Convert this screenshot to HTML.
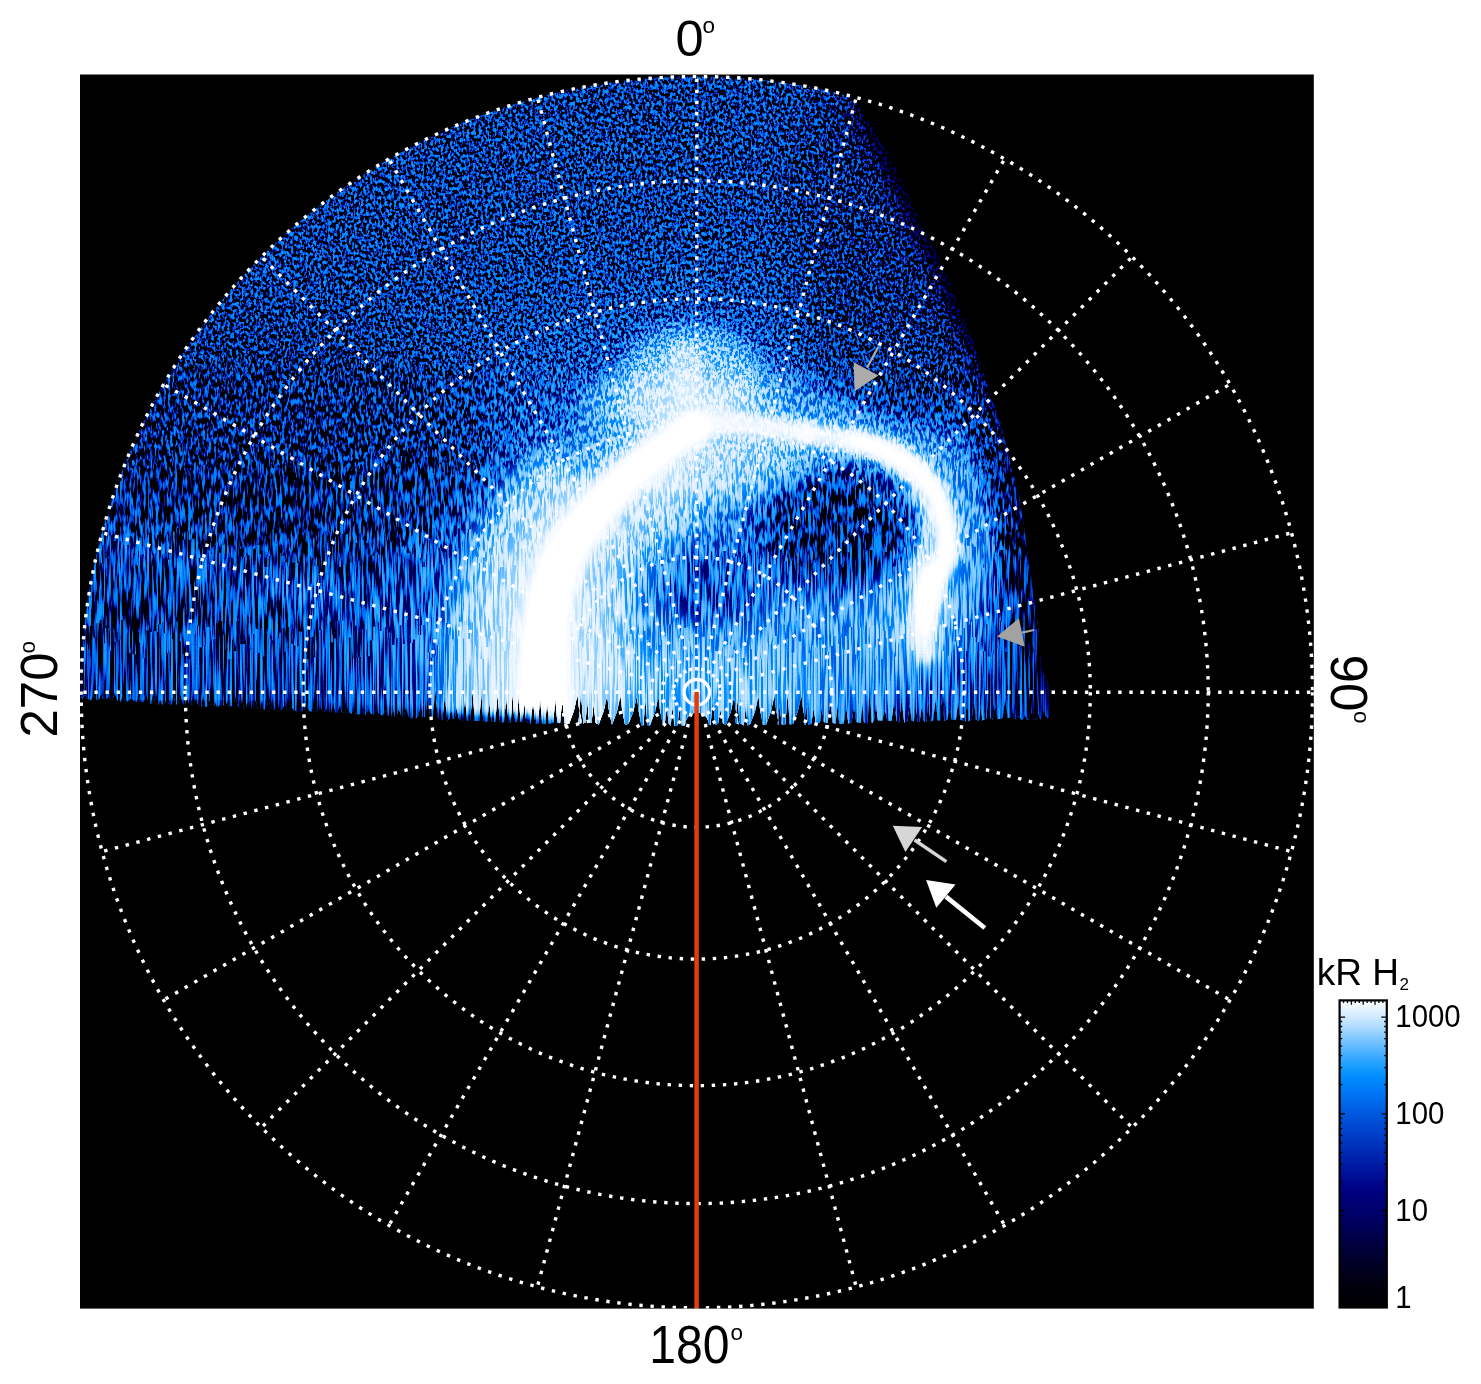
<!DOCTYPE html>
<html lang="en"><head><meta charset="utf-8"><title>Polar projection of auroral emission</title>
<style>html,body{margin:0;padding:0;background:#fff}svg{display:block}</style></head><body>
<svg width="1481" height="1384" viewBox="0 0 1481 1384">
<defs>
<clipPath id="cpBox"><rect x="80" y="74.5" width="1233.8" height="1234.1"/></clipPath>
<clipPath id="cpUp"><rect x="80" y="74.5" width="1233.8" height="619.7"/></clipPath>
<clipPath id="cpData"><path d="M 80 725 L 80 692.2 L 81.8 692.2 A 615 615 0 0 1 850.6 96.7 L 890.6 157 L 919.7 220 L 943.8 268 L 972.9 341 L 1001.9 428 L 1021 505 L 1031 578 L 1038 626 L 1042 675 L 1046 690 L 1049 725 Z"/></clipPath>
<linearGradient id="cbg" x1="0" y1="0" x2="0" y2="1"><stop offset="0.000" stop-color="rgb(255,255,255)"/><stop offset="0.025" stop-color="rgb(233,245,255)"/><stop offset="0.050" stop-color="rgb(212,235,255)"/><stop offset="0.075" stop-color="rgb(186,224,255)"/><stop offset="0.100" stop-color="rgb(157,212,255)"/><stop offset="0.125" stop-color="rgb(128,199,255)"/><stop offset="0.150" stop-color="rgb(99,187,255)"/><stop offset="0.175" stop-color="rgb(69,174,255)"/><stop offset="0.200" stop-color="rgb(42,163,255)"/><stop offset="0.225" stop-color="rgb(16,152,255)"/><stop offset="0.250" stop-color="rgb(0,141,253)"/><stop offset="0.275" stop-color="rgb(0,129,249)"/><stop offset="0.300" stop-color="rgb(0,118,246)"/><stop offset="0.325" stop-color="rgb(0,107,237)"/><stop offset="0.350" stop-color="rgb(0,96,228)"/><stop offset="0.375" stop-color="rgb(0,86,220)"/><stop offset="0.400" stop-color="rgb(0,76,212)"/><stop offset="0.425" stop-color="rgb(0,67,204)"/><stop offset="0.450" stop-color="rgb(0,58,196)"/><stop offset="0.475" stop-color="rgb(0,49,187)"/><stop offset="0.500" stop-color="rgb(0,39,178)"/><stop offset="0.525" stop-color="rgb(0,30,169)"/><stop offset="0.550" stop-color="rgb(0,21,159)"/><stop offset="0.575" stop-color="rgb(0,13,149)"/><stop offset="0.600" stop-color="rgb(0,5,138)"/><stop offset="0.625" stop-color="rgb(0,0,128)"/><stop offset="0.650" stop-color="rgb(0,0,120)"/><stop offset="0.675" stop-color="rgb(0,0,112)"/><stop offset="0.700" stop-color="rgb(0,0,104)"/><stop offset="0.725" stop-color="rgb(0,0,93)"/><stop offset="0.750" stop-color="rgb(0,0,83)"/><stop offset="0.775" stop-color="rgb(0,0,72)"/><stop offset="0.800" stop-color="rgb(0,0,61)"/><stop offset="0.825" stop-color="rgb(0,0,52)"/><stop offset="0.850" stop-color="rgb(0,0,42)"/><stop offset="0.875" stop-color="rgb(0,0,33)"/><stop offset="0.900" stop-color="rgb(0,0,23)"/><stop offset="0.925" stop-color="rgb(0,0,14)"/><stop offset="0.950" stop-color="rgb(0,0,10)"/><stop offset="0.975" stop-color="rgb(0,0,5)"/><stop offset="1.000" stop-color="rgb(0,0,0)"/></linearGradient>
<clipPath id="cpRag"><path d="M 1049 717.9 L 1046.3 717.4 L 1044.1 710 L 1041.8 717.4 L 1040.3 719.5 L 1038.3 713.6 L 1036.3 719.5 L 1033.1 719.2 L 1030.9 711.2 L 1028.7 719.2 L 1026.8 720.1 L 1024.8 714.9 L 1022.7 720.1 L 1021.1 719.5 L 1018.7 715.8 L 1016.3 719.5 L 1013.9 717.6 L 1011.9 709 L 1009.9 717.6 L 1007.7 718 L 1005.2 696.5 L 1002.7 718 L 997.7 719.2 L 995.2 704.6 L 992.6 719.2 L 990.2 718.5 L 988.3 694.6 L 986.4 718.5 L 982.3 720.6 L 980.7 703.8 L 979 720.6 L 975.8 719.7 L 973.8 695.4 L 971.8 719.7 L 968.6 721.3 L 967 692.9 L 965.4 721.3 L 960.4 719.7 L 958.2 700.5 L 955.9 719.7 L 951.8 719.5 L 949.6 705.5 L 947.3 719.5 L 944.2 720.4 L 942.1 691.7 L 940 720.4 L 937.9 720.6 L 935.5 699.4 L 933.1 720.6 L 930.4 721.5 L 928.4 700.4 L 926.3 721.5 L 924 721.4 L 921.9 704.7 L 919.7 721.4 L 917.6 721.3 L 915.7 701.5 L 913.9 721.3 L 911.7 720.4 L 909.6 704.3 L 907.6 720.4 L 904.2 722.5 L 901.6 699 L 899 722.5 L 896.5 720.4 L 894 701.5 L 891.5 720.4 L 887.2 720.8 L 884.7 708.8 L 882.2 720.8 L 877.9 720.2 L 876 704.3 L 874 720.2 L 871.9 723.3 L 869.7 689.6 L 867.5 723.3 L 864 722.8 L 862.3 703 L 860.7 722.8 L 856.2 722.1 L 854 705 L 851.7 722.1 L 848.3 723.5 L 846.1 704.5 L 843.8 723.5 L 839.2 723.5 L 837.4 704.1 L 835.6 723.5 L 832.8 723.1 L 830.3 699.7 L 827.7 723.1 L 823.6 721.9 L 821.8 704.5 L 820 721.9 L 815.9 724 L 813.6 707.7 L 811.3 724 L 808.1 724.4 L 806.2 701.8 L 804.4 724.4 L 806 724.5 L 803 708.6 L 801.5 694.6 L 798 710.6 L 793 724.1 L 789.7 724.2 L 787.6 692.8 L 785.4 724.2 L 781.6 724.2 L 779.7 703.6 L 777.7 724.2 L 779 724.9 L 776 709.1 L 774.5 695.1 L 771 711.1 L 766 724.7 L 763 725 L 760 709.4 L 758.5 695.4 L 755 711.4 L 750 724.2 L 747.7 725.4 L 745.8 705.4 L 743.8 725.4 L 739.7 723.1 L 737.6 699.3 L 735.4 723.1 L 738.7 724.4 L 735.7 709.9 L 734.2 695.9 L 730.7 711.9 L 725.7 724.7 L 722.7 723.3 L 720.4 709.2 L 718.2 723.3 L 715.2 725.2 L 712.9 697 L 710.6 725.2 L 709 724.3 L 709 725.5 L 708.6 722.1 L 707.4 719 L 705.5 716.3 L 703 714.2 L 700.1 712.9 L 697 712.5 L 693.9 712.9 L 691 714.2 L 688.5 716.3 L 686.6 719 L 685.4 722.1 L 685 725.5 L 681.5 725.2 L 679.5 708.6 L 677.4 725.2 L 674.4 725.9 L 672.6 705.6 L 670.7 725.9 L 668.7 723.6 L 666.8 706.4 L 664.8 723.6 L 663 724.9 L 660 709.9 L 658.5 695.9 L 655 711.9 L 650 725.3 L 647.5 725.2 L 645.4 699.6 L 643.4 725.2 L 641.4 725.2 L 638.4 709.5 L 636.9 695.5 L 633.4 711.5 L 628.4 724 L 625 724.6 L 622 709.3 L 620.5 695.3 L 617 711.3 L 612 724.6 L 611.7 723.8 L 608.7 709.1 L 607.2 695.1 L 603.7 711.1 L 598.7 724.6 L 595.7 722.9 L 593.6 703.7 L 591.5 722.9 L 589.1 722.6 L 587.3 700 L 585.5 722.6 L 583.3 723.5 L 580.9 691.5 L 578.5 723.5 L 582 722.9 L 579 708.6 L 577.5 694.6 L 574 710.6 L 569 723.9 L 564.5 723.3 L 562.3 697.5 L 560.1 723.3 L 557.3 722.6 L 555.3 697.7 L 553.3 722.6 L 548.8 724.1 L 547.1 699.2 L 545.3 724.1 L 541.7 723.6 L 540.1 691.6 L 538.4 723.6 L 535.3 723.6 L 533 700.4 L 530.7 723.6 L 526.2 721.8 L 524.4 701.6 L 522.5 721.8 L 520.5 721.7 L 518.7 693.2 L 517 721.7 L 514.4 722.5 L 512.6 691.4 L 510.8 722.5 L 508.5 722.2 L 506.2 696.2 L 504 722.2 L 500 721.9 L 497.6 693.9 L 495.2 721.9 L 491.3 721.6 L 489.3 700.7 L 487.3 721.6 L 483.2 721 L 481.3 690.1 L 479.4 721 L 474.8 721.1 L 472.6 689 L 470.3 721.1 L 467 720.9 L 465 695.5 L 463 720.9 L 458.5 718.5 L 456.7 705.9 L 455 718.5 L 452.7 718.6 L 451.1 706.7 L 449.4 718.6 L 447.1 720.4 L 444.8 694.2 L 442.5 720.4 L 437.6 717.1 L 435.3 687 L 432.9 717.1 L 430.3 717.2 L 427.7 696.1 L 425.2 717.2 L 421.8 717.1 L 419.8 710.2 L 417.8 717.1 L 415.7 718.6 L 414 709.3 L 412.3 718.6 L 408.3 716.5 L 406 706 L 403.6 716.5 L 401.4 717 L 398.8 708.6 L 396.3 717 L 394.8 716.8 L 392.9 709.3 L 391.1 716.8 L 387.6 715.4 L 385.2 710.2 L 382.8 715.4 L 379.2 714.3 L 376.6 708.4 L 374 714.3 L 370.9 714 L 368.8 709 L 366.7 714 L 364.2 714.5 L 362 710.8 L 359.8 714.5 L 355.9 713.7 L 353.6 709.2 L 351.2 713.7 L 349.5 712.6 L 347.1 705.4 L 344.8 712.6 L 341.9 712.8 L 339.7 705.5 L 337.5 712.8 L 335.2 712.3 L 333.3 701.3 L 331.3 712.3 L 328.6 712.1 L 326.5 708.4 L 324.5 712.1 L 322.4 711.6 L 320.5 706.3 L 318.6 711.6 L 314.8 712.1 L 312.9 706.1 L 311 712.1 L 308.5 710 L 306.4 703 L 304.2 710 L 301.1 711.8 L 299.4 706.1 L 297.7 711.8 L 293.7 710.3 L 291.4 706.4 L 289.1 710.3 L 286.9 709.2 L 284.5 705.5 L 282 709.2 L 279 709.6 L 276.7 701.8 L 274.5 709.6 L 270.6 708.8 L 268.5 698.2 L 266.5 708.8 L 263.8 709.5 L 261.8 699.8 L 259.9 709.5 L 257.8 708.5 L 255.7 699.4 L 253.5 708.5 L 250.4 707.6 L 248.2 699.1 L 245.9 707.6 L 243.7 708.5 L 242.1 697.1 L 240.4 708.5 L 238 706.3 L 235.4 696.7 L 232.8 706.3 L 229.2 706.1 L 227.2 701.5 L 225.2 706.1 L 222.6 705.3 L 221 703.5 L 219.3 705.3 L 217.1 707.2 L 215.3 702.6 L 213.6 707.2 L 211.1 707.1 L 209 697.9 L 206.9 707.1 L 205.1 706.7 L 203.2 695.3 L 201.4 706.7 L 197.6 704.1 L 195.5 699.3 L 193.3 704.1 L 189.5 705.5 L 187.2 697.2 L 184.8 705.5 L 182.7 703.1 L 180.5 693.6 L 178.4 703.1 L 175.4 704.9 L 173.6 693.8 L 171.8 704.9 L 168.7 703.4 L 166.6 700.8 L 164.6 703.4 L 162.2 704.4 L 160.2 699.9 L 158.2 704.4 L 155.4 703.9 L 153.2 692.6 L 151.1 703.9 L 148.2 701.9 L 146.1 692.2 L 143.9 701.9 L 140.2 701.9 L 138.5 692.2 L 136.9 701.9 L 133.9 701.2 L 131.3 697 L 128.7 701.2 L 125.2 701.9 L 122.8 693.8 L 120.5 701.9 L 117.3 700.2 L 114.8 692.2 L 112.4 700.2 L 110.1 698.8 L 108.5 696.6 L 106.8 698.8 L 102.8 698.7 L 101.1 691.9 L 99.3 698.7 L 95.4 700.3 L 93.3 695.3 L 91.2 700.3 L 87.5 698.6 L 84.9 694.4 L 82.4 698.6 L 80 697 L 80 692.2 L 81.1 692.2 A 615.7 615.7 0 0 1 850.8 96.1 L 890.6 157 L 919.7 220 L 943.8 268 L 972.9 341 L 1001.9 428 L 1021 505 L 1031 578 L 1038 626 L 1041.5 672 L 1046 676 L 1049.5 690 Z"/></clipPath>
<filter id="b6" x="-50%" y="-50%" width="200%" height="200%" color-interpolation-filters="sRGB"><feGaussianBlur stdDeviation="5"/></filter>
<filter id="b12" x="-50%" y="-50%" width="200%" height="200%" color-interpolation-filters="sRGB"><feGaussianBlur stdDeviation="11"/></filter>
<filter id="b25" x="-50%" y="-50%" width="200%" height="200%" color-interpolation-filters="sRGB"><feGaussianBlur stdDeviation="24"/></filter>
<filter id="b40" x="-50%" y="-50%" width="200%" height="200%" color-interpolation-filters="sRGB"><feGaussianBlur stdDeviation="40"/></filter>
<filter id="b60" x="-50%" y="-50%" width="200%" height="200%" color-interpolation-filters="sRGB"><feGaussianBlur stdDeviation="60"/></filter>
<filter id="nA" filterUnits="userSpaceOnUse" x="70" y="36" width="1000" height="726" color-interpolation-filters="sRGB"><feTurbulence type="fractalNoise" baseFrequency="0.33 0.31" numOctaves="2" seed="3" result="t1"/><feTurbulence type="fractalNoise" baseFrequency="0.426 0.245" numOctaves="2" seed="23" result="t2"/><feComposite in="t1" in2="t2" operator="arithmetic" k1="0" k2="0.5" k3="0.5" k4="0" result="t"/><feColorMatrix in="t" type="matrix" values="1 0 0 0 0 1 0 0 0 0 1 0 0 0 0 0 0 0 0 1" result="g"/><feComponentTransfer in="g" result="s"><feFuncR type="table" tableValues="0 0 0 0 0 0 0 0 0 0 0 0 0 0 0 0 0 0 0 0 0 0 0 0 0 0 0 0 0 0 0 0 0 0 0.0103 0.138 0.267 0.395 0.508 0.62 0.732 0.782 0.821 0.859 0.886 0.909 0.931 0.95 0.967 0.983 1 1 1 1 1 1 1 1 1 1 1 1 1 1 1 1 1 1 1 1 1 1 1 1 1 1 1 1 1 1 1"/><feFuncG type="table" tableValues="0 0 0 0 0 0 0 0 0 0 0 0 0 0 0 0 0 0 0 0 0 0 0 0 0 0 0 0 0 0 0 0 0 0 0.0103 0.138 0.267 0.395 0.508 0.62 0.732 0.782 0.821 0.859 0.886 0.909 0.931 0.95 0.967 0.983 1 1 1 1 1 1 1 1 1 1 1 1 1 1 1 1 1 1 1 1 1 1 1 1 1 1 1 1 1 1 1"/><feFuncB type="table" tableValues="0 0 0 0 0 0 0 0 0 0 0 0 0 0 0 0 0 0 0 0 0 0 0 0 0 0 0 0 0 0 0 0 0 0 0.0103 0.138 0.267 0.395 0.508 0.62 0.732 0.782 0.821 0.859 0.886 0.909 0.931 0.95 0.967 0.983 1 1 1 1 1 1 1 1 1 1 1 1 1 1 1 1 1 1 1 1 1 1 1 1 1 1 1 1 1 1 1"/></feComponentTransfer><feComponentTransfer in="SourceGraphic" result="xa"><feFuncR type="table" tableValues="0 0.35 0.5 0.65 0.8 0.76 0.625 0.39 0.145 0.085 0"/><feFuncG type="table" tableValues="0 0.35 0.5 0.65 0.8 0.76 0.625 0.39 0.145 0.085 0"/><feFuncB type="table" tableValues="0 0.35 0.5 0.65 0.8 0.76 0.625 0.39 0.145 0.085 0"/></feComponentTransfer><feComponentTransfer in="SourceGraphic" result="bh"><feFuncR type="table" tableValues="0 0 0 0 0 0.1 0.25 0.5 0.8 0.9 1"/><feFuncG type="table" tableValues="0 0 0 0 0 0.1 0.25 0.5 0.8 0.9 1"/><feFuncB type="table" tableValues="0 0 0 0 0 0.1 0.25 0.5 0.8 0.9 1"/></feComponentTransfer><feComposite in="xa" in2="s" operator="arithmetic" k1="1" k2="0" k3="0" k4="0" result="m"/><feComposite in="bh" in2="m" operator="arithmetic" k1="0" k2="1" k3="1" k4="0" result="w"/><feComponentTransfer in="w"><feFuncR type="table" tableValues="0.000 0.000 0.000 0.000 0.000 0.000 0.000 0.000 0.000 0.000 0.000 0.000 0.000 0.000 0.000 0.000 0.000 0.000 0.000 0.000 0.000 0.000 0.000 0.000 0.000 0.000 0.000 0.000 0.000 0.000 0.000 0.000 0.000 0.000 0.000 0.000 0.000 0.000 0.000 0.000 0.000 0.000 0.000 0.000 0.000 0.000 0.000 0.000 0.000 0.000 0.000 0.000 0.000 0.000 0.000 0.000 0.000 0.089 0.220 0.360 0.503 0.646 0.789 0.896 1.000"/><feFuncG type="table" tableValues="0.000 0.000 0.000 0.000 0.000 0.000 0.000 0.000 0.000 0.000 0.000 0.000 0.000 0.000 0.000 0.000 0.000 0.000 0.000 0.000 0.000 0.000 0.000 0.000 0.000 0.000 0.000 0.000 0.000 0.000 0.000 0.000 0.000 0.000 0.000 0.000 0.000 0.000 0.000 0.000 0.000 0.000 0.000 0.000 0.000 0.028 0.070 0.113 0.157 0.201 0.246 0.292 0.338 0.389 0.442 0.497 0.554 0.609 0.662 0.721 0.782 0.844 0.905 0.953 1.000"/><feFuncB type="table" tableValues="0.000 0.000 0.000 0.000 0.000 0.000 0.000 0.000 0.000 0.000 0.000 0.000 0.000 0.000 0.000 0.000 0.000 0.000 0.000 0.000 0.000 0.000 0.000 0.000 0.000 0.000 0.000 0.000 0.000 0.000 0.000 0.000 0.000 0.025 0.049 0.083 0.130 0.177 0.224 0.274 0.325 0.377 0.424 0.464 0.505 0.554 0.606 0.654 0.698 0.742 0.785 0.824 0.864 0.906 0.948 0.976 0.994 1.000 1.000 1.000 1.000 1.000 1.000 1.000 1.000"/></feComponentTransfer></filter>
<filter id="nB" filterUnits="userSpaceOnUse" x="70" y="348" width="1000" height="414" color-interpolation-filters="sRGB"><feTurbulence type="fractalNoise" baseFrequency="0.34 0.16" numOctaves="2" seed="7" result="t1"/><feTurbulence type="fractalNoise" baseFrequency="0.439 0.126" numOctaves="2" seed="27" result="t2"/><feComposite in="t1" in2="t2" operator="arithmetic" k1="0" k2="0.5" k3="0.5" k4="0" result="t"/><feColorMatrix in="t" type="matrix" values="1 0 0 0 0 1 0 0 0 0 1 0 0 0 0 0 0 0 0 1" result="g"/><feComponentTransfer in="g" result="s"><feFuncR type="table" tableValues="0 0 0 0 0 0 0 0 0 0 0 0 0 0 0 0 0 0 0 0 0 0 0 0 0 0 0 0 0 0 0 0 0 0 0.0103 0.138 0.267 0.395 0.508 0.62 0.732 0.782 0.821 0.859 0.886 0.909 0.931 0.95 0.967 0.983 1 1 1 1 1 1 1 1 1 1 1 1 1 1 1 1 1 1 1 1 1 1 1 1 1 1 1 1 1 1 1"/><feFuncG type="table" tableValues="0 0 0 0 0 0 0 0 0 0 0 0 0 0 0 0 0 0 0 0 0 0 0 0 0 0 0 0 0 0 0 0 0 0 0.0103 0.138 0.267 0.395 0.508 0.62 0.732 0.782 0.821 0.859 0.886 0.909 0.931 0.95 0.967 0.983 1 1 1 1 1 1 1 1 1 1 1 1 1 1 1 1 1 1 1 1 1 1 1 1 1 1 1 1 1 1 1"/><feFuncB type="table" tableValues="0 0 0 0 0 0 0 0 0 0 0 0 0 0 0 0 0 0 0 0 0 0 0 0 0 0 0 0 0 0 0 0 0 0 0.0103 0.138 0.267 0.395 0.508 0.62 0.732 0.782 0.821 0.859 0.886 0.909 0.931 0.95 0.967 0.983 1 1 1 1 1 1 1 1 1 1 1 1 1 1 1 1 1 1 1 1 1 1 1 1 1 1 1 1 1 1 1"/></feComponentTransfer><feComponentTransfer in="SourceGraphic" result="xa"><feFuncR type="table" tableValues="0 0.35 0.5 0.65 0.8 0.76 0.625 0.39 0.145 0.085 0"/><feFuncG type="table" tableValues="0 0.35 0.5 0.65 0.8 0.76 0.625 0.39 0.145 0.085 0"/><feFuncB type="table" tableValues="0 0.35 0.5 0.65 0.8 0.76 0.625 0.39 0.145 0.085 0"/></feComponentTransfer><feComponentTransfer in="SourceGraphic" result="bh"><feFuncR type="table" tableValues="0 0 0 0 0 0.1 0.25 0.5 0.8 0.9 1"/><feFuncG type="table" tableValues="0 0 0 0 0 0.1 0.25 0.5 0.8 0.9 1"/><feFuncB type="table" tableValues="0 0 0 0 0 0.1 0.25 0.5 0.8 0.9 1"/></feComponentTransfer><feComposite in="xa" in2="s" operator="arithmetic" k1="1" k2="0" k3="0" k4="0" result="m"/><feComposite in="bh" in2="m" operator="arithmetic" k1="0" k2="1" k3="1" k4="0" result="w"/><feComponentTransfer in="w"><feFuncR type="table" tableValues="0.000 0.000 0.000 0.000 0.000 0.000 0.000 0.000 0.000 0.000 0.000 0.000 0.000 0.000 0.000 0.000 0.000 0.000 0.000 0.000 0.000 0.000 0.000 0.000 0.000 0.000 0.000 0.000 0.000 0.000 0.000 0.000 0.000 0.000 0.000 0.000 0.000 0.000 0.000 0.000 0.000 0.000 0.000 0.000 0.000 0.000 0.000 0.000 0.000 0.000 0.000 0.000 0.000 0.000 0.000 0.000 0.000 0.089 0.220 0.360 0.503 0.646 0.789 0.896 1.000"/><feFuncG type="table" tableValues="0.000 0.000 0.000 0.000 0.000 0.000 0.000 0.000 0.000 0.000 0.000 0.000 0.000 0.000 0.000 0.000 0.000 0.000 0.000 0.000 0.000 0.000 0.000 0.000 0.000 0.000 0.000 0.000 0.000 0.000 0.000 0.000 0.000 0.000 0.000 0.000 0.000 0.000 0.000 0.000 0.000 0.000 0.000 0.000 0.000 0.028 0.070 0.113 0.157 0.201 0.246 0.292 0.338 0.389 0.442 0.497 0.554 0.609 0.662 0.721 0.782 0.844 0.905 0.953 1.000"/><feFuncB type="table" tableValues="0.000 0.000 0.000 0.000 0.000 0.000 0.000 0.000 0.000 0.000 0.000 0.000 0.000 0.000 0.000 0.000 0.000 0.000 0.000 0.000 0.000 0.000 0.000 0.000 0.000 0.000 0.000 0.000 0.000 0.000 0.000 0.000 0.000 0.025 0.049 0.083 0.130 0.177 0.224 0.274 0.325 0.377 0.424 0.464 0.505 0.554 0.606 0.654 0.698 0.742 0.785 0.824 0.864 0.906 0.948 0.976 0.994 1.000 1.000 1.000 1.000 1.000 1.000 1.000 1.000"/></feComponentTransfer></filter>
<clipPath id="cnB"><path d="M70 770 L70 371.9 L72.2 371.9 L72.2 377.5 L74.3 377.5 L74.3 370.9 L78.2 370.9 L78.2 355.4 L80.5 355.4 L80.5 379.1 L82.2 379.1 L82.2 358.1 L85.8 358.1 L85.8 391.2 L88.1 391.2 L88.1 359.6 L92 359.6 L92 365.2 L95 365.2 L95 376.3 L98.1 376.3 L98.1 388.6 L102 388.6 L102 379.7 L105.6 379.7 L105.6 383.8 L108.7 383.8 L108.7 369.2 L110.7 369.2 L110.7 362.6 L114.6 362.6 L114.6 380 L116.3 380 L116.3 388.4 L118.5 388.4 L118.5 379.7 L121.2 379.7 L121.2 362.8 L123.2 362.8 L123.2 375.2 L125.7 375.2 L125.7 377 L128.9 377 L128.9 384.8 L132.6 384.8 L132.6 377 L136.5 377 L136.5 371.8 L140.2 371.8 L140.2 384.6 L143.8 384.6 L143.8 357 L146.7 357 L146.7 372.7 L148.4 372.7 L148.4 366.7 L151.2 366.7 L151.2 352.3 L152.7 352.3 L152.7 375.5 L155.3 375.5 L155.3 391.1 L158.9 391.1 L158.9 385.2 L162.4 385.2 L162.4 361 L165.7 361 L165.7 355.9 L167.5 355.9 L167.5 367 L169.7 367 L169.7 353.3 L172.5 353.3 L172.5 390.6 L174.2 390.6 L174.2 361.5 L178 361.5 L178 373.1 L180.6 373.1 L180.6 368.7 L184.2 368.7 L184.2 370.8 L186.7 370.8 L186.7 366.5 L190.1 366.5 L190.1 352.8 L192.7 352.8 L192.7 377.6 L194.3 377.6 L194.3 364.7 L196.6 364.7 L196.6 377.8 L199.4 377.8 L199.4 371.9 L201.7 371.9 L201.7 369.2 L205.5 369.2 L205.5 356.5 L207.2 356.5 L207.2 358.4 L208.8 358.4 L208.8 357.7 L211.1 357.7 L211.1 381.5 L215 381.5 L215 352.6 L217.8 352.6 L217.8 361.6 L221.5 361.6 L221.5 391.8 L224.8 391.8 L224.8 353.1 L227.5 353.1 L227.5 369.3 L230.3 369.3 L230.3 360.9 L231.9 360.9 L231.9 376.2 L235.5 376.2 L235.5 365.4 L237.9 365.4 L237.9 353.8 L240.8 353.8 L240.8 384.6 L243.5 384.6 L243.5 357 L245.2 357 L245.2 386 L248.5 386 L248.5 362.2 L251.3 362.2 L251.3 356.9 L254.2 356.9 L254.2 353.1 L256.5 353.1 L256.5 371.4 L259.1 371.4 L259.1 363.8 L262.3 363.8 L262.3 361.9 L265.7 361.9 L265.7 385.2 L268.7 385.2 L268.7 390.4 L270.8 390.4 L270.8 391.1 L272.4 391.1 L272.4 374.5 L274.4 374.5 L274.4 356.6 L276.6 356.6 L276.6 367.2 L278.1 367.2 L278.1 363.3 L281.9 363.3 L281.9 384.1 L285 384.1 L285 390.6 L287.8 390.6 L287.8 382.3 L291.5 382.3 L291.5 373 L294.2 373 L294.2 358.3 L298.1 358.3 L298.1 365.4 L300.1 365.4 L300.1 361.2 L303.5 361.2 L303.5 363.5 L306.7 363.5 L306.7 377.4 L310.6 377.4 L310.6 384.6 L314.4 384.6 L314.4 360.6 L316 360.6 L316 353.2 L318 353.2 L318 355.5 L319.9 355.5 L319.9 380.2 L322.5 380.2 L322.5 362.3 L325.2 362.3 L325.2 360.5 L327.6 360.5 L327.6 367.5 L329.3 367.5 L329.3 389.7 L333 389.7 L333 366.4 L336.1 366.4 L336.1 353 L338.5 353 L338.5 375.8 L341.1 375.8 L341.1 356.7 L343.8 356.7 L343.8 361.9 L346.8 361.9 L346.8 379.7 L349.7 379.7 L349.7 386.5 L353.2 386.5 L353.2 356.9 L357.1 356.9 L357.1 378.6 L360 378.6 L360 370.9 L363.5 370.9 L363.5 364 L366.7 364 L366.7 367.5 L369.6 367.5 L369.6 376.2 L372.4 376.2 L372.4 375.7 L374 375.7 L374 360.7 L376.4 360.7 L376.4 365.5 L378.9 365.5 L378.9 364.4 L381.1 364.4 L381.1 371 L383 371 L383 356.3 L386.8 356.3 L386.8 378.4 L390.3 378.4 L390.3 365.4 L394 365.4 L394 369.2 L396.7 369.2 L396.7 352.9 L398.7 352.9 L398.7 377.2 L402.1 377.2 L402.1 364.2 L405.7 364.2 L405.7 378.2 L407.3 378.2 L407.3 361.8 L411.2 361.8 L411.2 372.8 L412.7 372.8 L412.7 378.8 L415.2 378.8 L415.2 355.9 L419 355.9 L419 368.1 L422.2 368.1 L422.2 365.4 L425.9 365.4 L425.9 376 L428.3 376 L428.3 363.3 L432.1 363.3 L432.1 377.7 L436 377.7 L436 359.2 L438.6 359.2 L438.6 379.6 L442.6 379.6 L442.6 382.6 L445.2 382.6 L445.2 388.4 L448.6 388.4 L448.6 365.2 L451 365.2 L451 375.2 L455 375.2 L455 378 L457.6 378 L457.6 379 L459.3 379 L459.3 373.6 L462.3 373.6 L462.3 381.9 L466.1 381.9 L466.1 354.4 L469.2 354.4 L469.2 371.2 L471.4 371.2 L471.4 371.8 L473.6 371.8 L473.6 360 L477.3 360 L477.3 376.5 L479.1 376.5 L479.1 365.6 L480.7 365.6 L480.7 366.7 L483.1 366.7 L483.1 354.3 L484.8 354.3 L484.8 369.5 L488.8 369.5 L488.8 363.7 L492.6 363.7 L492.6 356.6 L496.1 356.6 L496.1 357.1 L499.3 357.1 L499.3 358.6 L503.1 358.6 L503.1 388.7 L505.2 388.7 L505.2 391.6 L508.4 391.6 L508.4 353.9 L512.1 353.9 L512.1 369.1 L514.7 369.1 L514.7 370 L516.8 370 L516.8 388.9 L520 388.9 L520 382.3 L523.6 382.3 L523.6 362.4 L526.9 362.4 L526.9 382 L529.3 382 L529.3 378.2 L532.2 378.2 L532.2 387.2 L535 387.2 L535 367.5 L538 367.5 L538 382.8 L541.2 382.8 L541.2 367.7 L544.2 367.7 L544.2 389.6 L547.4 389.6 L547.4 381.5 L549.3 381.5 L549.3 371 L552.1 371 L552.1 363.2 L555 363.2 L555 355.8 L556.9 355.8 L556.9 366.8 L560.4 366.8 L560.4 387.5 L562.6 387.5 L562.6 388 L566.4 388 L566.4 367.9 L568.9 367.9 L568.9 361.9 L570.7 361.9 L570.7 383.5 L573.1 383.5 L573.1 358.5 L576.5 358.5 L576.5 381.1 L578.6 381.1 L578.6 381.3 L582.3 381.3 L582.3 373.6 L585.8 373.6 L585.8 365.1 L589.3 365.1 L589.3 383.6 L592.8 383.6 L592.8 373.7 L595.1 373.7 L595.1 387.4 L598.7 387.4 L598.7 366.6 L602.1 366.6 L602.1 373.8 L605.4 373.8 L605.4 380.7 L608.7 380.7 L608.7 369.3 L612.6 369.3 L612.6 378.1 L615.4 378.1 L615.4 363.9 L618 363.9 L618 391.5 L620.4 391.5 L620.4 367.7 L622.2 367.7 L622.2 365.5 L623.9 365.5 L623.9 363.4 L626.5 363.4 L626.5 373.8 L628.2 373.8 L628.2 371.8 L632.2 371.8 L632.2 380.2 L636 380.2 L636 379.3 L637.9 379.3 L637.9 370.2 L639.9 370.2 L639.9 376.4 L641.5 376.4 L641.5 376 L645 376 L645 366.7 L648.3 366.7 L648.3 357.7 L651.2 357.7 L651.2 383.3 L655.1 383.3 L655.1 384.4 L657.8 384.4 L657.8 369.8 L660.4 369.8 L660.4 367.7 L662.8 367.7 L662.8 370.8 L664.6 370.8 L664.6 354.4 L666.7 354.4 L666.7 355.8 L668.4 355.8 L668.4 379.9 L670.4 379.9 L670.4 373.6 L673.2 373.6 L673.2 357.9 L676 357.9 L676 367.4 L678.6 367.4 L678.6 381.2 L681 381.2 L681 385.1 L684.9 385.1 L684.9 359 L686.8 359 L686.8 367.6 L690 367.6 L690 381.1 L692.2 381.1 L692.2 383.2 L694.5 383.2 L694.5 389.9 L696.7 389.9 L696.7 366 L699.3 366 L699.3 371.3 L701.4 371.3 L701.4 372 L704.1 372 L704.1 354.8 L707.6 354.8 L707.6 362.6 L710.6 362.6 L710.6 365.7 L712.7 365.7 L712.7 369.8 L714.9 369.8 L714.9 376.2 L718.4 376.2 L718.4 375.1 L721.1 375.1 L721.1 367 L724.2 367 L724.2 352.2 L725.7 352.2 L725.7 356.6 L727.7 356.6 L727.7 382.8 L731.2 382.8 L731.2 375.1 L732.9 375.1 L732.9 370.3 L736 370.3 L736 390.9 L739.5 390.9 L739.5 368.7 L741.5 368.7 L741.5 376.9 L744.1 376.9 L744.1 390.7 L748.1 390.7 L748.1 385.9 L751.8 385.9 L751.8 356.3 L754.6 356.3 L754.6 354.4 L756.8 354.4 L756.8 389.7 L760.5 389.7 L760.5 377.7 L764.4 377.7 L764.4 383.1 L767.6 383.1 L767.6 389.3 L769.7 389.3 L769.7 384.1 L772.3 384.1 L772.3 357.5 L775.1 357.5 L775.1 381.1 L778.5 381.1 L778.5 380.3 L781.4 380.3 L781.4 361.8 L783.7 361.8 L783.7 377 L785.8 377 L785.8 385.2 L787.7 385.2 L787.7 355.9 L791 355.9 L791 372.3 L793.1 372.3 L793.1 369.5 L797.1 369.5 L797.1 358.7 L800 358.7 L800 380.8 L803.6 380.8 L803.6 373.6 L805.6 373.6 L805.6 355.2 L807.9 355.2 L807.9 375.1 L811.3 375.1 L811.3 367.5 L814.7 367.5 L814.7 381.2 L816.3 381.2 L816.3 352.1 L817.9 352.1 L817.9 383.3 L819.9 383.3 L819.9 391 L822.3 391 L822.3 353.5 L824.9 353.5 L824.9 380.6 L827.8 380.6 L827.8 381.3 L829.8 381.3 L829.8 375.4 L831.8 375.4 L831.8 389.4 L835.4 389.4 L835.4 373.1 L839.2 373.1 L839.2 354.4 L842.3 354.4 L842.3 372.6 L845 372.6 L845 362 L847.9 362 L847.9 381 L851.3 381 L851.3 367 L852.8 367 L852.8 381.6 L854.9 381.6 L854.9 391.5 L857.7 391.5 L857.7 382.7 L859.3 382.7 L859.3 360.2 L862.4 360.2 L862.4 355 L865 355 L865 386.6 L868.7 386.6 L868.7 385.7 L871 385.7 L871 385.2 L873.3 385.2 L873.3 376.3 L876.2 376.3 L876.2 369.2 L878.3 369.2 L878.3 390.9 L881.2 390.9 L881.2 370.1 L883.6 370.1 L883.6 367.3 L885.6 367.3 L885.6 355.1 L888.1 355.1 L888.1 383.7 L892 383.7 L892 384.2 L894.2 384.2 L894.2 367.7 L897 367.7 L897 382.7 L898.7 382.7 L898.7 390.4 L900.7 390.4 L900.7 368.4 L902.4 368.4 L902.4 356 L904.7 356 L904.7 385.4 L907.1 385.4 L907.1 389.8 L909.9 389.8 L909.9 375.1 L911.8 375.1 L911.8 375.4 L914.4 375.4 L914.4 353.9 L917.3 353.9 L917.3 357.7 L921.3 357.7 L921.3 390.5 L923 390.5 L923 387.4 L925.4 387.4 L925.4 385.8 L927.2 385.8 L927.2 369 L928.9 369 L928.9 375.7 L930.8 375.7 L930.8 390.6 L934.8 390.6 L934.8 379.3 L938.2 379.3 L938.2 366.1 L940.8 366.1 L940.8 360.9 L943 360.9 L943 360.3 L946.3 360.3 L946.3 380.2 L948 380.2 L948 370.3 L950.3 370.3 L950.3 366.5 L953.9 366.5 L953.9 366.7 L957 366.7 L957 373.4 L959.8 373.4 L959.8 361.3 L962.8 361.3 L962.8 363.3 L964.7 363.3 L964.7 354.3 L967.9 354.3 L967.9 359.6 L970.6 359.6 L970.6 371.8 L972.8 371.8 L972.8 363.4 L976.6 363.4 L976.6 380.2 L979.5 380.2 L979.5 352.8 L983.5 352.8 L983.5 365.4 L986 365.4 L986 391.9 L987.8 391.9 L987.8 356.5 L990.4 356.5 L990.4 389.8 L993.8 389.8 L993.8 385.2 L997.4 385.2 L997.4 388.1 L999.2 388.1 L999.2 381 L1002.3 381 L1002.3 385.7 L1004.1 385.7 L1004.1 373.5 L1005.7 373.5 L1005.7 366.1 L1008.5 366.1 L1008.5 382.7 L1010.6 382.7 L1010.6 360.8 L1012.5 360.8 L1012.5 360.7 L1015.5 360.7 L1015.5 376.9 L1018 376.9 L1018 380 L1019.8 380 L1019.8 372.7 L1021.6 372.7 L1021.6 352.6 L1024.5 352.6 L1024.5 353.4 L1028.3 353.4 L1028.3 373.1 L1032.1 373.1 L1032.1 371.9 L1035.4 371.9 L1035.4 374.3 L1037.2 374.3 L1037.2 359.7 L1039.5 359.7 L1039.5 357.5 L1042.6 357.5 L1042.6 360.2 L1044.3 360.2 L1044.3 386.8 L1048.1 386.8 L1048.1 387.8 L1050.7 387.8 L1050.7 362.1 L1053.2 362.1 L1053.2 362.8 L1057 362.8 L1057 381.6 L1060.1 381.6 L1060.1 362.8 L1061.6 362.8 L1061.6 372.5 L1064.7 372.5 L1064.7 389.2 L1067.1 389.2 L1067.1 353.6 L1068.8 353.6 L1068.8 382.7 L1070.7 382.7 L1070.7 373.1 L1073.4 373.1 L1072 770Z"/></clipPath>
<filter id="nC" filterUnits="userSpaceOnUse" x="70" y="439" width="1000" height="323" color-interpolation-filters="sRGB"><feTurbulence type="fractalNoise" baseFrequency="0.34 0.075" numOctaves="2" seed="11" result="t1"/><feTurbulence type="fractalNoise" baseFrequency="0.439 0.0592" numOctaves="2" seed="31" result="t2"/><feComposite in="t1" in2="t2" operator="arithmetic" k1="0" k2="0.5" k3="0.5" k4="0" result="t"/><feColorMatrix in="t" type="matrix" values="1 0 0 0 0 1 0 0 0 0 1 0 0 0 0 0 0 0 0 1" result="g"/><feComponentTransfer in="g" result="s"><feFuncR type="table" tableValues="0 0 0 0 0 0 0 0 0 0 0 0 0 0 0 0 0 0 0 0 0 0 0 0 0 0 0 0 0 0 0 0 0 0 0.0103 0.138 0.267 0.395 0.508 0.62 0.732 0.782 0.821 0.859 0.886 0.909 0.931 0.95 0.967 0.983 1 1 1 1 1 1 1 1 1 1 1 1 1 1 1 1 1 1 1 1 1 1 1 1 1 1 1 1 1 1 1"/><feFuncG type="table" tableValues="0 0 0 0 0 0 0 0 0 0 0 0 0 0 0 0 0 0 0 0 0 0 0 0 0 0 0 0 0 0 0 0 0 0 0.0103 0.138 0.267 0.395 0.508 0.62 0.732 0.782 0.821 0.859 0.886 0.909 0.931 0.95 0.967 0.983 1 1 1 1 1 1 1 1 1 1 1 1 1 1 1 1 1 1 1 1 1 1 1 1 1 1 1 1 1 1 1"/><feFuncB type="table" tableValues="0 0 0 0 0 0 0 0 0 0 0 0 0 0 0 0 0 0 0 0 0 0 0 0 0 0 0 0 0 0 0 0 0 0 0.0103 0.138 0.267 0.395 0.508 0.62 0.732 0.782 0.821 0.859 0.886 0.909 0.931 0.95 0.967 0.983 1 1 1 1 1 1 1 1 1 1 1 1 1 1 1 1 1 1 1 1 1 1 1 1 1 1 1 1 1 1 1"/></feComponentTransfer><feComponentTransfer in="SourceGraphic" result="xa"><feFuncR type="table" tableValues="0 0.35 0.5 0.65 0.8 0.76 0.625 0.39 0.145 0.085 0"/><feFuncG type="table" tableValues="0 0.35 0.5 0.65 0.8 0.76 0.625 0.39 0.145 0.085 0"/><feFuncB type="table" tableValues="0 0.35 0.5 0.65 0.8 0.76 0.625 0.39 0.145 0.085 0"/></feComponentTransfer><feComponentTransfer in="SourceGraphic" result="bh"><feFuncR type="table" tableValues="0 0 0 0 0 0.1 0.25 0.5 0.8 0.9 1"/><feFuncG type="table" tableValues="0 0 0 0 0 0.1 0.25 0.5 0.8 0.9 1"/><feFuncB type="table" tableValues="0 0 0 0 0 0.1 0.25 0.5 0.8 0.9 1"/></feComponentTransfer><feComposite in="xa" in2="s" operator="arithmetic" k1="1" k2="0" k3="0" k4="0" result="m"/><feComposite in="bh" in2="m" operator="arithmetic" k1="0" k2="1" k3="1" k4="0" result="w"/><feComponentTransfer in="w"><feFuncR type="table" tableValues="0.000 0.000 0.000 0.000 0.000 0.000 0.000 0.000 0.000 0.000 0.000 0.000 0.000 0.000 0.000 0.000 0.000 0.000 0.000 0.000 0.000 0.000 0.000 0.000 0.000 0.000 0.000 0.000 0.000 0.000 0.000 0.000 0.000 0.000 0.000 0.000 0.000 0.000 0.000 0.000 0.000 0.000 0.000 0.000 0.000 0.000 0.000 0.000 0.000 0.000 0.000 0.000 0.000 0.000 0.000 0.000 0.000 0.089 0.220 0.360 0.503 0.646 0.789 0.896 1.000"/><feFuncG type="table" tableValues="0.000 0.000 0.000 0.000 0.000 0.000 0.000 0.000 0.000 0.000 0.000 0.000 0.000 0.000 0.000 0.000 0.000 0.000 0.000 0.000 0.000 0.000 0.000 0.000 0.000 0.000 0.000 0.000 0.000 0.000 0.000 0.000 0.000 0.000 0.000 0.000 0.000 0.000 0.000 0.000 0.000 0.000 0.000 0.000 0.000 0.028 0.070 0.113 0.157 0.201 0.246 0.292 0.338 0.389 0.442 0.497 0.554 0.609 0.662 0.721 0.782 0.844 0.905 0.953 1.000"/><feFuncB type="table" tableValues="0.000 0.000 0.000 0.000 0.000 0.000 0.000 0.000 0.000 0.000 0.000 0.000 0.000 0.000 0.000 0.000 0.000 0.000 0.000 0.000 0.000 0.000 0.000 0.000 0.000 0.000 0.000 0.000 0.000 0.000 0.000 0.000 0.000 0.025 0.049 0.083 0.130 0.177 0.224 0.274 0.325 0.377 0.424 0.464 0.505 0.554 0.606 0.654 0.698 0.742 0.785 0.824 0.864 0.906 0.948 0.976 0.994 1.000 1.000 1.000 1.000 1.000 1.000 1.000 1.000"/></feComponentTransfer></filter>
<clipPath id="cnC"><path d="M70 770 L70 475.6 L71.7 475.6 L71.7 480 L75.1 480 L75.1 453.3 L77.6 453.3 L77.6 444.4 L79.5 444.4 L79.5 469.1 L82.9 469.1 L82.9 450.5 L86.2 450.5 L86.2 458.2 L89 458.2 L89 476.4 L91.1 476.4 L91.1 450 L93.7 450 L93.7 482.1 L96.2 482.1 L96.2 476.7 L98.1 476.7 L98.1 473.2 L101.8 473.2 L101.8 457.6 L103.8 457.6 L103.8 447.1 L105.7 447.1 L105.7 454.7 L108.7 454.7 L108.7 478 L110.8 478 L110.8 480.2 L112.7 480.2 L112.7 463 L116.1 463 L116.1 479.1 L119.9 479.1 L119.9 481.2 L121.6 481.2 L121.6 477.6 L123.1 477.6 L123.1 461.3 L125.5 461.3 L125.5 460.3 L127.2 460.3 L127.2 459.4 L130.4 459.4 L130.4 469.8 L131.9 469.8 L131.9 474.8 L134.2 474.8 L134.2 464.6 L136.5 464.6 L136.5 469.9 L139.2 469.9 L139.2 478 L140.9 478 L140.9 458.9 L144.8 458.9 L144.8 443.9 L146.6 443.9 L146.6 471.8 L150.5 471.8 L150.5 446.4 L152.5 446.4 L152.5 470.7 L155.3 470.7 L155.3 480.1 L157.1 480.1 L157.1 448.2 L159.1 448.2 L159.1 460.1 L161.2 460.1 L161.2 462.3 L162.9 462.3 L162.9 466.2 L165.2 466.2 L165.2 451.8 L167.1 451.8 L167.1 455.6 L169.3 455.6 L169.3 482 L172.5 482 L172.5 477.6 L175.2 477.6 L175.2 446.7 L178.2 446.7 L178.2 472.6 L182.2 472.6 L182.2 443.3 L183.8 443.3 L183.8 474.5 L185.9 474.5 L185.9 443.6 L187.6 443.6 L187.6 475.3 L190.4 475.3 L190.4 479.8 L193.9 479.8 L193.9 462.3 L196.2 462.3 L196.2 456.8 L198.1 456.8 L198.1 480 L200.7 480 L200.7 461.9 L203.2 461.9 L203.2 464.8 L206.8 464.8 L206.8 468.9 L209.5 468.9 L209.5 470.1 L213 470.1 L213 467.4 L215.8 467.4 L215.8 450.7 L217.7 450.7 L217.7 469.6 L221 469.6 L221 476.4 L223.1 476.4 L223.1 459.9 L224.6 459.9 L224.6 466.3 L227.5 466.3 L227.5 453.5 L230.7 453.5 L230.7 478.9 L233.3 478.9 L233.3 467.8 L236.3 467.8 L236.3 465.4 L238.3 465.4 L238.3 443.7 L242.3 443.7 L242.3 477.3 L246.2 477.3 L246.2 476.8 L248 476.8 L248 449.5 L250.6 449.5 L250.6 469.2 L253.8 469.2 L253.8 470.1 L256.5 470.1 L256.5 451.9 L259.5 451.9 L259.5 457.6 L262.7 457.6 L262.7 449.4 L266.3 449.4 L266.3 445.7 L270.3 445.7 L270.3 481.7 L273.5 481.7 L273.5 468 L275.5 468 L275.5 467.3 L278.1 467.3 L278.1 466.9 L279.7 466.9 L279.7 475.8 L282.9 475.8 L282.9 475.8 L286.3 475.8 L286.3 443.1 L288.5 443.1 L288.5 467 L290.9 467 L290.9 449 L294.2 449 L294.2 480 L296.9 480 L296.9 462.3 L299.7 462.3 L299.7 473.6 L302.7 473.6 L302.7 452.9 L305 452.9 L305 450.1 L307.5 450.1 L307.5 456.6 L311.1 456.6 L311.1 451.6 L313.2 451.6 L313.2 456.5 L316 456.5 L316 476.8 L318.6 476.8 L318.6 459 L322.1 459 L322.1 446.2 L324.7 446.2 L324.7 466.6 L326.5 466.6 L326.5 454.1 L330.2 454.1 L330.2 471.3 L332.5 471.3 L332.5 481.2 L335.3 481.2 L335.3 465.3 L338.5 465.3 L338.5 478.6 L340.7 478.6 L340.7 448.4 L343.2 448.4 L343.2 475.4 L346.9 475.4 L346.9 465.4 L349.6 465.4 L349.6 481 L352 481 L352 468.5 L353.8 468.5 L353.8 473.9 L357.7 473.9 L357.7 466.1 L359.3 466.1 L359.3 481.1 L363 481.1 L363 468.3 L365.7 468.3 L365.7 454.4 L368.3 454.4 L368.3 457 L370 457 L370 448.6 L373 448.6 L373 456.2 L375.2 456.2 L375.2 459.1 L377 459.1 L377 461.5 L380.7 461.5 L380.7 450.3 L384 450.3 L384 463 L387.1 463 L387.1 469.1 L389.2 469.1 L389.2 457.4 L393.2 457.4 L393.2 446.5 L395.4 446.5 L395.4 482.1 L397.9 482.1 L397.9 467.8 L400.5 467.8 L400.5 456.1 L403.4 456.1 L403.4 450.1 L405 450.1 L405 456.2 L406.7 456.2 L406.7 460.2 L410.3 460.2 L410.3 461.6 L411.8 461.6 L411.8 463.4 L414 463.4 L414 449.4 L417.9 449.4 L417.9 465.3 L421.8 465.3 L421.8 450.8 L425.2 450.8 L425.2 456.9 L428.2 456.9 L428.2 445 L430 445 L430 449.6 L432.8 449.6 L432.8 472.9 L434.5 472.9 L434.5 456.7 L438.4 456.7 L438.4 464.3 L441 464.3 L441 482.3 L444.3 482.3 L444.3 460.4 L446.7 460.4 L446.7 473 L449.6 473 L449.6 449.8 L452 449.8 L452 476.6 L454 476.6 L454 470.6 L457.7 470.6 L457.7 457.1 L459.6 457.1 L459.6 477.2 L461.1 477.2 L461.1 472.3 L464.3 472.3 L464.3 451.5 L466.4 451.5 L466.4 455.1 L469.2 455.1 L469.2 462.5 L473.1 462.5 L473.1 465 L476.2 465 L476.2 474.6 L478.1 474.6 L478.1 474.6 L479.8 474.6 L479.8 475.1 L481.5 475.1 L481.5 453.5 L483 453.5 L483 449.6 L485.3 449.6 L485.3 446.5 L489 446.5 L489 469.8 L491.3 469.8 L491.3 479 L493.2 479 L493.2 448.6 L496.3 448.6 L496.3 446.5 L500 446.5 L500 461.5 L502.5 461.5 L502.5 468.7 L504.4 468.7 L504.4 479.3 L506.1 479.3 L506.1 460.8 L509.3 460.8 L509.3 444.1 L513.3 444.1 L513.3 464.8 L516.9 464.8 L516.9 458.5 L519.5 458.5 L519.5 464.4 L523.4 464.4 L523.4 462.5 L526.7 462.5 L526.7 460.3 L528.8 460.3 L528.8 478.7 L532.8 478.7 L532.8 443.4 L536.8 443.4 L536.8 482.1 L539.5 482.1 L539.5 454 L542.6 454 L542.6 479.4 L546.4 479.4 L546.4 475.1 L550 475.1 L550 464.4 L551.8 464.4 L551.8 479.6 L554.3 479.6 L554.3 460.4 L556.9 460.4 L556.9 451.4 L560.6 451.4 L560.6 444.1 L563.3 444.1 L563.3 445 L566.6 445 L566.6 443.8 L570.2 443.8 L570.2 466.3 L572.8 466.3 L572.8 476.7 L575.4 476.7 L575.4 456.6 L578.8 456.6 L578.8 450.1 L581 450.1 L581 452 L582.9 452 L582.9 466.5 L585 466.5 L585 463.8 L587.9 463.8 L587.9 462.6 L590.8 462.6 L590.8 452.5 L593.4 452.5 L593.4 474.1 L597.1 474.1 L597.1 477.1 L598.6 477.1 L598.6 472.3 L602.3 472.3 L602.3 449.1 L605 449.1 L605 467.7 L607.6 467.7 L607.6 455.4 L609.6 455.4 L609.6 446.5 L612.7 446.5 L612.7 457.3 L615 457.3 L615 471.6 L617 471.6 L617 454.9 L618.7 454.9 L618.7 469.5 L620.7 469.5 L620.7 473.1 L624.1 473.1 L624.1 478.1 L626.3 478.1 L626.3 473.2 L629.7 473.2 L629.7 449.9 L633.2 449.9 L633.2 455.8 L636.9 455.8 L636.9 463.6 L638.6 463.6 L638.6 466.2 L642.6 466.2 L642.6 468.3 L646.4 468.3 L646.4 459.2 L649.5 459.2 L649.5 451.7 L652.7 451.7 L652.7 479 L654.7 479 L654.7 480.3 L658 480.3 L658 448 L660.6 448 L660.6 455 L663.2 455 L663.2 478.1 L666.7 478.1 L666.7 467.4 L669.3 467.4 L669.3 454 L672.2 454 L672.2 445.5 L676.1 445.5 L676.1 463 L679.4 463 L679.4 446.6 L681.3 446.6 L681.3 469 L685.1 469 L685.1 460.3 L687.1 460.3 L687.1 473.8 L690.6 473.8 L690.6 446.4 L693.7 446.4 L693.7 461.2 L695.6 461.2 L695.6 480.1 L698.6 480.1 L698.6 469 L702.1 469 L702.1 473 L705 473 L705 455.6 L707.7 455.6 L707.7 463.7 L709.9 463.7 L709.9 449.3 L711.5 449.3 L711.5 471.5 L713.7 471.5 L713.7 450.4 L715.8 450.4 L715.8 479 L717.6 479 L717.6 471.7 L720.1 471.7 L720.1 480.1 L723.5 480.1 L723.5 460.4 L726.6 460.4 L726.6 449.6 L730.2 449.6 L730.2 447.8 L733 447.8 L733 478.8 L735.2 478.8 L735.2 450.9 L739 450.9 L739 460.7 L742.2 460.7 L742.2 482.7 L745.7 482.7 L745.7 449 L749.7 449 L749.7 475 L752.5 475 L752.5 448.5 L755.9 448.5 L755.9 447.2 L757.9 447.2 L757.9 470.3 L761.3 470.3 L761.3 479.9 L763.3 479.9 L763.3 452.7 L766.2 452.7 L766.2 468.6 L770 468.6 L770 463.2 L773.2 463.2 L773.2 474.7 L775.9 474.7 L775.9 465.7 L777.7 465.7 L777.7 467.1 L779.2 467.1 L779.2 457.8 L782 457.8 L782 458.9 L785.7 458.9 L785.7 470.7 L788.6 470.7 L788.6 471.9 L792.5 471.9 L792.5 470.5 L794 470.5 L794 449.6 L796.3 449.6 L796.3 471.4 L800.1 471.4 L800.1 472.6 L803.5 472.6 L803.5 480 L805 480 L805 477.2 L809 477.2 L809 449.4 L811.8 449.4 L811.8 444.4 L813.7 444.4 L813.7 457.5 L817.7 457.5 L817.7 481.2 L819.9 481.2 L819.9 457 L823 457 L823 480 L826.3 480 L826.3 481 L829.4 481 L829.4 451.9 L832.4 451.9 L832.4 460.2 L835.5 460.2 L835.5 464.6 L837.4 464.6 L837.4 449.4 L839.2 449.4 L839.2 447.8 L842.5 447.8 L842.5 447.1 L844.4 447.1 L844.4 463 L846.5 463 L846.5 452.7 L849.4 452.7 L849.4 453.2 L851.7 453.2 L851.7 476.9 L854.1 476.9 L854.1 469.5 L855.8 469.5 L855.8 470.6 L859.1 470.6 L859.1 446.7 L862 446.7 L862 480.1 L865.6 480.1 L865.6 456.9 L867.9 456.9 L867.9 464.9 L871.1 464.9 L871.1 472.6 L874.8 472.6 L874.8 460.9 L878.1 460.9 L878.1 471.5 L881.7 471.5 L881.7 471.1 L885.6 471.1 L885.6 455 L889.5 455 L889.5 460.2 L891.6 460.2 L891.6 467.5 L895.4 467.5 L895.4 482.8 L898.8 482.8 L898.8 461.5 L901 461.5 L901 481.5 L903 481.5 L903 462.1 L905 462.1 L905 480.2 L908 480.2 L908 459.3 L911.4 459.3 L911.4 449.4 L912.9 449.4 L912.9 460.2 L915.8 460.2 L915.8 450.3 L918.1 450.3 L918.1 478.2 L921.5 478.2 L921.5 445.8 L923.2 445.8 L923.2 455.3 L925.6 455.3 L925.6 444.5 L927.5 444.5 L927.5 477.2 L929.8 477.2 L929.8 449.2 L933.3 449.2 L933.3 452 L937 452 L937 478.3 L939.6 478.3 L939.6 467.4 L941.5 467.4 L941.5 446.1 L944.3 446.1 L944.3 447.9 L947.1 447.9 L947.1 457.8 L949.2 457.8 L949.2 470 L951.1 470 L951.1 457.1 L954.6 457.1 L954.6 471.3 L957.8 471.3 L957.8 460.2 L960.7 460.2 L960.7 449.8 L962.5 449.8 L962.5 443.2 L964 443.2 L964 481.7 L966.4 481.7 L966.4 460.7 L969.6 460.7 L969.6 451 L972.4 451 L972.4 477.2 L974.7 477.2 L974.7 453.4 L977.9 453.4 L977.9 474 L981.8 474 L981.8 474.8 L984.4 474.8 L984.4 469.7 L986.9 469.7 L986.9 482.6 L990 482.6 L990 478.4 L994 478.4 L994 452.2 L997.6 452.2 L997.6 468.2 L1001.4 468.2 L1001.4 470.4 L1003.5 470.4 L1003.5 473.1 L1006.4 473.1 L1006.4 445.1 L1010.2 445.1 L1010.2 473.3 L1012.7 473.3 L1012.7 477.9 L1016.2 477.9 L1016.2 466.9 L1019.2 466.9 L1019.2 457.9 L1020.9 457.9 L1020.9 452.5 L1024.4 452.5 L1024.4 473.4 L1026 473.4 L1026 461.3 L1028.6 461.3 L1028.6 471.2 L1031.5 471.2 L1031.5 464.5 L1034.6 464.5 L1034.6 459.7 L1036.1 459.7 L1036.1 463.5 L1037.7 463.5 L1037.7 452.4 L1039.6 452.4 L1039.6 452.8 L1042.2 452.8 L1042.2 479.1 L1044.4 479.1 L1044.4 449.6 L1047.1 449.6 L1047.1 444.9 L1049.2 444.9 L1049.2 468.4 L1050.9 468.4 L1050.9 443.4 L1054.9 443.4 L1054.9 449.8 L1057.6 449.8 L1057.6 474.8 L1060.6 474.8 L1060.6 464.1 L1064.5 464.1 L1064.5 467.3 L1067.2 467.3 L1067.2 481 L1071 481 L1071 469.9 L1072.8 469.9 L1072 770Z"/></clipPath>
<filter id="nD" filterUnits="userSpaceOnUse" x="70" y="524" width="1000" height="238" color-interpolation-filters="sRGB"><feTurbulence type="fractalNoise" baseFrequency="0.36 0.034" numOctaves="2" seed="5" result="t1"/><feTurbulence type="fractalNoise" baseFrequency="0.464 0.0269" numOctaves="2" seed="25" result="t2"/><feComposite in="t1" in2="t2" operator="arithmetic" k1="0" k2="0.5" k3="0.5" k4="0" result="t"/><feColorMatrix in="t" type="matrix" values="1 0 0 0 0 1 0 0 0 0 1 0 0 0 0 0 0 0 0 1" result="g"/><feComponentTransfer in="g" result="s"><feFuncR type="table" tableValues="0 0 0 0 0 0 0 0 0 0 0 0 0 0 0 0 0 0 0 0 0 0 0 0 0 0 0 0 0 0 0 0 0 0 0.0103 0.138 0.267 0.395 0.508 0.62 0.732 0.782 0.821 0.859 0.886 0.909 0.931 0.95 0.967 0.983 1 1 1 1 1 1 1 1 1 1 1 1 1 1 1 1 1 1 1 1 1 1 1 1 1 1 1 1 1 1 1"/><feFuncG type="table" tableValues="0 0 0 0 0 0 0 0 0 0 0 0 0 0 0 0 0 0 0 0 0 0 0 0 0 0 0 0 0 0 0 0 0 0 0.0103 0.138 0.267 0.395 0.508 0.62 0.732 0.782 0.821 0.859 0.886 0.909 0.931 0.95 0.967 0.983 1 1 1 1 1 1 1 1 1 1 1 1 1 1 1 1 1 1 1 1 1 1 1 1 1 1 1 1 1 1 1"/><feFuncB type="table" tableValues="0 0 0 0 0 0 0 0 0 0 0 0 0 0 0 0 0 0 0 0 0 0 0 0 0 0 0 0 0 0 0 0 0 0 0.0103 0.138 0.267 0.395 0.508 0.62 0.732 0.782 0.821 0.859 0.886 0.909 0.931 0.95 0.967 0.983 1 1 1 1 1 1 1 1 1 1 1 1 1 1 1 1 1 1 1 1 1 1 1 1 1 1 1 1 1 1 1"/></feComponentTransfer><feComponentTransfer in="SourceGraphic" result="xa"><feFuncR type="table" tableValues="0 0.35 0.5 0.65 0.8 0.76 0.625 0.39 0.145 0.085 0"/><feFuncG type="table" tableValues="0 0.35 0.5 0.65 0.8 0.76 0.625 0.39 0.145 0.085 0"/><feFuncB type="table" tableValues="0 0.35 0.5 0.65 0.8 0.76 0.625 0.39 0.145 0.085 0"/></feComponentTransfer><feComponentTransfer in="SourceGraphic" result="bh"><feFuncR type="table" tableValues="0 0 0 0 0 0.1 0.25 0.5 0.8 0.9 1"/><feFuncG type="table" tableValues="0 0 0 0 0 0.1 0.25 0.5 0.8 0.9 1"/><feFuncB type="table" tableValues="0 0 0 0 0 0.1 0.25 0.5 0.8 0.9 1"/></feComponentTransfer><feComposite in="xa" in2="s" operator="arithmetic" k1="1" k2="0" k3="0" k4="0" result="m"/><feComposite in="bh" in2="m" operator="arithmetic" k1="0" k2="1" k3="1" k4="0" result="w"/><feComponentTransfer in="w"><feFuncR type="table" tableValues="0.000 0.000 0.000 0.000 0.000 0.000 0.000 0.000 0.000 0.000 0.000 0.000 0.000 0.000 0.000 0.000 0.000 0.000 0.000 0.000 0.000 0.000 0.000 0.000 0.000 0.000 0.000 0.000 0.000 0.000 0.000 0.000 0.000 0.000 0.000 0.000 0.000 0.000 0.000 0.000 0.000 0.000 0.000 0.000 0.000 0.000 0.000 0.000 0.000 0.000 0.000 0.000 0.000 0.000 0.000 0.000 0.000 0.089 0.220 0.360 0.503 0.646 0.789 0.896 1.000"/><feFuncG type="table" tableValues="0.000 0.000 0.000 0.000 0.000 0.000 0.000 0.000 0.000 0.000 0.000 0.000 0.000 0.000 0.000 0.000 0.000 0.000 0.000 0.000 0.000 0.000 0.000 0.000 0.000 0.000 0.000 0.000 0.000 0.000 0.000 0.000 0.000 0.000 0.000 0.000 0.000 0.000 0.000 0.000 0.000 0.000 0.000 0.000 0.000 0.028 0.070 0.113 0.157 0.201 0.246 0.292 0.338 0.389 0.442 0.497 0.554 0.609 0.662 0.721 0.782 0.844 0.905 0.953 1.000"/><feFuncB type="table" tableValues="0.000 0.000 0.000 0.000 0.000 0.000 0.000 0.000 0.000 0.000 0.000 0.000 0.000 0.000 0.000 0.000 0.000 0.000 0.000 0.000 0.000 0.000 0.000 0.000 0.000 0.000 0.000 0.000 0.000 0.000 0.000 0.000 0.000 0.025 0.049 0.083 0.130 0.177 0.224 0.274 0.325 0.377 0.424 0.464 0.505 0.554 0.606 0.654 0.698 0.742 0.785 0.824 0.864 0.906 0.948 0.976 0.994 1.000 1.000 1.000 1.000 1.000 1.000 1.000 1.000"/></feComponentTransfer></filter>
<clipPath id="cnD"><path d="M70 770 L70 541.1 L74 541.1 L74 566.4 L77.8 566.4 L77.8 559.6 L81.4 559.6 L81.4 528 L84.5 528 L84.5 537.9 L87.8 537.9 L87.8 545.3 L90.7 545.3 L90.7 549.7 L93.7 549.7 L93.7 561.1 L97.6 561.1 L97.6 541.8 L101.1 541.8 L101.1 563.6 L103.6 563.6 L103.6 532.9 L106.4 532.9 L106.4 558.6 L109.2 558.6 L109.2 535.4 L112.4 535.4 L112.4 541 L116.2 541 L116.2 534.7 L119.1 534.7 L119.1 543.4 L123.1 543.4 L123.1 533.5 L126.8 533.5 L126.8 544.7 L129.2 544.7 L129.2 536.3 L132 536.3 L132 565.2 L136 565.2 L136 565.6 L139 565.6 L139 537.4 L141.8 537.4 L141.8 554 L144 554 L144 567.5 L145.7 567.5 L145.7 537.4 L147.7 537.4 L147.7 534.7 L149.4 534.7 L149.4 537.6 L151.8 537.6 L151.8 565.6 L154.7 565.6 L154.7 553 L157.1 553 L157.1 534.8 L160 534.8 L160 557.1 L161.7 557.1 L161.7 554 L163.7 554 L163.7 555.6 L166.1 555.6 L166.1 533.9 L167.9 533.9 L167.9 559.7 L170.8 559.7 L170.8 531.4 L174.6 531.4 L174.6 539.1 L176.8 539.1 L176.8 528.1 L179 528.1 L179 550.4 L182.7 550.4 L182.7 540 L185.5 540 L185.5 531.2 L188.7 531.2 L188.7 540 L191.1 540 L191.1 538.8 L194.7 538.8 L194.7 567.2 L196.5 567.2 L196.5 546 L198.3 546 L198.3 558 L202.1 558 L202.1 533 L205.3 533 L205.3 540.2 L207.9 540.2 L207.9 550.9 L210.4 550.9 L210.4 554.1 L212.7 554.1 L212.7 547.8 L215.1 547.8 L215.1 544.9 L216.9 544.9 L216.9 542.3 L218.7 542.3 L218.7 552.8 L221.2 552.8 L221.2 544.7 L225 544.7 L225 534.3 L227.8 534.3 L227.8 552.4 L230.9 552.4 L230.9 558.4 L233.3 558.4 L233.3 565 L236.5 565 L236.5 531 L239.5 531 L239.5 548.7 L243.3 548.7 L243.3 557 L246.5 557 L246.5 555.1 L249.8 555.1 L249.8 545.9 L252.5 545.9 L252.5 549.2 L254 549.2 L254 548.4 L256.6 548.4 L256.6 545.1 L259.5 545.1 L259.5 554.1 L262 554.1 L262 551 L264.1 551 L264.1 567 L267.2 567 L267.2 556 L270.6 556 L270.6 529.1 L272.5 529.1 L272.5 543.1 L275.1 543.1 L275.1 543.9 L277.9 543.9 L277.9 553.1 L281.3 553.1 L281.3 555.7 L283.8 555.7 L283.8 561.9 L287.3 561.9 L287.3 566.4 L288.9 566.4 L288.9 551.1 L290.8 551.1 L290.8 562.5 L294.7 562.5 L294.7 554.7 L297 554.7 L297 562.9 L299.7 562.9 L299.7 555.8 L301.7 555.8 L301.7 532.3 L305.3 532.3 L305.3 562.4 L307.7 562.4 L307.7 531.3 L310 531.3 L310 564.4 L312 564.4 L312 558 L314.3 558 L314.3 565.7 L316.7 565.7 L316.7 566 L319.4 566 L319.4 528.3 L321.9 528.3 L321.9 545 L323.8 545 L323.8 531.4 L326.7 531.4 L326.7 557.1 L330 557.1 L330 541 L332 541 L332 546.3 L335.3 546.3 L335.3 536.5 L339 536.5 L339 567.1 L341.3 567.1 L341.3 533.8 L344.2 533.8 L344.2 534.2 L348 534.2 L348 551.6 L350.5 551.6 L350.5 562.2 L353.9 562.2 L353.9 557.7 L355.7 557.7 L355.7 543 L358 543 L358 562.4 L360.2 562.4 L360.2 532.4 L362.8 532.4 L362.8 540.2 L366 540.2 L366 542.8 L367.8 542.8 L367.8 554.7 L371.6 554.7 L371.6 555.7 L374.5 555.7 L374.5 530.9 L376.5 530.9 L376.5 554.6 L380.4 554.6 L380.4 547 L384.3 547 L384.3 532.3 L386.5 532.3 L386.5 539.7 L389.7 539.7 L389.7 542.6 L392.9 542.6 L392.9 530.2 L396 530.2 L396 556.8 L398 556.8 L398 534.6 L400.5 534.6 L400.5 546.7 L403.2 546.7 L403.2 566 L405.1 566 L405.1 553.2 L407.8 553.2 L407.8 552.9 L410.1 552.9 L410.1 558.4 L413.6 558.4 L413.6 528.9 L416 528.9 L416 528.2 L419 528.2 L419 558 L421.5 558 L421.5 566.9 L424.9 566.9 L424.9 554.5 L426.7 554.5 L426.7 539.9 L430.2 539.9 L430.2 547 L432.3 547 L432.3 528 L435.6 528 L435.6 538.7 L437.4 538.7 L437.4 548 L440.7 548 L440.7 551.1 L442.2 551.1 L442.2 564.8 L444.7 564.8 L444.7 552.3 L446.9 552.3 L446.9 541.7 L448.7 541.7 L448.7 559.2 L450.6 559.2 L450.6 551.4 L453.9 551.4 L453.9 567.2 L455.5 567.2 L455.5 556.4 L457.8 556.4 L457.8 528.6 L460.7 528.6 L460.7 544.3 L463.3 544.3 L463.3 535.1 L465.2 535.1 L465.2 533 L467.9 533 L467.9 529.2 L471.7 529.2 L471.7 554.7 L475.5 554.7 L475.5 557 L479.1 557 L479.1 563 L482.5 563 L482.5 557.5 L485.1 557.5 L485.1 561.6 L488.7 561.6 L488.7 555 L492.6 555 L492.6 560.2 L494.6 560.2 L494.6 567.3 L496.7 567.3 L496.7 535.5 L499.9 535.5 L499.9 567.1 L503.2 567.1 L503.2 534.7 L505.5 534.7 L505.5 542.4 L508.9 542.4 L508.9 532.9 L512.3 532.9 L512.3 537.2 L513.9 537.2 L513.9 565.3 L517.5 565.3 L517.5 559.4 L521.1 559.4 L521.1 548.9 L524.8 548.9 L524.8 552.6 L527.5 552.6 L527.5 558.3 L530.9 558.3 L530.9 554 L533.3 554 L533.3 549 L535.2 549 L535.2 544.4 L538.4 544.4 L538.4 557.7 L541.2 557.7 L541.2 547.4 L544.8 547.4 L544.8 550.1 L547.7 550.1 L547.7 533.1 L551.2 533.1 L551.2 562.5 L555.1 562.5 L555.1 558.5 L556.7 558.5 L556.7 543.4 L558.8 543.4 L558.8 553.8 L560.7 553.8 L560.7 549.8 L564.6 549.8 L564.6 556.7 L567 556.7 L567 560.6 L569.5 560.6 L569.5 558 L571.6 558 L571.6 563.8 L574.2 563.8 L574.2 529.7 L576.4 529.7 L576.4 545 L578.4 545 L578.4 552.8 L580.5 552.8 L580.5 548 L583.9 548 L583.9 549 L586 549 L586 556.1 L589 556.1 L589 552.9 L591.6 552.9 L591.6 544.9 L595.3 544.9 L595.3 542.9 L597.8 542.9 L597.8 567.2 L601.3 567.2 L601.3 533 L604.8 533 L604.8 547.4 L608.1 547.4 L608.1 548.7 L610.4 548.7 L610.4 540.2 L613.2 540.2 L613.2 565.4 L615.2 565.4 L615.2 534.9 L618.7 534.9 L618.7 546.7 L621.2 546.7 L621.2 551.2 L623.8 551.2 L623.8 530.4 L626.7 530.4 L626.7 545.3 L630 545.3 L630 537.3 L631.8 537.3 L631.8 553.7 L635.8 553.7 L635.8 555.4 L638.9 555.4 L638.9 562.9 L640.6 562.9 L640.6 563.7 L644.5 563.7 L644.5 537.1 L646.2 537.1 L646.2 562.3 L650 562.3 L650 551.2 L652.4 551.2 L652.4 565.1 L656 565.1 L656 531.8 L658.1 531.8 L658.1 559.6 L660.3 559.6 L660.3 566.2 L663 566.2 L663 562.3 L664.8 562.3 L664.8 529.6 L667.3 529.6 L667.3 562.9 L670.6 562.9 L670.6 530.2 L674.4 530.2 L674.4 565.1 L676.2 565.1 L676.2 554.9 L680.1 554.9 L680.1 537.6 L683.4 537.6 L683.4 542.2 L685 542.2 L685 535.7 L688.1 535.7 L688.1 535.4 L691.5 535.4 L691.5 542.5 L693.3 542.5 L693.3 554 L696.4 554 L696.4 541 L700.4 541 L700.4 555.9 L702.7 555.9 L702.7 544.7 L705.7 544.7 L705.7 537.2 L709.7 537.2 L709.7 551.4 L712.1 551.4 L712.1 565.7 L714.2 565.7 L714.2 559.5 L717.4 559.5 L717.4 544.6 L719.7 544.6 L719.7 560.8 L723.2 560.8 L723.2 551 L726.6 551 L726.6 558.7 L730 558.7 L730 537.7 L731.7 537.7 L731.7 557.4 L735.4 557.4 L735.4 556.1 L737.7 556.1 L737.7 531.9 L739.8 531.9 L739.8 552.1 L741.3 552.1 L741.3 564.5 L743.3 564.5 L743.3 557.7 L746.1 557.7 L746.1 536 L747.9 536 L747.9 552.9 L749.6 552.9 L749.6 554.8 L752.1 554.8 L752.1 543.5 L756 543.5 L756 554.1 L759.6 554.1 L759.6 564.1 L761.8 564.1 L761.8 558.2 L764.7 558.2 L764.7 548.4 L768 548.4 L768 551.7 L771.3 551.7 L771.3 556.6 L773.1 556.6 L773.1 564.2 L775.8 564.2 L775.8 540 L778.8 540 L778.8 550.1 L781 550.1 L781 540.2 L784 540.2 L784 560.9 L786.9 560.9 L786.9 557.7 L789.3 557.7 L789.3 560.5 L793.3 560.5 L793.3 552.2 L795.8 552.2 L795.8 555.4 L798.8 555.4 L798.8 566.9 L802.7 566.9 L802.7 531.5 L804.7 531.5 L804.7 532.8 L807.4 532.8 L807.4 564.1 L809.1 564.1 L809.1 546.9 L811.3 546.9 L811.3 567.3 L813.7 567.3 L813.7 562.6 L817.3 562.6 L817.3 536.3 L820.4 536.3 L820.4 564.3 L822.8 564.3 L822.8 552.8 L826.3 552.8 L826.3 540.6 L828.4 540.6 L828.4 564.2 L831.8 564.2 L831.8 555.4 L834.2 555.4 L834.2 540.3 L836.8 540.3 L836.8 540.4 L839.1 540.4 L839.1 564.6 L842.1 564.6 L842.1 567.2 L845.5 567.2 L845.5 539.1 L847.1 539.1 L847.1 552.3 L849.6 552.3 L849.6 546.4 L853.4 546.4 L853.4 532.6 L857.3 532.6 L857.3 543.4 L859.6 543.4 L859.6 542.4 L863.6 542.4 L863.6 550.6 L865.1 550.6 L865.1 554.6 L866.8 554.6 L866.8 533.3 L870 533.3 L870 550 L873.6 550 L873.6 531.3 L877.6 531.3 L877.6 535.6 L881.4 535.6 L881.4 549.4 L885.2 549.4 L885.2 551.9 L886.9 551.9 L886.9 549.9 L890.8 549.9 L890.8 551.3 L892.7 551.3 L892.7 566.6 L896 566.6 L896 560 L899.8 560 L899.8 556.6 L903.3 556.6 L903.3 547.2 L906 547.2 L906 564.4 L908.1 564.4 L908.1 566.8 L910.9 566.8 L910.9 530.5 L914.2 530.5 L914.2 546.5 L916.8 546.5 L916.8 538.2 L918.3 538.2 L918.3 538.9 L920.9 538.9 L920.9 561.4 L924.3 561.4 L924.3 567.9 L927.2 567.9 L927.2 531.4 L930.1 531.4 L930.1 542.5 L931.8 542.5 L931.8 565.9 L934 565.9 L934 552 L936.4 552 L936.4 530.3 L938.8 530.3 L938.8 535.8 L941.6 535.8 L941.6 559.6 L943.3 559.6 L943.3 540.5 L946.2 540.5 L946.2 564 L949 564 L949 563.9 L952.8 563.9 L952.8 548 L954.6 548 L954.6 552 L958.4 552 L958.4 543.2 L961 543.2 L961 563.4 L965 563.4 L965 539.6 L966.6 539.6 L966.6 545.7 L969.7 545.7 L969.7 557 L972.7 557 L972.7 546.7 L976.4 546.7 L976.4 530.9 L979.2 530.9 L979.2 536.3 L981.7 536.3 L981.7 567.8 L984.5 567.8 L984.5 530.7 L987.6 530.7 L987.6 536.8 L991 536.8 L991 536.3 L993.5 536.3 L993.5 556.5 L995.1 556.5 L995.1 552.6 L997.4 552.6 L997.4 556.6 L1000.4 556.6 L1000.4 550.1 L1003.1 550.1 L1003.1 549.5 L1007.1 549.5 L1007.1 534.3 L1010.7 534.3 L1010.7 540.6 L1012.6 540.6 L1012.6 549.5 L1015.7 549.5 L1015.7 529.7 L1017.6 529.7 L1017.6 549.5 L1019.8 549.5 L1019.8 557.7 L1021.4 557.7 L1021.4 552.8 L1025.3 552.8 L1025.3 562 L1029 562 L1029 550.2 L1030.9 550.2 L1030.9 564.5 L1034.1 564.5 L1034.1 528.9 L1035.8 528.9 L1035.8 545.1 L1037.3 545.1 L1037.3 539.3 L1039.4 539.3 L1039.4 529.7 L1041.7 529.7 L1041.7 564.3 L1043.6 564.3 L1043.6 565.2 L1046.9 565.2 L1046.9 552.6 L1049.1 552.6 L1049.1 533.2 L1051.7 533.2 L1051.7 528.3 L1055.2 528.3 L1055.2 532.1 L1057 532.1 L1057 553.6 L1058.6 553.6 L1058.6 558.3 L1061 558.3 L1061 530.5 L1062.7 530.5 L1062.7 555.9 L1066.5 555.9 L1066.5 543.8 L1069.5 543.8 L1069.5 531.7 L1073 531.7 L1072 770Z"/></clipPath>
<filter id="nE" filterUnits="userSpaceOnUse" x="70" y="616" width="1000" height="146" color-interpolation-filters="sRGB"><feTurbulence type="fractalNoise" baseFrequency="0.38 0.015" numOctaves="2" seed="9" result="t1"/><feTurbulence type="fractalNoise" baseFrequency="0.49 0.0118" numOctaves="2" seed="29" result="t2"/><feComposite in="t1" in2="t2" operator="arithmetic" k1="0" k2="0.5" k3="0.5" k4="0" result="t"/><feColorMatrix in="t" type="matrix" values="1 0 0 0 0 1 0 0 0 0 1 0 0 0 0 0 0 0 0 1" result="g"/><feComponentTransfer in="g" result="s"><feFuncR type="table" tableValues="0 0 0 0 0 0 0 0 0 0 0 0 0 0 0 0 0 0 0 0 0 0 0 0 0 0 0 0 0 0 0 0 0 0 0.0103 0.138 0.267 0.395 0.508 0.62 0.732 0.782 0.821 0.859 0.886 0.909 0.931 0.95 0.967 0.983 1 1 1 1 1 1 1 1 1 1 1 1 1 1 1 1 1 1 1 1 1 1 1 1 1 1 1 1 1 1 1"/><feFuncG type="table" tableValues="0 0 0 0 0 0 0 0 0 0 0 0 0 0 0 0 0 0 0 0 0 0 0 0 0 0 0 0 0 0 0 0 0 0 0.0103 0.138 0.267 0.395 0.508 0.62 0.732 0.782 0.821 0.859 0.886 0.909 0.931 0.95 0.967 0.983 1 1 1 1 1 1 1 1 1 1 1 1 1 1 1 1 1 1 1 1 1 1 1 1 1 1 1 1 1 1 1"/><feFuncB type="table" tableValues="0 0 0 0 0 0 0 0 0 0 0 0 0 0 0 0 0 0 0 0 0 0 0 0 0 0 0 0 0 0 0 0 0 0 0.0103 0.138 0.267 0.395 0.508 0.62 0.732 0.782 0.821 0.859 0.886 0.909 0.931 0.95 0.967 0.983 1 1 1 1 1 1 1 1 1 1 1 1 1 1 1 1 1 1 1 1 1 1 1 1 1 1 1 1 1 1 1"/></feComponentTransfer><feComponentTransfer in="SourceGraphic" result="xa"><feFuncR type="table" tableValues="0 0.35 0.5 0.65 0.8 0.76 0.625 0.39 0.145 0.085 0"/><feFuncG type="table" tableValues="0 0.35 0.5 0.65 0.8 0.76 0.625 0.39 0.145 0.085 0"/><feFuncB type="table" tableValues="0 0.35 0.5 0.65 0.8 0.76 0.625 0.39 0.145 0.085 0"/></feComponentTransfer><feComponentTransfer in="SourceGraphic" result="bh"><feFuncR type="table" tableValues="0 0 0 0 0 0.1 0.25 0.5 0.8 0.9 1"/><feFuncG type="table" tableValues="0 0 0 0 0 0.1 0.25 0.5 0.8 0.9 1"/><feFuncB type="table" tableValues="0 0 0 0 0 0.1 0.25 0.5 0.8 0.9 1"/></feComponentTransfer><feComposite in="xa" in2="s" operator="arithmetic" k1="1" k2="0" k3="0" k4="0" result="m"/><feComposite in="bh" in2="m" operator="arithmetic" k1="0" k2="1" k3="1" k4="0" result="w"/><feComponentTransfer in="w"><feFuncR type="table" tableValues="0.000 0.000 0.000 0.000 0.000 0.000 0.000 0.000 0.000 0.000 0.000 0.000 0.000 0.000 0.000 0.000 0.000 0.000 0.000 0.000 0.000 0.000 0.000 0.000 0.000 0.000 0.000 0.000 0.000 0.000 0.000 0.000 0.000 0.000 0.000 0.000 0.000 0.000 0.000 0.000 0.000 0.000 0.000 0.000 0.000 0.000 0.000 0.000 0.000 0.000 0.000 0.000 0.000 0.000 0.000 0.000 0.000 0.089 0.220 0.360 0.503 0.646 0.789 0.896 1.000"/><feFuncG type="table" tableValues="0.000 0.000 0.000 0.000 0.000 0.000 0.000 0.000 0.000 0.000 0.000 0.000 0.000 0.000 0.000 0.000 0.000 0.000 0.000 0.000 0.000 0.000 0.000 0.000 0.000 0.000 0.000 0.000 0.000 0.000 0.000 0.000 0.000 0.000 0.000 0.000 0.000 0.000 0.000 0.000 0.000 0.000 0.000 0.000 0.000 0.028 0.070 0.113 0.157 0.201 0.246 0.292 0.338 0.389 0.442 0.497 0.554 0.609 0.662 0.721 0.782 0.844 0.905 0.953 1.000"/><feFuncB type="table" tableValues="0.000 0.000 0.000 0.000 0.000 0.000 0.000 0.000 0.000 0.000 0.000 0.000 0.000 0.000 0.000 0.000 0.000 0.000 0.000 0.000 0.000 0.000 0.000 0.000 0.000 0.000 0.000 0.000 0.000 0.000 0.000 0.000 0.000 0.025 0.049 0.083 0.130 0.177 0.224 0.274 0.325 0.377 0.424 0.464 0.505 0.554 0.606 0.654 0.698 0.742 0.785 0.824 0.864 0.906 0.948 0.976 0.994 1.000 1.000 1.000 1.000 1.000 1.000 1.000 1.000"/></feComponentTransfer></filter>
<clipPath id="cnE"><path d="M70 770 L70 639 L73.1 639 L73.1 636.2 L76.9 636.2 L76.9 620.7 L80.8 620.7 L80.8 648.2 L84.4 648.2 L84.4 652.1 L86.4 652.1 L86.4 652.8 L89.5 652.8 L89.5 625.9 L93.1 625.9 L93.1 637.6 L96.4 637.6 L96.4 623.3 L99.6 623.3 L99.6 620.2 L101.3 620.2 L101.3 624.2 L102.9 624.2 L102.9 643.6 L105 643.6 L105 627.9 L108.5 627.9 L108.5 650.8 L111 650.8 L111 628.6 L114.4 628.6 L114.4 642 L116.8 642 L116.8 632.3 L119.2 632.3 L119.2 639.5 L121.1 639.5 L121.1 620.1 L123.8 620.1 L123.8 628.5 L125.4 628.5 L125.4 631.2 L128.6 631.2 L128.6 653.2 L130.2 653.2 L130.2 652.3 L132.4 652.3 L132.4 654.3 L136.1 654.3 L136.1 631.9 L139.2 631.9 L139.2 642.8 L141.3 642.8 L141.3 658.5 L144.5 658.5 L144.5 657.9 L146.4 657.9 L146.4 630.3 L150.2 630.3 L150.2 632 L152.6 632 L152.6 631 L156.2 631 L156.2 631.9 L158 631.9 L158 624.4 L161.8 624.4 L161.8 622.2 L163.7 622.2 L163.7 633.3 L166.6 633.3 L166.6 653.3 L170.5 653.3 L170.5 638.9 L173.7 638.9 L173.7 632.7 L176.5 632.7 L176.5 621.5 L179.9 621.5 L179.9 641.4 L183 641.4 L183 653.7 L186.6 653.7 L186.6 659.3 L189.9 659.3 L189.9 624.4 L192.2 624.4 L192.2 644.9 L194.1 644.9 L194.1 635.6 L196.5 635.6 L196.5 625.5 L199.1 625.5 L199.1 647.2 L202.9 647.2 L202.9 646.4 L205.9 646.4 L205.9 626.9 L209.9 626.9 L209.9 650.7 L213.1 650.7 L213.1 639.1 L216 639.1 L216 623.3 L218.3 623.3 L218.3 621 L222.2 621 L222.2 634.5 L225.4 634.5 L225.4 650.1 L228 650.1 L228 659.2 L232 659.2 L232 639.5 L233.6 639.5 L233.6 651.3 L236.4 651.3 L236.4 620.9 L239.7 620.9 L239.7 644.2 L243.7 644.2 L243.7 643.9 L246.2 643.9 L246.2 624.6 L248.1 624.6 L248.1 649.5 L251.7 649.5 L251.7 634 L254.6 634 L254.6 628.3 L256.1 628.3 L256.1 629 L257.9 629 L257.9 652.9 L259.7 652.9 L259.7 628.2 L262.2 628.2 L262.2 656.6 L264.4 656.6 L264.4 632.5 L267.8 632.5 L267.8 638.8 L271.6 638.8 L271.6 640.5 L273.8 640.5 L273.8 655.8 L276.8 655.8 L276.8 638.2 L280.4 638.2 L280.4 633.2 L282.4 633.2 L282.4 628.3 L284.6 628.3 L284.6 651.8 L288.1 651.8 L288.1 626.9 L289.7 626.9 L289.7 627.5 L291.2 627.5 L291.2 643.7 L293.5 643.7 L293.5 645.5 L295.4 645.5 L295.4 646.2 L298.8 646.2 L298.8 631.6 L302.8 631.6 L302.8 631.2 L306.7 631.2 L306.7 659.3 L310.5 659.3 L310.5 636.9 L314 636.9 L314 657.2 L316.4 657.2 L316.4 650.6 L318.8 650.6 L318.8 630 L322.5 630 L322.5 648.6 L325.9 648.6 L325.9 622.9 L328.5 622.9 L328.5 621.5 L331.2 621.5 L331.2 642.2 L333.7 642.2 L333.7 638.6 L336.3 638.6 L336.3 621 L338.8 621 L338.8 649.5 L341.6 649.5 L341.6 620.4 L343.6 620.4 L343.6 628.3 L345.2 628.3 L345.2 635.5 L347.3 635.5 L347.3 637.6 L350.6 637.6 L350.6 658.8 L353.5 658.8 L353.5 625.8 L357.2 625.8 L357.2 657 L360.7 657 L360.7 629.3 L363.5 629.3 L363.5 629.8 L366.6 629.8 L366.6 656.3 L369.9 656.3 L369.9 640.5 L373.2 640.5 L373.2 626.6 L375.7 626.6 L375.7 622.3 L377.4 622.3 L377.4 622.4 L380 622.4 L380 631.1 L383.5 631.1 L383.5 627.3 L386.2 627.3 L386.2 641.2 L388.5 641.2 L388.5 632.5 L390.9 632.5 L390.9 645 L394.6 645 L394.6 638.1 L398.6 638.1 L398.6 625.2 L401.9 625.2 L401.9 644.1 L405.2 644.1 L405.2 623.1 L407 623.1 L407 620.1 L409 620.1 L409 643.1 L412.8 643.1 L412.8 639.6 L416.3 639.6 L416.3 620.6 L417.8 620.6 L417.8 634.9 L421.2 634.9 L421.2 625.1 L424.4 625.1 L424.4 658.7 L427.5 658.7 L427.5 652.3 L430.2 652.3 L430.2 657.4 L433.9 657.4 L433.9 655.6 L436.5 655.6 L436.5 644.8 L439 644.8 L439 628.7 L442.8 628.7 L442.8 637 L444.7 637 L444.7 622.9 L448.2 622.9 L448.2 635.3 L449.8 635.3 L449.8 641.2 L452.3 641.2 L452.3 639.3 L454.6 639.3 L454.6 639 L457.4 639 L457.4 636 L459.3 636 L459.3 621.8 L462.2 621.8 L462.2 638.5 L463.8 638.5 L463.8 621.1 L466.2 621.1 L466.2 625.2 L468.2 625.2 L468.2 639 L471.3 639 L471.3 622.3 L474.4 622.3 L474.4 645.7 L476.6 645.7 L476.6 639.5 L480.5 639.5 L480.5 659 L483.8 659 L483.8 637.3 L486.3 637.3 L486.3 647 L490.3 647 L490.3 638.7 L493.4 638.7 L493.4 631.6 L495.2 631.6 L495.2 625.7 L497.3 625.7 L497.3 650 L499.3 650 L499.3 625.9 L501.7 625.9 L501.7 651.1 L505.6 651.1 L505.6 640.9 L509.5 640.9 L509.5 631.1 L513.5 631.1 L513.5 658.2 L516.9 658.2 L516.9 657.4 L520.5 657.4 L520.5 652.9 L522.1 652.9 L522.1 637.6 L523.7 637.6 L523.7 650.6 L526.5 650.6 L526.5 630 L529.5 630 L529.5 650.1 L533 650.1 L533 650.7 L535.7 650.7 L535.7 652.1 L538 652.1 L538 644.7 L539.9 644.7 L539.9 643.8 L542.4 643.8 L542.4 637.6 L544.1 637.6 L544.1 652.7 L545.9 652.7 L545.9 649.4 L548.8 649.4 L548.8 659.9 L552.6 659.9 L552.6 656.9 L556.2 656.9 L556.2 622.5 L559.7 622.5 L559.7 620.7 L561.5 620.7 L561.5 650.7 L563.4 650.7 L563.4 642.2 L567.3 642.2 L567.3 626.5 L568.9 626.5 L568.9 631 L570.7 631 L570.7 639.4 L574.4 639.4 L574.4 649.4 L577.5 649.4 L577.5 641.3 L580.8 641.3 L580.8 647.4 L583.7 647.4 L583.7 636.3 L586 636.3 L586 633.2 L589.3 633.2 L589.3 626.8 L590.8 626.8 L590.8 659.9 L594.8 659.9 L594.8 646 L596.7 646 L596.7 635.2 L600.3 635.2 L600.3 637.4 L603.7 637.4 L603.7 638 L606.6 638 L606.6 640.5 L609.1 640.5 L609.1 644.4 L611 644.4 L611 659.8 L612.6 659.8 L612.6 633.6 L615.3 633.6 L615.3 631.8 L617.1 631.8 L617.1 634.6 L620.4 634.6 L620.4 647.7 L624.4 647.7 L624.4 654.9 L627.9 654.9 L627.9 642.1 L630 642.1 L630 633.9 L631.7 633.9 L631.7 658.6 L633.4 658.6 L633.4 654.1 L635.3 654.1 L635.3 639 L637.1 639 L637.1 633.4 L640.3 633.4 L640.3 641.7 L642.7 641.7 L642.7 631.1 L646.4 631.1 L646.4 639.8 L650.3 639.8 L650.3 648.5 L652.7 648.5 L652.7 658.6 L654.4 658.6 L654.4 654.5 L657.5 654.5 L657.5 626.1 L659.4 626.1 L659.4 644.9 L660.9 644.9 L660.9 640 L663.4 640 L663.4 637.6 L666.4 637.6 L666.4 642.8 L668.3 642.8 L668.3 624.6 L672 624.6 L672 622.5 L675.2 622.5 L675.2 641.7 L678.4 641.7 L678.4 637.8 L681.7 637.8 L681.7 637.1 L684.1 637.1 L684.1 627.8 L687.8 627.8 L687.8 640.6 L690.2 640.6 L690.2 654.2 L693.1 654.2 L693.1 634.2 L696.5 634.2 L696.5 627 L699.2 627 L699.2 621.7 L701.3 621.7 L701.3 636.8 L704.9 636.8 L704.9 625.1 L706.5 625.1 L706.5 658.2 L710.1 658.2 L710.1 657.8 L712.6 657.8 L712.6 625.4 L715.1 625.4 L715.1 651 L719 651 L719 659.4 L722.4 659.4 L722.4 646.9 L724.6 646.9 L724.6 656.2 L727.1 656.2 L727.1 644.7 L730.9 644.7 L730.9 657.4 L733.4 657.4 L733.4 649.4 L736.1 649.4 L736.1 623.2 L738.4 623.2 L738.4 647.7 L740.9 647.7 L740.9 658.1 L744.6 658.1 L744.6 642.9 L748 642.9 L748 621.1 L750.8 621.1 L750.8 649.2 L752.6 649.2 L752.6 635.3 L754.9 635.3 L754.9 635.7 L756.5 635.7 L756.5 650.9 L759.5 650.9 L759.5 658 L763.2 658 L763.2 627.3 L766.9 627.3 L766.9 642.8 L769 642.8 L769 644.8 L771.5 644.8 L771.5 641.1 L774.8 641.1 L774.8 636 L776.8 636 L776.8 644.5 L779.6 644.5 L779.6 624.5 L783.2 624.5 L783.2 624.4 L785 624.4 L785 638.5 L788.1 638.5 L788.1 622.7 L791.4 622.7 L791.4 652.4 L794.4 652.4 L794.4 638.1 L796.2 638.1 L796.2 620.2 L798.3 620.2 L798.3 641.5 L801.1 641.5 L801.1 642.5 L803.5 642.5 L803.5 621.2 L806.2 621.2 L806.2 646.4 L807.9 646.4 L807.9 653.1 L811.4 653.1 L811.4 645.3 L814.7 645.3 L814.7 647.8 L817.8 647.8 L817.8 639.7 L821.1 639.7 L821.1 646.9 L824.3 646.9 L824.3 624 L826.1 624 L826.1 651 L828.7 651 L828.7 652.6 L830.6 652.6 L830.6 645.8 L833.3 645.8 L833.3 636.3 L836.4 636.3 L836.4 643.7 L839.4 643.7 L839.4 637.2 L841.8 637.2 L841.8 649.7 L844.9 649.7 L844.9 635.9 L846.7 635.9 L846.7 633.5 L848.5 633.5 L848.5 627.1 L852.4 627.1 L852.4 654.4 L856.2 654.4 L856.2 659.6 L858.9 659.6 L858.9 627.5 L860.6 627.5 L860.6 627 L863.9 627 L863.9 643.9 L866.7 643.9 L866.7 641.3 L869.5 641.3 L869.5 627.6 L871.6 627.6 L871.6 625.6 L874.7 625.6 L874.7 659.5 L876.8 659.5 L876.8 638.9 L879 638.9 L879 623.9 L880.9 623.9 L880.9 658.9 L883.2 658.9 L883.2 631 L885.8 631 L885.8 637.9 L888.5 637.9 L888.5 626 L891.5 626 L891.5 651.4 L894.2 651.4 L894.2 656.5 L896.1 656.5 L896.1 643.3 L899.7 643.3 L899.7 636.9 L903.3 636.9 L903.3 634.1 L904.9 634.1 L904.9 620.5 L908.4 620.5 L908.4 626.6 L910.6 626.6 L910.6 650.5 L914.4 650.5 L914.4 623.5 L917.5 623.5 L917.5 648.7 L919.1 648.7 L919.1 624.7 L922.3 624.7 L922.3 655.9 L924.9 655.9 L924.9 657.4 L926.5 657.4 L926.5 648.7 L928.5 648.7 L928.5 653.9 L931.4 653.9 L931.4 620.7 L933.9 620.7 L933.9 641.5 L937.8 641.5 L937.8 624.6 L941.5 624.6 L941.5 651.1 L944.2 651.1 L944.2 625.4 L947.7 625.4 L947.7 655.7 L950.3 655.7 L950.3 652.2 L952.3 652.2 L952.3 641.4 L956.2 641.4 L956.2 646.6 L959 646.6 L959 635.2 L962.8 635.2 L962.8 628.1 L965.7 628.1 L965.7 651.1 L967.5 651.1 L967.5 624.6 L970.1 624.6 L970.1 621.7 L972.1 621.7 L972.1 636.9 L975.7 636.9 L975.7 642 L979.3 642 L979.3 650.5 L982.2 650.5 L982.2 651.3 L986.2 651.3 L986.2 624.2 L987.8 624.2 L987.8 656.4 L990.7 656.4 L990.7 653.9 L993.6 653.9 L993.6 625.7 L996.8 625.7 L996.8 648.6 L1000 648.6 L1000 620.8 L1001.8 620.8 L1001.8 638.4 L1004.9 638.4 L1004.9 651.8 L1007.8 651.8 L1007.8 631.1 L1010 631.1 L1010 623.1 L1013.2 623.1 L1013.2 624.1 L1015.7 624.1 L1015.7 637.5 L1018.7 637.5 L1018.7 646.8 L1021.6 646.8 L1021.6 645 L1025.6 645 L1025.6 633.3 L1027.5 633.3 L1027.5 656.5 L1030.6 656.5 L1030.6 626.3 L1032.2 626.3 L1032.2 652.2 L1034.4 652.2 L1034.4 629.3 L1037.6 629.3 L1037.6 642.7 L1039.7 642.7 L1039.7 649.9 L1043.1 649.9 L1043.1 642 L1046 642 L1046 638.7 L1048.8 638.7 L1048.8 647.1 L1052.4 647.1 L1052.4 642.3 L1055.5 642.3 L1055.5 653.4 L1058.2 653.4 L1058.2 656.5 L1060.9 656.5 L1060.9 630.6 L1062.6 630.6 L1062.6 654.2 L1065 654.2 L1065 649.3 L1069 649.3 L1069 659.7 L1070.5 659.7 L1070.5 650.9 L1073 650.9 L1072 770Z"/></clipPath>
</defs>
<rect width="1481" height="1384" fill="#fff"/>
<rect x="80" y="74.5" width="1233.8" height="1234.1" fill="#000"/>
<g clip-path="url(#cpRag)">
<g filter="url(#nA)"><g>
<rect x="60" y="60" width="1020" height="700" fill="rgb(168,168,168)"/>
<g filter="url(#b60)">
<ellipse cx="730" cy="570" rx="380" ry="320" fill="#fff" opacity="0.22"/>
<rect x="40" y="585" width="900" height="220" fill="#fff" opacity="0.16"/>
</g>
<ellipse cx="270" cy="440" rx="200" ry="105" fill="#000" opacity="0.13" filter="url(#b25)"/>
<ellipse cx="905" cy="230" rx="105" ry="190" fill="#000" opacity="0.2" filter="url(#b25)"/>
<path d="M70 535 L200 558 L340 602" stroke="#fff" stroke-width="36" fill="none" opacity="0.2" filter="url(#b12)"/>
<path d="M628 774.9 L627.8 771.9 L627.6 768 L627.3 763.4 L627 758.4 L626.6 752.9 L626.3 747.2 L625.9 741.5 L625.6 735.8 L625.3 730.4 L625 725.4 L624.7 720.6 L624.5 715.7 L624.2 710.9 L623.9 706.2 L623.7 701.6 L623.5 697 L623.2 692.6 L623 688.1 L622.8 683.8 L622.7 679.4 L622.5 674.7 L622.4 670 L622.3 665.4 L622.1 661 L622 656.8 L621.9 652.6 L621.9 648.6 L621.9 644.8 L621.9 641.1 L621.9 637.3 L622.1 633.1 L622.3 628.8 L622.4 624.6 L622.6 620.8 L622.8 617.1 L623 613.8 L623.2 610.8 L623.4 608.1 L623.7 605.9 L623.9 603.9 L624.2 601.7 L624.7 599.5 L625.1 597.4 L625.6 595.4 L626.2 593.4 L626.8 591.4 L627.4 589.4 L628.2 587.3 L629 585.2 L629.8 583.3 L630.4 581.8 L631.1 580.3 L632.1 578.4 L633.4 576.2 L634.9 573.7 L636.7 571.1 L638.7 568.2 L640.8 565.2 L643.1 562.1 L645.3 559 L647.1 556.5 L648.7 554.3 L650.2 552.1 L651.8 550.1 L653.3 548 L654.9 546 L656.6 543.9 L658.3 541.8 L660.1 539.6 L662 537.4 L663.8 535.3 L665.6 533.2 L667.3 531.2 L669.1 529.2 L670.8 527.2 L672.6 525.3 L674.3 523.4 L676.1 521.5 L677.9 519.6 L679.7 517.8 L681.6 515.9 L683.5 514.1 L685.4 512.2 L687.3 510.4 L689.2 508.5 L691.2 506.7 L693.1 505 L695.1 503.3 L697 501.6 L698.9 499.9 L700.9 498.3 L702.9 496.6 L705.1 494.9 L707.2 493.2 L709.4 491.5 L711.5 489.9 L713.6 488.4 L715.4 487.1 L717 485.9 L718 485.1 L718.4 484.8 L718.6 484.5 L718.9 484.3 L719.3 483.9 L719.9 483.6 L720.7 483.2 L721.7 482.7 L723.1 482.1 L725.1 481.3 L726.7 480.5 L681.3 369.5 L681.1 369.5 L680.9 369.5 L679.7 369.8 L677.8 370.5 L675.3 371.3 L672.4 372.3 L669.2 373.6 L665.6 375.2 L661.7 376.9 L658 378.9 L654.6 380.6 L651.5 382.3 L648.3 384.1 L645 385.9 L641.7 387.8 L638.4 389.8 L635 391.8 L631.7 393.9 L628.3 396 L625.1 398.1 L621.9 400.2 L618.7 402.3 L615.6 404.4 L612.5 406.6 L609.4 408.8 L606.3 411.1 L603.3 413.3 L600.3 415.6 L597.3 417.9 L594.3 420.2 L591.3 422.6 L588.4 425 L585.5 427.4 L582.6 429.8 L579.8 432.2 L577 434.7 L574.2 437.1 L571.4 439.6 L568.7 442.1 L566 444.6 L563.4 447 L560.8 449.5 L558.2 452 L555.5 454.6 L552.8 457.3 L550 460.1 L547.2 463 L544.4 466 L541.5 469.2 L538.7 472.2 L536.2 475 L533.6 477.8 L530.7 481 L527.5 484.5 L524.2 488.3 L520.7 492.5 L517.2 497 L513.5 501.9 L509.8 507.2 L506.2 512.7 L503.2 517.8 L500.3 522.6 L497.6 527.7 L495 532.8 L492.5 538 L490.1 543.4 L487.8 548.9 L485.7 554.5 L483.6 560.2 L481.7 566.1 L479.9 572.4 L478.2 578.8 L476.8 584.9 L475.5 590.9 L474.4 596.6 L473.4 602.2 L472.5 607.6 L471.6 612.7 L470.8 617.7 L470.1 622.7 L469.3 628.1 L468.6 633.7 L467.9 639.2 L467.3 644.6 L466.8 649.9 L466.3 655 L465.8 660.1 L465.4 665 L465 669.8 L464.5 674.6 L464.1 679.7 L463.7 684.9 L463.3 690 L462.9 695 L462.6 700 L462.3 705 L462 709.9 L461.6 714.8 L461.3 719.7 L461 724.6 L460.7 729.8 L460.3 735.5 L460 741.4 L459.6 747.3 L459.3 753.1 L459 758.7 L458.7 763.8 L458.4 768.3 L458.2 772.1 L458 775.1Z" fill="#fff" opacity="0.30" filter="url(#b40)"/>
<path d="M605 774.9 L604.9 771.9 L604.7 768 L604.4 763.5 L604.2 758.4 L603.9 752.9 L603.6 747.2 L603.3 741.5 L603.1 735.8 L602.8 730.4 L602.6 725.3 L602.4 720.4 L602.2 715.6 L602 710.8 L601.8 706 L601.6 701.4 L601.4 696.8 L601.2 692.2 L601.1 687.7 L601 683.2 L600.9 678.7 L600.8 674 L600.7 669.3 L600.6 664.7 L600.6 660.2 L600.5 655.8 L600.5 651.5 L600.5 647.3 L600.5 643.3 L600.6 639.3 L600.8 635.3 L601 630.9 L601.2 626.5 L601.5 622.3 L601.7 618.2 L602 614.3 L602.3 610.6 L602.7 607.2 L603 604 L603.4 601.2 L603.9 598.6 L604.4 595.9 L605.1 593.2 L605.7 590.6 L606.5 588 L607.2 585.6 L608.1 583.1 L609 580.6 L610 578.1 L611.1 575.6 L612.2 573.3 L613.2 571.2 L614.3 569.1 L615.7 566.8 L617.3 564.2 L619.1 561.5 L621.1 558.7 L623.2 555.7 L625.4 552.7 L627.8 549.6 L630 546.5 L631.9 543.9 L633.6 541.6 L635.4 539.3 L637.1 537.1 L638.8 534.9 L640.6 532.8 L642.4 530.6 L644.2 528.4 L646.1 526.2 L648.1 524 L650 521.7 L651.9 519.6 L653.8 517.5 L655.7 515.4 L657.6 513.4 L659.5 511.4 L661.4 509.4 L663.3 507.4 L665.2 505.5 L667.2 503.5 L669.2 501.6 L671.3 499.6 L673.3 497.7 L675.4 495.8 L677.5 493.9 L679.6 492 L681.7 490.2 L683.8 488.4 L685.9 486.6 L688 484.9 L690.1 483.2 L692.4 481.4 L694.7 479.6 L697 477.9 L699.4 476.1 L701.7 474.5 L703.8 472.9 L705.9 471.5 L707.7 470.2 L709.1 469.3 L709.9 468.7 L710.7 468.2 L711.5 467.7 L712.3 467.2 L713.2 466.8 L714.3 466.3 L715.4 465.8 L716.7 465.2 L718.5 464.5 L719.9 463.9 L688.1 386.1 L687.7 386.2 L687.2 386.4 L686 386.7 L684.2 387.3 L682 388.1 L679.5 389 L676.6 390.2 L673.5 391.5 L670.2 393 L666.9 394.7 L663.9 396.3 L661 397.9 L658 399.6 L654.9 401.4 L651.8 403.2 L648.6 405.1 L645.4 407.1 L642.2 409.1 L639.1 411.1 L636 413.1 L633 415.1 L630 417.2 L627 419.3 L624.1 421.4 L621.1 423.5 L618.2 425.6 L615.3 427.8 L612.4 430 L609.6 432.2 L606.8 434.5 L604 436.8 L601.2 439.1 L598.5 441.4 L595.7 443.7 L593 446 L590.4 448.4 L587.7 450.8 L585.1 453.2 L582.5 455.6 L579.9 458 L577.4 460.4 L574.9 462.8 L572.4 465.3 L569.9 467.8 L567.3 470.4 L564.7 473.1 L562.1 475.8 L559.4 478.7 L556.6 481.7 L554 484.7 L551.5 487.5 L548.9 490.3 L546.1 493.5 L543.2 496.9 L540 500.5 L536.8 504.4 L533.5 508.6 L530.2 513.1 L526.9 517.8 L523.8 522.7 L521 527.3 L518.5 531.8 L516 536.4 L513.7 541.1 L511.4 545.9 L509.2 550.8 L507.2 555.7 L505.3 560.8 L503.5 566 L501.7 571.4 L500.1 577.1 L498.6 582.9 L497.3 588.5 L496.2 594.1 L495.2 599.5 L494.3 604.8 L493.4 609.9 L492.7 615 L491.9 619.8 L491.2 624.7 L490.5 629.9 L489.9 635.2 L489.3 640.5 L488.8 645.7 L488.3 650.8 L487.9 655.9 L487.5 660.8 L487.1 665.7 L486.7 670.5 L486.3 675.3 L486 680.3 L485.6 685.3 L485.3 690.3 L485 695.3 L484.7 700.3 L484.4 705.2 L484.2 710.1 L483.9 714.9 L483.7 719.8 L483.4 724.7 L483.1 729.9 L482.8 735.6 L482.6 741.4 L482.3 747.3 L482 753.1 L481.8 758.6 L481.5 763.7 L481.3 768.3 L481.1 772.1 L481 775.1Z" fill="#fff" opacity="0.5" filter="url(#b25)"/>
<path d="M690 424 C740 422 780 428 801 433 C830 437 870 443 892 453 C915 465 930 482 937 497 C946 520 949 545 943 562 C938 577 928 588 924 605 C921 625 923 645 928 662" stroke="#fff" stroke-width="84" fill="none" opacity="0.45" filter="url(#b25)"/>
<path d="M480 760 C478 690 482 630 500 575 C515 535 540 500 570 470" stroke="#fff" stroke-width="70" fill="none" opacity="0.5" filter="url(#b12)"/>
<ellipse cx="697" cy="700" rx="120" ry="55" fill="#fff" opacity="0.3" filter="url(#b25)"/>
<ellipse cx="692" cy="380" rx="70" ry="54" fill="#fff" opacity="0.5" filter="url(#b12)"/>
<ellipse cx="685" cy="372" rx="18" ry="32" fill="#fff" opacity="0.5" filter="url(#b6)"/>
<ellipse cx="725" cy="468" rx="95" ry="34" fill="#fff" opacity="0.5" filter="url(#b12)"/>
<ellipse cx="655" cy="402" rx="75" ry="28" fill="#fff" opacity="0.4" filter="url(#b12)"/>
<ellipse cx="745" cy="400" rx="45" ry="20" fill="#fff" opacity="0.25" filter="url(#b12)"/>
<path d="M600 760 C598 700 600 650 612 600 C625 560 650 525 690 495" stroke="#fff" stroke-width="56" fill="none" opacity="0.4" filter="url(#b12)"/>
<ellipse cx="735" cy="600" rx="185" ry="125" fill="#fff" opacity="0.22" filter="url(#b25)"/>
<ellipse cx="838" cy="526" rx="72" ry="52" fill="rgb(148,148,148)" opacity="0.8" filter="url(#b25)"/>
<ellipse cx="705" cy="585" rx="70" ry="42" fill="rgb(173,173,173)" opacity="0.5" filter="url(#b25)"/>
<path d="M581 775 L580.9 772 L580.7 768.1 L580.5 763.5 L580.3 758.4 L580.1 753 L579.8 747.2 L579.6 741.4 L579.4 735.7 L579.1 730.3 L579 725.2 L578.8 720.3 L578.6 715.4 L578.4 710.6 L578.3 705.9 L578.1 701.1 L578 696.5 L577.8 691.8 L577.7 687.2 L577.6 682.6 L577.6 678 L577.5 673.3 L577.5 668.6 L577.4 663.9 L577.4 659.3 L577.4 654.8 L577.4 650.3 L577.5 645.9 L577.6 641.6 L577.7 637.4 L577.9 633.1 L578.2 628.6 L578.5 624.1 L578.8 619.7 L579.1 615.3 L579.4 611.1 L579.8 607.1 L580.3 603.2 L580.8 599.5 L581.4 596.1 L582 592.8 L582.8 589.5 L583.6 586.2 L584.5 583.1 L585.4 580 L586.5 577 L587.6 574 L588.8 571 L590.1 568 L591.4 565.1 L592.8 562.2 L594.2 559.5 L595.8 556.8 L597.5 553.9 L599.5 551 L601.5 548 L603.7 544.9 L606 541.8 L608.3 538.7 L610.6 535.6 L612.9 532.6 L614.9 529.9 L616.9 527.3 L618.8 524.9 L620.7 522.5 L622.5 520.2 L624.4 517.9 L626.4 515.7 L628.3 513.4 L630.3 511.1 L632.4 508.8 L634.4 506.5 L636.5 504.3 L638.5 502 L640.5 499.9 L642.6 497.7 L644.6 495.6 L646.7 493.5 L648.8 491.4 L650.9 489.3 L653 487.3 L655.2 485.2 L657.4 483.2 L659.6 481.1 L661.8 479.1 L664.1 477.1 L666.4 475.2 L668.6 473.2 L670.9 471.3 L673.2 469.4 L675.5 467.6 L677.8 465.8 L680.2 463.9 L682.7 462 L685.2 460.2 L687.8 458.4 L690.2 456.6 L692.6 455 L694.8 453.4 L696.9 452.1 L698.7 450.9 L700.1 450 L701.5 449.2 L702.8 448.5 L704.2 447.8 L705.5 447.2 L706.8 446.6 L708.1 446.1 L709.4 445.5 L710.8 445 L712 444.4 L696 405.6 L695.4 405.8 L694.6 406 L693.3 406.5 L691.7 407 L689.8 407.7 L687.6 408.5 L685.3 409.4 L682.7 410.5 L680 411.7 L677.3 413.1 L674.7 414.5 L672 416 L669.2 417.6 L666.3 419.3 L663.4 421 L660.4 422.8 L657.4 424.7 L654.4 426.6 L651.4 428.5 L648.5 430.4 L645.7 432.3 L642.9 434.2 L640.1 436.2 L637.3 438.2 L634.5 440.2 L631.8 442.3 L629.1 444.4 L626.3 446.5 L623.7 448.6 L621 450.7 L618.4 452.9 L615.7 455.1 L613.2 457.3 L610.6 459.5 L608.1 461.7 L605.5 464 L603 466.2 L600.5 468.5 L598.1 470.9 L595.6 473.2 L593.2 475.5 L590.8 477.9 L588.4 480.2 L586 482.6 L583.6 485.1 L581.1 487.6 L578.7 490.2 L576.2 492.9 L573.6 495.7 L571.1 498.6 L568.6 501.4 L566.1 504.3 L563.3 507.4 L560.5 510.6 L557.6 514.1 L554.7 517.7 L551.7 521.5 L548.8 525.4 L545.9 529.6 L543.2 533.8 L540.7 537.9 L538.5 541.9 L536.3 546 L534.2 550.2 L532.2 554.5 L530.3 558.8 L528.5 563.3 L526.7 567.8 L525.1 572.4 L523.6 577.2 L522.2 582.3 L520.9 587.4 L519.7 592.5 L518.7 597.6 L517.8 602.6 L516.9 607.6 L516.1 612.5 L515.4 617.4 L514.7 622.1 L514.1 626.9 L513.4 631.9 L512.8 636.9 L512.3 641.9 L511.8 646.9 L511.4 651.9 L511 656.8 L510.6 661.6 L510.3 666.4 L510 671.2 L509.6 676 L509.3 680.9 L509 685.8 L508.7 690.7 L508.4 695.6 L508.2 700.5 L507.9 705.3 L507.7 710.2 L507.5 715.1 L507.3 719.9 L507 724.8 L506.8 730 L506.6 735.6 L506.3 741.4 L506.1 747.3 L505.9 753 L505.6 758.6 L505.4 763.7 L505.3 768.2 L505.1 772.1 L505 775Z" fill="#fff" opacity="0.45" filter="url(#b12)"/>
<path d="M576 775 L575.9 772 L575.7 768.1 L575.5 763.5 L575.3 758.4 L575.1 753 L574.8 747.2 L574.6 741.4 L574.4 735.7 L574.1 730.3 L574 725.2 L573.8 720.3 L573.6 715.4 L573.4 710.6 L573.3 705.8 L573.1 701.1 L573 696.4 L572.8 691.7 L572.7 687.1 L572.6 682.5 L572.6 677.9 L572.5 673.1 L572.5 668.4 L572.5 663.7 L572.4 659.1 L572.4 654.6 L572.4 650.1 L572.5 645.6 L572.6 641.2 L572.7 636.9 L573 632.6 L573.2 628.1 L573.5 623.6 L573.8 619.1 L574.1 614.7 L574.5 610.5 L574.9 606.3 L575.4 602.3 L575.9 598.5 L576.5 594.9 L577.2 591.5 L578 588.1 L578.8 584.7 L579.8 581.4 L580.8 578.2 L581.9 575 L583 571.9 L584.3 568.8 L585.6 565.8 L587 562.7 L588.5 559.7 L590 556.9 L591.6 554 L593.5 551 L595.5 548 L597.6 544.9 L599.8 541.8 L602.1 538.7 L604.4 535.6 L606.8 532.5 L609 529.5 L611.1 526.7 L613 524.1 L615 521.6 L616.9 519.2 L618.8 516.9 L620.8 514.6 L622.7 512.3 L624.7 510 L626.7 507.6 L628.8 505.3 L630.9 503 L632.9 500.7 L635 498.5 L637 496.3 L639.1 494.1 L641.2 491.9 L643.3 489.8 L645.4 487.7 L647.5 485.6 L649.7 483.5 L651.9 481.4 L654.1 479.4 L656.4 477.3 L658.7 475.3 L661 473.2 L663.3 471.2 L665.6 469.3 L667.9 467.3 L670.2 465.4 L672.6 463.6 L674.9 461.7 L677.4 459.8 L679.9 457.9 L682.5 456 L685 454.2 L687.5 452.4 L689.9 450.7 L692.2 449.2 L694.4 447.7 L696.2 446.5 L697.8 445.6 L699.3 444.7 L700.8 443.9 L702.2 443.2 L703.6 442.6 L705 442 L706.3 441.4 L707.6 440.9 L709 440.3 L710.1 439.8 L697.9 410.2 L697.2 410.4 L696.3 410.7 L695.1 411.1 L693.5 411.7 L691.6 412.3 L689.6 413.1 L687.3 414 L684.9 415 L682.3 416.2 L679.8 417.5 L677.2 418.8 L674.6 420.3 L671.9 421.8 L669 423.5 L666.1 425.2 L663.1 427 L660.2 428.8 L657.2 430.7 L654.3 432.6 L651.4 434.4 L648.7 436.3 L645.9 438.2 L643.1 440.2 L640.4 442.1 L637.7 444.1 L634.9 446.2 L632.2 448.2 L629.6 450.3 L626.9 452.4 L624.3 454.5 L621.7 456.6 L619.1 458.8 L616.6 460.9 L614 463.1 L611.5 465.3 L609 467.5 L606.6 469.8 L604.1 472.1 L601.6 474.4 L599.2 476.7 L596.8 479 L594.4 481.3 L592.1 483.6 L589.7 486 L587.3 488.4 L584.9 490.9 L582.5 493.5 L580 496.2 L577.5 498.9 L575 501.7 L572.5 504.6 L569.9 507.5 L567.2 510.5 L564.4 513.7 L561.6 517.1 L558.7 520.7 L555.8 524.4 L552.9 528.2 L550.1 532.2 L547.5 536.3 L545.2 540.3 L542.9 544.2 L540.8 548.2 L538.7 552.2 L536.8 556.4 L534.9 560.6 L533.2 564.9 L531.5 569.3 L529.9 573.9 L528.4 578.5 L527 583.4 L525.8 588.4 L524.6 593.4 L523.6 598.3 L522.7 603.3 L521.9 608.2 L521.1 613.1 L520.4 617.9 L519.7 622.7 L519 627.4 L518.4 632.3 L517.8 637.3 L517.3 642.2 L516.8 647.2 L516.4 652.1 L516 656.9 L515.6 661.8 L515.3 666.6 L515 671.4 L514.6 676.1 L514.3 681 L514 685.9 L513.7 690.8 L513.4 695.7 L513.2 700.5 L512.9 705.4 L512.7 710.2 L512.5 715.1 L512.3 719.9 L512 724.8 L511.8 730 L511.6 735.6 L511.3 741.4 L511.1 747.3 L510.9 753 L510.6 758.6 L510.4 763.7 L510.3 768.2 L510.1 772.1 L510 775Z" fill="#fff" filter="url(#b6)"/>
<path d="M690 424 C740 422 780 428 801 433 C830 437 870 443 892 453 C915 465 930 482 937 497 C946 520 949 545 943 562 C938 577 928 588 924 605 C921 625 923 645 928 662" stroke="#fff" stroke-width="24" fill="none" opacity="0.92" filter="url(#b6)"/>
<path d="M846 438 C880 445 915 463 931 486 C947 515 951 545 944 562 C939 577 929 588 925 605" stroke="#fff" stroke-width="19" fill="none" filter="url(#b6)"/>
<path d="M938 560 C930 580 922 600 923 640" stroke="#fff" stroke-width="24" fill="none" opacity="0.9" filter="url(#b12)"/>
<circle cx="806" cy="432" r="9" fill="#fff" filter="url(#b6)"/>
<ellipse cx="693" cy="427" rx="20" ry="15" fill="#fff" filter="url(#b6)"/>
<ellipse cx="926" cy="598" rx="13" ry="40" fill="#fff" filter="url(#b6)"/>
<path d="M884 452 C905 470 922 495 928 520 C930 540 926 556 912 566" stroke="#fff" stroke-width="9" fill="none" opacity="0.8" filter="url(#b6)"/>
<path d="M849.5 99 L890.6 157 L919.7 220 L943.8 268 L972.9 341 L1001.9 428 L1021 505 L1031 578 L1038 626 L1042 675 L1049 730" stroke="#000" stroke-width="36" fill="none" opacity="0.3" filter="url(#b12)"/>
<path d="M870 60 L905 150 L935 215 L960 268 L990 341 L1018 428 L1038 505 L1050 578 L1056 626 L1060 675 L1066 730" stroke="#000" stroke-width="34" fill="none" opacity="0.4" filter="url(#b12)"/>
<path d="M60 712 L430 732 L560 735" stroke="#000" stroke-width="36" fill="none" opacity="0.3" filter="url(#b6)"/>
</g></g>
<g clip-path="url(#cnB)"><g filter="url(#nB)"><g>
<rect x="60" y="60" width="1020" height="700" fill="rgb(168,168,168)"/>
<g filter="url(#b60)">
<ellipse cx="730" cy="570" rx="380" ry="320" fill="#fff" opacity="0.22"/>
<rect x="40" y="585" width="900" height="220" fill="#fff" opacity="0.16"/>
</g>
<ellipse cx="270" cy="440" rx="200" ry="105" fill="#000" opacity="0.13" filter="url(#b25)"/>
<ellipse cx="905" cy="230" rx="105" ry="190" fill="#000" opacity="0.2" filter="url(#b25)"/>
<path d="M70 535 L200 558 L340 602" stroke="#fff" stroke-width="36" fill="none" opacity="0.2" filter="url(#b12)"/>
<path d="M628 774.9 L627.8 771.9 L627.6 768 L627.3 763.4 L627 758.4 L626.6 752.9 L626.3 747.2 L625.9 741.5 L625.6 735.8 L625.3 730.4 L625 725.4 L624.7 720.6 L624.5 715.7 L624.2 710.9 L623.9 706.2 L623.7 701.6 L623.5 697 L623.2 692.6 L623 688.1 L622.8 683.8 L622.7 679.4 L622.5 674.7 L622.4 670 L622.3 665.4 L622.1 661 L622 656.8 L621.9 652.6 L621.9 648.6 L621.9 644.8 L621.9 641.1 L621.9 637.3 L622.1 633.1 L622.3 628.8 L622.4 624.6 L622.6 620.8 L622.8 617.1 L623 613.8 L623.2 610.8 L623.4 608.1 L623.7 605.9 L623.9 603.9 L624.2 601.7 L624.7 599.5 L625.1 597.4 L625.6 595.4 L626.2 593.4 L626.8 591.4 L627.4 589.4 L628.2 587.3 L629 585.2 L629.8 583.3 L630.4 581.8 L631.1 580.3 L632.1 578.4 L633.4 576.2 L634.9 573.7 L636.7 571.1 L638.7 568.2 L640.8 565.2 L643.1 562.1 L645.3 559 L647.1 556.5 L648.7 554.3 L650.2 552.1 L651.8 550.1 L653.3 548 L654.9 546 L656.6 543.9 L658.3 541.8 L660.1 539.6 L662 537.4 L663.8 535.3 L665.6 533.2 L667.3 531.2 L669.1 529.2 L670.8 527.2 L672.6 525.3 L674.3 523.4 L676.1 521.5 L677.9 519.6 L679.7 517.8 L681.6 515.9 L683.5 514.1 L685.4 512.2 L687.3 510.4 L689.2 508.5 L691.2 506.7 L693.1 505 L695.1 503.3 L697 501.6 L698.9 499.9 L700.9 498.3 L702.9 496.6 L705.1 494.9 L707.2 493.2 L709.4 491.5 L711.5 489.9 L713.6 488.4 L715.4 487.1 L717 485.9 L718 485.1 L718.4 484.8 L718.6 484.5 L718.9 484.3 L719.3 483.9 L719.9 483.6 L720.7 483.2 L721.7 482.7 L723.1 482.1 L725.1 481.3 L726.7 480.5 L681.3 369.5 L681.1 369.5 L680.9 369.5 L679.7 369.8 L677.8 370.5 L675.3 371.3 L672.4 372.3 L669.2 373.6 L665.6 375.2 L661.7 376.9 L658 378.9 L654.6 380.6 L651.5 382.3 L648.3 384.1 L645 385.9 L641.7 387.8 L638.4 389.8 L635 391.8 L631.7 393.9 L628.3 396 L625.1 398.1 L621.9 400.2 L618.7 402.3 L615.6 404.4 L612.5 406.6 L609.4 408.8 L606.3 411.1 L603.3 413.3 L600.3 415.6 L597.3 417.9 L594.3 420.2 L591.3 422.6 L588.4 425 L585.5 427.4 L582.6 429.8 L579.8 432.2 L577 434.7 L574.2 437.1 L571.4 439.6 L568.7 442.1 L566 444.6 L563.4 447 L560.8 449.5 L558.2 452 L555.5 454.6 L552.8 457.3 L550 460.1 L547.2 463 L544.4 466 L541.5 469.2 L538.7 472.2 L536.2 475 L533.6 477.8 L530.7 481 L527.5 484.5 L524.2 488.3 L520.7 492.5 L517.2 497 L513.5 501.9 L509.8 507.2 L506.2 512.7 L503.2 517.8 L500.3 522.6 L497.6 527.7 L495 532.8 L492.5 538 L490.1 543.4 L487.8 548.9 L485.7 554.5 L483.6 560.2 L481.7 566.1 L479.9 572.4 L478.2 578.8 L476.8 584.9 L475.5 590.9 L474.4 596.6 L473.4 602.2 L472.5 607.6 L471.6 612.7 L470.8 617.7 L470.1 622.7 L469.3 628.1 L468.6 633.7 L467.9 639.2 L467.3 644.6 L466.8 649.9 L466.3 655 L465.8 660.1 L465.4 665 L465 669.8 L464.5 674.6 L464.1 679.7 L463.7 684.9 L463.3 690 L462.9 695 L462.6 700 L462.3 705 L462 709.9 L461.6 714.8 L461.3 719.7 L461 724.6 L460.7 729.8 L460.3 735.5 L460 741.4 L459.6 747.3 L459.3 753.1 L459 758.7 L458.7 763.8 L458.4 768.3 L458.2 772.1 L458 775.1Z" fill="#fff" opacity="0.30" filter="url(#b40)"/>
<path d="M605 774.9 L604.9 771.9 L604.7 768 L604.4 763.5 L604.2 758.4 L603.9 752.9 L603.6 747.2 L603.3 741.5 L603.1 735.8 L602.8 730.4 L602.6 725.3 L602.4 720.4 L602.2 715.6 L602 710.8 L601.8 706 L601.6 701.4 L601.4 696.8 L601.2 692.2 L601.1 687.7 L601 683.2 L600.9 678.7 L600.8 674 L600.7 669.3 L600.6 664.7 L600.6 660.2 L600.5 655.8 L600.5 651.5 L600.5 647.3 L600.5 643.3 L600.6 639.3 L600.8 635.3 L601 630.9 L601.2 626.5 L601.5 622.3 L601.7 618.2 L602 614.3 L602.3 610.6 L602.7 607.2 L603 604 L603.4 601.2 L603.9 598.6 L604.4 595.9 L605.1 593.2 L605.7 590.6 L606.5 588 L607.2 585.6 L608.1 583.1 L609 580.6 L610 578.1 L611.1 575.6 L612.2 573.3 L613.2 571.2 L614.3 569.1 L615.7 566.8 L617.3 564.2 L619.1 561.5 L621.1 558.7 L623.2 555.7 L625.4 552.7 L627.8 549.6 L630 546.5 L631.9 543.9 L633.6 541.6 L635.4 539.3 L637.1 537.1 L638.8 534.9 L640.6 532.8 L642.4 530.6 L644.2 528.4 L646.1 526.2 L648.1 524 L650 521.7 L651.9 519.6 L653.8 517.5 L655.7 515.4 L657.6 513.4 L659.5 511.4 L661.4 509.4 L663.3 507.4 L665.2 505.5 L667.2 503.5 L669.2 501.6 L671.3 499.6 L673.3 497.7 L675.4 495.8 L677.5 493.9 L679.6 492 L681.7 490.2 L683.8 488.4 L685.9 486.6 L688 484.9 L690.1 483.2 L692.4 481.4 L694.7 479.6 L697 477.9 L699.4 476.1 L701.7 474.5 L703.8 472.9 L705.9 471.5 L707.7 470.2 L709.1 469.3 L709.9 468.7 L710.7 468.2 L711.5 467.7 L712.3 467.2 L713.2 466.8 L714.3 466.3 L715.4 465.8 L716.7 465.2 L718.5 464.5 L719.9 463.9 L688.1 386.1 L687.7 386.2 L687.2 386.4 L686 386.7 L684.2 387.3 L682 388.1 L679.5 389 L676.6 390.2 L673.5 391.5 L670.2 393 L666.9 394.7 L663.9 396.3 L661 397.9 L658 399.6 L654.9 401.4 L651.8 403.2 L648.6 405.1 L645.4 407.1 L642.2 409.1 L639.1 411.1 L636 413.1 L633 415.1 L630 417.2 L627 419.3 L624.1 421.4 L621.1 423.5 L618.2 425.6 L615.3 427.8 L612.4 430 L609.6 432.2 L606.8 434.5 L604 436.8 L601.2 439.1 L598.5 441.4 L595.7 443.7 L593 446 L590.4 448.4 L587.7 450.8 L585.1 453.2 L582.5 455.6 L579.9 458 L577.4 460.4 L574.9 462.8 L572.4 465.3 L569.9 467.8 L567.3 470.4 L564.7 473.1 L562.1 475.8 L559.4 478.7 L556.6 481.7 L554 484.7 L551.5 487.5 L548.9 490.3 L546.1 493.5 L543.2 496.9 L540 500.5 L536.8 504.4 L533.5 508.6 L530.2 513.1 L526.9 517.8 L523.8 522.7 L521 527.3 L518.5 531.8 L516 536.4 L513.7 541.1 L511.4 545.9 L509.2 550.8 L507.2 555.7 L505.3 560.8 L503.5 566 L501.7 571.4 L500.1 577.1 L498.6 582.9 L497.3 588.5 L496.2 594.1 L495.2 599.5 L494.3 604.8 L493.4 609.9 L492.7 615 L491.9 619.8 L491.2 624.7 L490.5 629.9 L489.9 635.2 L489.3 640.5 L488.8 645.7 L488.3 650.8 L487.9 655.9 L487.5 660.8 L487.1 665.7 L486.7 670.5 L486.3 675.3 L486 680.3 L485.6 685.3 L485.3 690.3 L485 695.3 L484.7 700.3 L484.4 705.2 L484.2 710.1 L483.9 714.9 L483.7 719.8 L483.4 724.7 L483.1 729.9 L482.8 735.6 L482.6 741.4 L482.3 747.3 L482 753.1 L481.8 758.6 L481.5 763.7 L481.3 768.3 L481.1 772.1 L481 775.1Z" fill="#fff" opacity="0.5" filter="url(#b25)"/>
<path d="M690 424 C740 422 780 428 801 433 C830 437 870 443 892 453 C915 465 930 482 937 497 C946 520 949 545 943 562 C938 577 928 588 924 605 C921 625 923 645 928 662" stroke="#fff" stroke-width="84" fill="none" opacity="0.45" filter="url(#b25)"/>
<path d="M480 760 C478 690 482 630 500 575 C515 535 540 500 570 470" stroke="#fff" stroke-width="70" fill="none" opacity="0.5" filter="url(#b12)"/>
<ellipse cx="697" cy="700" rx="120" ry="55" fill="#fff" opacity="0.3" filter="url(#b25)"/>
<ellipse cx="692" cy="380" rx="70" ry="54" fill="#fff" opacity="0.5" filter="url(#b12)"/>
<ellipse cx="685" cy="372" rx="18" ry="32" fill="#fff" opacity="0.5" filter="url(#b6)"/>
<ellipse cx="725" cy="468" rx="95" ry="34" fill="#fff" opacity="0.5" filter="url(#b12)"/>
<ellipse cx="655" cy="402" rx="75" ry="28" fill="#fff" opacity="0.4" filter="url(#b12)"/>
<ellipse cx="745" cy="400" rx="45" ry="20" fill="#fff" opacity="0.25" filter="url(#b12)"/>
<path d="M600 760 C598 700 600 650 612 600 C625 560 650 525 690 495" stroke="#fff" stroke-width="56" fill="none" opacity="0.4" filter="url(#b12)"/>
<ellipse cx="735" cy="600" rx="185" ry="125" fill="#fff" opacity="0.22" filter="url(#b25)"/>
<ellipse cx="838" cy="526" rx="72" ry="52" fill="rgb(148,148,148)" opacity="0.8" filter="url(#b25)"/>
<ellipse cx="705" cy="585" rx="70" ry="42" fill="rgb(173,173,173)" opacity="0.5" filter="url(#b25)"/>
<path d="M581 775 L580.9 772 L580.7 768.1 L580.5 763.5 L580.3 758.4 L580.1 753 L579.8 747.2 L579.6 741.4 L579.4 735.7 L579.1 730.3 L579 725.2 L578.8 720.3 L578.6 715.4 L578.4 710.6 L578.3 705.9 L578.1 701.1 L578 696.5 L577.8 691.8 L577.7 687.2 L577.6 682.6 L577.6 678 L577.5 673.3 L577.5 668.6 L577.4 663.9 L577.4 659.3 L577.4 654.8 L577.4 650.3 L577.5 645.9 L577.6 641.6 L577.7 637.4 L577.9 633.1 L578.2 628.6 L578.5 624.1 L578.8 619.7 L579.1 615.3 L579.4 611.1 L579.8 607.1 L580.3 603.2 L580.8 599.5 L581.4 596.1 L582 592.8 L582.8 589.5 L583.6 586.2 L584.5 583.1 L585.4 580 L586.5 577 L587.6 574 L588.8 571 L590.1 568 L591.4 565.1 L592.8 562.2 L594.2 559.5 L595.8 556.8 L597.5 553.9 L599.5 551 L601.5 548 L603.7 544.9 L606 541.8 L608.3 538.7 L610.6 535.6 L612.9 532.6 L614.9 529.9 L616.9 527.3 L618.8 524.9 L620.7 522.5 L622.5 520.2 L624.4 517.9 L626.4 515.7 L628.3 513.4 L630.3 511.1 L632.4 508.8 L634.4 506.5 L636.5 504.3 L638.5 502 L640.5 499.9 L642.6 497.7 L644.6 495.6 L646.7 493.5 L648.8 491.4 L650.9 489.3 L653 487.3 L655.2 485.2 L657.4 483.2 L659.6 481.1 L661.8 479.1 L664.1 477.1 L666.4 475.2 L668.6 473.2 L670.9 471.3 L673.2 469.4 L675.5 467.6 L677.8 465.8 L680.2 463.9 L682.7 462 L685.2 460.2 L687.8 458.4 L690.2 456.6 L692.6 455 L694.8 453.4 L696.9 452.1 L698.7 450.9 L700.1 450 L701.5 449.2 L702.8 448.5 L704.2 447.8 L705.5 447.2 L706.8 446.6 L708.1 446.1 L709.4 445.5 L710.8 445 L712 444.4 L696 405.6 L695.4 405.8 L694.6 406 L693.3 406.5 L691.7 407 L689.8 407.7 L687.6 408.5 L685.3 409.4 L682.7 410.5 L680 411.7 L677.3 413.1 L674.7 414.5 L672 416 L669.2 417.6 L666.3 419.3 L663.4 421 L660.4 422.8 L657.4 424.7 L654.4 426.6 L651.4 428.5 L648.5 430.4 L645.7 432.3 L642.9 434.2 L640.1 436.2 L637.3 438.2 L634.5 440.2 L631.8 442.3 L629.1 444.4 L626.3 446.5 L623.7 448.6 L621 450.7 L618.4 452.9 L615.7 455.1 L613.2 457.3 L610.6 459.5 L608.1 461.7 L605.5 464 L603 466.2 L600.5 468.5 L598.1 470.9 L595.6 473.2 L593.2 475.5 L590.8 477.9 L588.4 480.2 L586 482.6 L583.6 485.1 L581.1 487.6 L578.7 490.2 L576.2 492.9 L573.6 495.7 L571.1 498.6 L568.6 501.4 L566.1 504.3 L563.3 507.4 L560.5 510.6 L557.6 514.1 L554.7 517.7 L551.7 521.5 L548.8 525.4 L545.9 529.6 L543.2 533.8 L540.7 537.9 L538.5 541.9 L536.3 546 L534.2 550.2 L532.2 554.5 L530.3 558.8 L528.5 563.3 L526.7 567.8 L525.1 572.4 L523.6 577.2 L522.2 582.3 L520.9 587.4 L519.7 592.5 L518.7 597.6 L517.8 602.6 L516.9 607.6 L516.1 612.5 L515.4 617.4 L514.7 622.1 L514.1 626.9 L513.4 631.9 L512.8 636.9 L512.3 641.9 L511.8 646.9 L511.4 651.9 L511 656.8 L510.6 661.6 L510.3 666.4 L510 671.2 L509.6 676 L509.3 680.9 L509 685.8 L508.7 690.7 L508.4 695.6 L508.2 700.5 L507.9 705.3 L507.7 710.2 L507.5 715.1 L507.3 719.9 L507 724.8 L506.8 730 L506.6 735.6 L506.3 741.4 L506.1 747.3 L505.9 753 L505.6 758.6 L505.4 763.7 L505.3 768.2 L505.1 772.1 L505 775Z" fill="#fff" opacity="0.45" filter="url(#b12)"/>
<path d="M576 775 L575.9 772 L575.7 768.1 L575.5 763.5 L575.3 758.4 L575.1 753 L574.8 747.2 L574.6 741.4 L574.4 735.7 L574.1 730.3 L574 725.2 L573.8 720.3 L573.6 715.4 L573.4 710.6 L573.3 705.8 L573.1 701.1 L573 696.4 L572.8 691.7 L572.7 687.1 L572.6 682.5 L572.6 677.9 L572.5 673.1 L572.5 668.4 L572.5 663.7 L572.4 659.1 L572.4 654.6 L572.4 650.1 L572.5 645.6 L572.6 641.2 L572.7 636.9 L573 632.6 L573.2 628.1 L573.5 623.6 L573.8 619.1 L574.1 614.7 L574.5 610.5 L574.9 606.3 L575.4 602.3 L575.9 598.5 L576.5 594.9 L577.2 591.5 L578 588.1 L578.8 584.7 L579.8 581.4 L580.8 578.2 L581.9 575 L583 571.9 L584.3 568.8 L585.6 565.8 L587 562.7 L588.5 559.7 L590 556.9 L591.6 554 L593.5 551 L595.5 548 L597.6 544.9 L599.8 541.8 L602.1 538.7 L604.4 535.6 L606.8 532.5 L609 529.5 L611.1 526.7 L613 524.1 L615 521.6 L616.9 519.2 L618.8 516.9 L620.8 514.6 L622.7 512.3 L624.7 510 L626.7 507.6 L628.8 505.3 L630.9 503 L632.9 500.7 L635 498.5 L637 496.3 L639.1 494.1 L641.2 491.9 L643.3 489.8 L645.4 487.7 L647.5 485.6 L649.7 483.5 L651.9 481.4 L654.1 479.4 L656.4 477.3 L658.7 475.3 L661 473.2 L663.3 471.2 L665.6 469.3 L667.9 467.3 L670.2 465.4 L672.6 463.6 L674.9 461.7 L677.4 459.8 L679.9 457.9 L682.5 456 L685 454.2 L687.5 452.4 L689.9 450.7 L692.2 449.2 L694.4 447.7 L696.2 446.5 L697.8 445.6 L699.3 444.7 L700.8 443.9 L702.2 443.2 L703.6 442.6 L705 442 L706.3 441.4 L707.6 440.9 L709 440.3 L710.1 439.8 L697.9 410.2 L697.2 410.4 L696.3 410.7 L695.1 411.1 L693.5 411.7 L691.6 412.3 L689.6 413.1 L687.3 414 L684.9 415 L682.3 416.2 L679.8 417.5 L677.2 418.8 L674.6 420.3 L671.9 421.8 L669 423.5 L666.1 425.2 L663.1 427 L660.2 428.8 L657.2 430.7 L654.3 432.6 L651.4 434.4 L648.7 436.3 L645.9 438.2 L643.1 440.2 L640.4 442.1 L637.7 444.1 L634.9 446.2 L632.2 448.2 L629.6 450.3 L626.9 452.4 L624.3 454.5 L621.7 456.6 L619.1 458.8 L616.6 460.9 L614 463.1 L611.5 465.3 L609 467.5 L606.6 469.8 L604.1 472.1 L601.6 474.4 L599.2 476.7 L596.8 479 L594.4 481.3 L592.1 483.6 L589.7 486 L587.3 488.4 L584.9 490.9 L582.5 493.5 L580 496.2 L577.5 498.9 L575 501.7 L572.5 504.6 L569.9 507.5 L567.2 510.5 L564.4 513.7 L561.6 517.1 L558.7 520.7 L555.8 524.4 L552.9 528.2 L550.1 532.2 L547.5 536.3 L545.2 540.3 L542.9 544.2 L540.8 548.2 L538.7 552.2 L536.8 556.4 L534.9 560.6 L533.2 564.9 L531.5 569.3 L529.9 573.9 L528.4 578.5 L527 583.4 L525.8 588.4 L524.6 593.4 L523.6 598.3 L522.7 603.3 L521.9 608.2 L521.1 613.1 L520.4 617.9 L519.7 622.7 L519 627.4 L518.4 632.3 L517.8 637.3 L517.3 642.2 L516.8 647.2 L516.4 652.1 L516 656.9 L515.6 661.8 L515.3 666.6 L515 671.4 L514.6 676.1 L514.3 681 L514 685.9 L513.7 690.8 L513.4 695.7 L513.2 700.5 L512.9 705.4 L512.7 710.2 L512.5 715.1 L512.3 719.9 L512 724.8 L511.8 730 L511.6 735.6 L511.3 741.4 L511.1 747.3 L510.9 753 L510.6 758.6 L510.4 763.7 L510.3 768.2 L510.1 772.1 L510 775Z" fill="#fff" filter="url(#b6)"/>
<path d="M690 424 C740 422 780 428 801 433 C830 437 870 443 892 453 C915 465 930 482 937 497 C946 520 949 545 943 562 C938 577 928 588 924 605 C921 625 923 645 928 662" stroke="#fff" stroke-width="24" fill="none" opacity="0.92" filter="url(#b6)"/>
<path d="M846 438 C880 445 915 463 931 486 C947 515 951 545 944 562 C939 577 929 588 925 605" stroke="#fff" stroke-width="19" fill="none" filter="url(#b6)"/>
<path d="M938 560 C930 580 922 600 923 640" stroke="#fff" stroke-width="24" fill="none" opacity="0.9" filter="url(#b12)"/>
<circle cx="806" cy="432" r="9" fill="#fff" filter="url(#b6)"/>
<ellipse cx="693" cy="427" rx="20" ry="15" fill="#fff" filter="url(#b6)"/>
<ellipse cx="926" cy="598" rx="13" ry="40" fill="#fff" filter="url(#b6)"/>
<path d="M884 452 C905 470 922 495 928 520 C930 540 926 556 912 566" stroke="#fff" stroke-width="9" fill="none" opacity="0.8" filter="url(#b6)"/>
<path d="M849.5 99 L890.6 157 L919.7 220 L943.8 268 L972.9 341 L1001.9 428 L1021 505 L1031 578 L1038 626 L1042 675 L1049 730" stroke="#000" stroke-width="36" fill="none" opacity="0.3" filter="url(#b12)"/>
<path d="M870 60 L905 150 L935 215 L960 268 L990 341 L1018 428 L1038 505 L1050 578 L1056 626 L1060 675 L1066 730" stroke="#000" stroke-width="34" fill="none" opacity="0.4" filter="url(#b12)"/>
<path d="M60 712 L430 732 L560 735" stroke="#000" stroke-width="36" fill="none" opacity="0.3" filter="url(#b6)"/>
</g></g></g>
<g clip-path="url(#cnC)"><g filter="url(#nC)"><g>
<rect x="60" y="60" width="1020" height="700" fill="rgb(168,168,168)"/>
<g filter="url(#b60)">
<ellipse cx="730" cy="570" rx="380" ry="320" fill="#fff" opacity="0.22"/>
<rect x="40" y="585" width="900" height="220" fill="#fff" opacity="0.16"/>
</g>
<ellipse cx="270" cy="440" rx="200" ry="105" fill="#000" opacity="0.13" filter="url(#b25)"/>
<ellipse cx="905" cy="230" rx="105" ry="190" fill="#000" opacity="0.2" filter="url(#b25)"/>
<path d="M70 535 L200 558 L340 602" stroke="#fff" stroke-width="36" fill="none" opacity="0.2" filter="url(#b12)"/>
<path d="M628 774.9 L627.8 771.9 L627.6 768 L627.3 763.4 L627 758.4 L626.6 752.9 L626.3 747.2 L625.9 741.5 L625.6 735.8 L625.3 730.4 L625 725.4 L624.7 720.6 L624.5 715.7 L624.2 710.9 L623.9 706.2 L623.7 701.6 L623.5 697 L623.2 692.6 L623 688.1 L622.8 683.8 L622.7 679.4 L622.5 674.7 L622.4 670 L622.3 665.4 L622.1 661 L622 656.8 L621.9 652.6 L621.9 648.6 L621.9 644.8 L621.9 641.1 L621.9 637.3 L622.1 633.1 L622.3 628.8 L622.4 624.6 L622.6 620.8 L622.8 617.1 L623 613.8 L623.2 610.8 L623.4 608.1 L623.7 605.9 L623.9 603.9 L624.2 601.7 L624.7 599.5 L625.1 597.4 L625.6 595.4 L626.2 593.4 L626.8 591.4 L627.4 589.4 L628.2 587.3 L629 585.2 L629.8 583.3 L630.4 581.8 L631.1 580.3 L632.1 578.4 L633.4 576.2 L634.9 573.7 L636.7 571.1 L638.7 568.2 L640.8 565.2 L643.1 562.1 L645.3 559 L647.1 556.5 L648.7 554.3 L650.2 552.1 L651.8 550.1 L653.3 548 L654.9 546 L656.6 543.9 L658.3 541.8 L660.1 539.6 L662 537.4 L663.8 535.3 L665.6 533.2 L667.3 531.2 L669.1 529.2 L670.8 527.2 L672.6 525.3 L674.3 523.4 L676.1 521.5 L677.9 519.6 L679.7 517.8 L681.6 515.9 L683.5 514.1 L685.4 512.2 L687.3 510.4 L689.2 508.5 L691.2 506.7 L693.1 505 L695.1 503.3 L697 501.6 L698.9 499.9 L700.9 498.3 L702.9 496.6 L705.1 494.9 L707.2 493.2 L709.4 491.5 L711.5 489.9 L713.6 488.4 L715.4 487.1 L717 485.9 L718 485.1 L718.4 484.8 L718.6 484.5 L718.9 484.3 L719.3 483.9 L719.9 483.6 L720.7 483.2 L721.7 482.7 L723.1 482.1 L725.1 481.3 L726.7 480.5 L681.3 369.5 L681.1 369.5 L680.9 369.5 L679.7 369.8 L677.8 370.5 L675.3 371.3 L672.4 372.3 L669.2 373.6 L665.6 375.2 L661.7 376.9 L658 378.9 L654.6 380.6 L651.5 382.3 L648.3 384.1 L645 385.9 L641.7 387.8 L638.4 389.8 L635 391.8 L631.7 393.9 L628.3 396 L625.1 398.1 L621.9 400.2 L618.7 402.3 L615.6 404.4 L612.5 406.6 L609.4 408.8 L606.3 411.1 L603.3 413.3 L600.3 415.6 L597.3 417.9 L594.3 420.2 L591.3 422.6 L588.4 425 L585.5 427.4 L582.6 429.8 L579.8 432.2 L577 434.7 L574.2 437.1 L571.4 439.6 L568.7 442.1 L566 444.6 L563.4 447 L560.8 449.5 L558.2 452 L555.5 454.6 L552.8 457.3 L550 460.1 L547.2 463 L544.4 466 L541.5 469.2 L538.7 472.2 L536.2 475 L533.6 477.8 L530.7 481 L527.5 484.5 L524.2 488.3 L520.7 492.5 L517.2 497 L513.5 501.9 L509.8 507.2 L506.2 512.7 L503.2 517.8 L500.3 522.6 L497.6 527.7 L495 532.8 L492.5 538 L490.1 543.4 L487.8 548.9 L485.7 554.5 L483.6 560.2 L481.7 566.1 L479.9 572.4 L478.2 578.8 L476.8 584.9 L475.5 590.9 L474.4 596.6 L473.4 602.2 L472.5 607.6 L471.6 612.7 L470.8 617.7 L470.1 622.7 L469.3 628.1 L468.6 633.7 L467.9 639.2 L467.3 644.6 L466.8 649.9 L466.3 655 L465.8 660.1 L465.4 665 L465 669.8 L464.5 674.6 L464.1 679.7 L463.7 684.9 L463.3 690 L462.9 695 L462.6 700 L462.3 705 L462 709.9 L461.6 714.8 L461.3 719.7 L461 724.6 L460.7 729.8 L460.3 735.5 L460 741.4 L459.6 747.3 L459.3 753.1 L459 758.7 L458.7 763.8 L458.4 768.3 L458.2 772.1 L458 775.1Z" fill="#fff" opacity="0.30" filter="url(#b40)"/>
<path d="M605 774.9 L604.9 771.9 L604.7 768 L604.4 763.5 L604.2 758.4 L603.9 752.9 L603.6 747.2 L603.3 741.5 L603.1 735.8 L602.8 730.4 L602.6 725.3 L602.4 720.4 L602.2 715.6 L602 710.8 L601.8 706 L601.6 701.4 L601.4 696.8 L601.2 692.2 L601.1 687.7 L601 683.2 L600.9 678.7 L600.8 674 L600.7 669.3 L600.6 664.7 L600.6 660.2 L600.5 655.8 L600.5 651.5 L600.5 647.3 L600.5 643.3 L600.6 639.3 L600.8 635.3 L601 630.9 L601.2 626.5 L601.5 622.3 L601.7 618.2 L602 614.3 L602.3 610.6 L602.7 607.2 L603 604 L603.4 601.2 L603.9 598.6 L604.4 595.9 L605.1 593.2 L605.7 590.6 L606.5 588 L607.2 585.6 L608.1 583.1 L609 580.6 L610 578.1 L611.1 575.6 L612.2 573.3 L613.2 571.2 L614.3 569.1 L615.7 566.8 L617.3 564.2 L619.1 561.5 L621.1 558.7 L623.2 555.7 L625.4 552.7 L627.8 549.6 L630 546.5 L631.9 543.9 L633.6 541.6 L635.4 539.3 L637.1 537.1 L638.8 534.9 L640.6 532.8 L642.4 530.6 L644.2 528.4 L646.1 526.2 L648.1 524 L650 521.7 L651.9 519.6 L653.8 517.5 L655.7 515.4 L657.6 513.4 L659.5 511.4 L661.4 509.4 L663.3 507.4 L665.2 505.5 L667.2 503.5 L669.2 501.6 L671.3 499.6 L673.3 497.7 L675.4 495.8 L677.5 493.9 L679.6 492 L681.7 490.2 L683.8 488.4 L685.9 486.6 L688 484.9 L690.1 483.2 L692.4 481.4 L694.7 479.6 L697 477.9 L699.4 476.1 L701.7 474.5 L703.8 472.9 L705.9 471.5 L707.7 470.2 L709.1 469.3 L709.9 468.7 L710.7 468.2 L711.5 467.7 L712.3 467.2 L713.2 466.8 L714.3 466.3 L715.4 465.8 L716.7 465.2 L718.5 464.5 L719.9 463.9 L688.1 386.1 L687.7 386.2 L687.2 386.4 L686 386.7 L684.2 387.3 L682 388.1 L679.5 389 L676.6 390.2 L673.5 391.5 L670.2 393 L666.9 394.7 L663.9 396.3 L661 397.9 L658 399.6 L654.9 401.4 L651.8 403.2 L648.6 405.1 L645.4 407.1 L642.2 409.1 L639.1 411.1 L636 413.1 L633 415.1 L630 417.2 L627 419.3 L624.1 421.4 L621.1 423.5 L618.2 425.6 L615.3 427.8 L612.4 430 L609.6 432.2 L606.8 434.5 L604 436.8 L601.2 439.1 L598.5 441.4 L595.7 443.7 L593 446 L590.4 448.4 L587.7 450.8 L585.1 453.2 L582.5 455.6 L579.9 458 L577.4 460.4 L574.9 462.8 L572.4 465.3 L569.9 467.8 L567.3 470.4 L564.7 473.1 L562.1 475.8 L559.4 478.7 L556.6 481.7 L554 484.7 L551.5 487.5 L548.9 490.3 L546.1 493.5 L543.2 496.9 L540 500.5 L536.8 504.4 L533.5 508.6 L530.2 513.1 L526.9 517.8 L523.8 522.7 L521 527.3 L518.5 531.8 L516 536.4 L513.7 541.1 L511.4 545.9 L509.2 550.8 L507.2 555.7 L505.3 560.8 L503.5 566 L501.7 571.4 L500.1 577.1 L498.6 582.9 L497.3 588.5 L496.2 594.1 L495.2 599.5 L494.3 604.8 L493.4 609.9 L492.7 615 L491.9 619.8 L491.2 624.7 L490.5 629.9 L489.9 635.2 L489.3 640.5 L488.8 645.7 L488.3 650.8 L487.9 655.9 L487.5 660.8 L487.1 665.7 L486.7 670.5 L486.3 675.3 L486 680.3 L485.6 685.3 L485.3 690.3 L485 695.3 L484.7 700.3 L484.4 705.2 L484.2 710.1 L483.9 714.9 L483.7 719.8 L483.4 724.7 L483.1 729.9 L482.8 735.6 L482.6 741.4 L482.3 747.3 L482 753.1 L481.8 758.6 L481.5 763.7 L481.3 768.3 L481.1 772.1 L481 775.1Z" fill="#fff" opacity="0.5" filter="url(#b25)"/>
<path d="M690 424 C740 422 780 428 801 433 C830 437 870 443 892 453 C915 465 930 482 937 497 C946 520 949 545 943 562 C938 577 928 588 924 605 C921 625 923 645 928 662" stroke="#fff" stroke-width="84" fill="none" opacity="0.45" filter="url(#b25)"/>
<path d="M480 760 C478 690 482 630 500 575 C515 535 540 500 570 470" stroke="#fff" stroke-width="70" fill="none" opacity="0.5" filter="url(#b12)"/>
<ellipse cx="697" cy="700" rx="120" ry="55" fill="#fff" opacity="0.3" filter="url(#b25)"/>
<ellipse cx="692" cy="380" rx="70" ry="54" fill="#fff" opacity="0.5" filter="url(#b12)"/>
<ellipse cx="685" cy="372" rx="18" ry="32" fill="#fff" opacity="0.5" filter="url(#b6)"/>
<ellipse cx="725" cy="468" rx="95" ry="34" fill="#fff" opacity="0.5" filter="url(#b12)"/>
<ellipse cx="655" cy="402" rx="75" ry="28" fill="#fff" opacity="0.4" filter="url(#b12)"/>
<ellipse cx="745" cy="400" rx="45" ry="20" fill="#fff" opacity="0.25" filter="url(#b12)"/>
<path d="M600 760 C598 700 600 650 612 600 C625 560 650 525 690 495" stroke="#fff" stroke-width="56" fill="none" opacity="0.4" filter="url(#b12)"/>
<ellipse cx="735" cy="600" rx="185" ry="125" fill="#fff" opacity="0.22" filter="url(#b25)"/>
<ellipse cx="838" cy="526" rx="72" ry="52" fill="rgb(148,148,148)" opacity="0.8" filter="url(#b25)"/>
<ellipse cx="705" cy="585" rx="70" ry="42" fill="rgb(173,173,173)" opacity="0.5" filter="url(#b25)"/>
<path d="M581 775 L580.9 772 L580.7 768.1 L580.5 763.5 L580.3 758.4 L580.1 753 L579.8 747.2 L579.6 741.4 L579.4 735.7 L579.1 730.3 L579 725.2 L578.8 720.3 L578.6 715.4 L578.4 710.6 L578.3 705.9 L578.1 701.1 L578 696.5 L577.8 691.8 L577.7 687.2 L577.6 682.6 L577.6 678 L577.5 673.3 L577.5 668.6 L577.4 663.9 L577.4 659.3 L577.4 654.8 L577.4 650.3 L577.5 645.9 L577.6 641.6 L577.7 637.4 L577.9 633.1 L578.2 628.6 L578.5 624.1 L578.8 619.7 L579.1 615.3 L579.4 611.1 L579.8 607.1 L580.3 603.2 L580.8 599.5 L581.4 596.1 L582 592.8 L582.8 589.5 L583.6 586.2 L584.5 583.1 L585.4 580 L586.5 577 L587.6 574 L588.8 571 L590.1 568 L591.4 565.1 L592.8 562.2 L594.2 559.5 L595.8 556.8 L597.5 553.9 L599.5 551 L601.5 548 L603.7 544.9 L606 541.8 L608.3 538.7 L610.6 535.6 L612.9 532.6 L614.9 529.9 L616.9 527.3 L618.8 524.9 L620.7 522.5 L622.5 520.2 L624.4 517.9 L626.4 515.7 L628.3 513.4 L630.3 511.1 L632.4 508.8 L634.4 506.5 L636.5 504.3 L638.5 502 L640.5 499.9 L642.6 497.7 L644.6 495.6 L646.7 493.5 L648.8 491.4 L650.9 489.3 L653 487.3 L655.2 485.2 L657.4 483.2 L659.6 481.1 L661.8 479.1 L664.1 477.1 L666.4 475.2 L668.6 473.2 L670.9 471.3 L673.2 469.4 L675.5 467.6 L677.8 465.8 L680.2 463.9 L682.7 462 L685.2 460.2 L687.8 458.4 L690.2 456.6 L692.6 455 L694.8 453.4 L696.9 452.1 L698.7 450.9 L700.1 450 L701.5 449.2 L702.8 448.5 L704.2 447.8 L705.5 447.2 L706.8 446.6 L708.1 446.1 L709.4 445.5 L710.8 445 L712 444.4 L696 405.6 L695.4 405.8 L694.6 406 L693.3 406.5 L691.7 407 L689.8 407.7 L687.6 408.5 L685.3 409.4 L682.7 410.5 L680 411.7 L677.3 413.1 L674.7 414.5 L672 416 L669.2 417.6 L666.3 419.3 L663.4 421 L660.4 422.8 L657.4 424.7 L654.4 426.6 L651.4 428.5 L648.5 430.4 L645.7 432.3 L642.9 434.2 L640.1 436.2 L637.3 438.2 L634.5 440.2 L631.8 442.3 L629.1 444.4 L626.3 446.5 L623.7 448.6 L621 450.7 L618.4 452.9 L615.7 455.1 L613.2 457.3 L610.6 459.5 L608.1 461.7 L605.5 464 L603 466.2 L600.5 468.5 L598.1 470.9 L595.6 473.2 L593.2 475.5 L590.8 477.9 L588.4 480.2 L586 482.6 L583.6 485.1 L581.1 487.6 L578.7 490.2 L576.2 492.9 L573.6 495.7 L571.1 498.6 L568.6 501.4 L566.1 504.3 L563.3 507.4 L560.5 510.6 L557.6 514.1 L554.7 517.7 L551.7 521.5 L548.8 525.4 L545.9 529.6 L543.2 533.8 L540.7 537.9 L538.5 541.9 L536.3 546 L534.2 550.2 L532.2 554.5 L530.3 558.8 L528.5 563.3 L526.7 567.8 L525.1 572.4 L523.6 577.2 L522.2 582.3 L520.9 587.4 L519.7 592.5 L518.7 597.6 L517.8 602.6 L516.9 607.6 L516.1 612.5 L515.4 617.4 L514.7 622.1 L514.1 626.9 L513.4 631.9 L512.8 636.9 L512.3 641.9 L511.8 646.9 L511.4 651.9 L511 656.8 L510.6 661.6 L510.3 666.4 L510 671.2 L509.6 676 L509.3 680.9 L509 685.8 L508.7 690.7 L508.4 695.6 L508.2 700.5 L507.9 705.3 L507.7 710.2 L507.5 715.1 L507.3 719.9 L507 724.8 L506.8 730 L506.6 735.6 L506.3 741.4 L506.1 747.3 L505.9 753 L505.6 758.6 L505.4 763.7 L505.3 768.2 L505.1 772.1 L505 775Z" fill="#fff" opacity="0.45" filter="url(#b12)"/>
<path d="M576 775 L575.9 772 L575.7 768.1 L575.5 763.5 L575.3 758.4 L575.1 753 L574.8 747.2 L574.6 741.4 L574.4 735.7 L574.1 730.3 L574 725.2 L573.8 720.3 L573.6 715.4 L573.4 710.6 L573.3 705.8 L573.1 701.1 L573 696.4 L572.8 691.7 L572.7 687.1 L572.6 682.5 L572.6 677.9 L572.5 673.1 L572.5 668.4 L572.5 663.7 L572.4 659.1 L572.4 654.6 L572.4 650.1 L572.5 645.6 L572.6 641.2 L572.7 636.9 L573 632.6 L573.2 628.1 L573.5 623.6 L573.8 619.1 L574.1 614.7 L574.5 610.5 L574.9 606.3 L575.4 602.3 L575.9 598.5 L576.5 594.9 L577.2 591.5 L578 588.1 L578.8 584.7 L579.8 581.4 L580.8 578.2 L581.9 575 L583 571.9 L584.3 568.8 L585.6 565.8 L587 562.7 L588.5 559.7 L590 556.9 L591.6 554 L593.5 551 L595.5 548 L597.6 544.9 L599.8 541.8 L602.1 538.7 L604.4 535.6 L606.8 532.5 L609 529.5 L611.1 526.7 L613 524.1 L615 521.6 L616.9 519.2 L618.8 516.9 L620.8 514.6 L622.7 512.3 L624.7 510 L626.7 507.6 L628.8 505.3 L630.9 503 L632.9 500.7 L635 498.5 L637 496.3 L639.1 494.1 L641.2 491.9 L643.3 489.8 L645.4 487.7 L647.5 485.6 L649.7 483.5 L651.9 481.4 L654.1 479.4 L656.4 477.3 L658.7 475.3 L661 473.2 L663.3 471.2 L665.6 469.3 L667.9 467.3 L670.2 465.4 L672.6 463.6 L674.9 461.7 L677.4 459.8 L679.9 457.9 L682.5 456 L685 454.2 L687.5 452.4 L689.9 450.7 L692.2 449.2 L694.4 447.7 L696.2 446.5 L697.8 445.6 L699.3 444.7 L700.8 443.9 L702.2 443.2 L703.6 442.6 L705 442 L706.3 441.4 L707.6 440.9 L709 440.3 L710.1 439.8 L697.9 410.2 L697.2 410.4 L696.3 410.7 L695.1 411.1 L693.5 411.7 L691.6 412.3 L689.6 413.1 L687.3 414 L684.9 415 L682.3 416.2 L679.8 417.5 L677.2 418.8 L674.6 420.3 L671.9 421.8 L669 423.5 L666.1 425.2 L663.1 427 L660.2 428.8 L657.2 430.7 L654.3 432.6 L651.4 434.4 L648.7 436.3 L645.9 438.2 L643.1 440.2 L640.4 442.1 L637.7 444.1 L634.9 446.2 L632.2 448.2 L629.6 450.3 L626.9 452.4 L624.3 454.5 L621.7 456.6 L619.1 458.8 L616.6 460.9 L614 463.1 L611.5 465.3 L609 467.5 L606.6 469.8 L604.1 472.1 L601.6 474.4 L599.2 476.7 L596.8 479 L594.4 481.3 L592.1 483.6 L589.7 486 L587.3 488.4 L584.9 490.9 L582.5 493.5 L580 496.2 L577.5 498.9 L575 501.7 L572.5 504.6 L569.9 507.5 L567.2 510.5 L564.4 513.7 L561.6 517.1 L558.7 520.7 L555.8 524.4 L552.9 528.2 L550.1 532.2 L547.5 536.3 L545.2 540.3 L542.9 544.2 L540.8 548.2 L538.7 552.2 L536.8 556.4 L534.9 560.6 L533.2 564.9 L531.5 569.3 L529.9 573.9 L528.4 578.5 L527 583.4 L525.8 588.4 L524.6 593.4 L523.6 598.3 L522.7 603.3 L521.9 608.2 L521.1 613.1 L520.4 617.9 L519.7 622.7 L519 627.4 L518.4 632.3 L517.8 637.3 L517.3 642.2 L516.8 647.2 L516.4 652.1 L516 656.9 L515.6 661.8 L515.3 666.6 L515 671.4 L514.6 676.1 L514.3 681 L514 685.9 L513.7 690.8 L513.4 695.7 L513.2 700.5 L512.9 705.4 L512.7 710.2 L512.5 715.1 L512.3 719.9 L512 724.8 L511.8 730 L511.6 735.6 L511.3 741.4 L511.1 747.3 L510.9 753 L510.6 758.6 L510.4 763.7 L510.3 768.2 L510.1 772.1 L510 775Z" fill="#fff" filter="url(#b6)"/>
<path d="M690 424 C740 422 780 428 801 433 C830 437 870 443 892 453 C915 465 930 482 937 497 C946 520 949 545 943 562 C938 577 928 588 924 605 C921 625 923 645 928 662" stroke="#fff" stroke-width="24" fill="none" opacity="0.92" filter="url(#b6)"/>
<path d="M846 438 C880 445 915 463 931 486 C947 515 951 545 944 562 C939 577 929 588 925 605" stroke="#fff" stroke-width="19" fill="none" filter="url(#b6)"/>
<path d="M938 560 C930 580 922 600 923 640" stroke="#fff" stroke-width="24" fill="none" opacity="0.9" filter="url(#b12)"/>
<circle cx="806" cy="432" r="9" fill="#fff" filter="url(#b6)"/>
<ellipse cx="693" cy="427" rx="20" ry="15" fill="#fff" filter="url(#b6)"/>
<ellipse cx="926" cy="598" rx="13" ry="40" fill="#fff" filter="url(#b6)"/>
<path d="M884 452 C905 470 922 495 928 520 C930 540 926 556 912 566" stroke="#fff" stroke-width="9" fill="none" opacity="0.8" filter="url(#b6)"/>
<path d="M849.5 99 L890.6 157 L919.7 220 L943.8 268 L972.9 341 L1001.9 428 L1021 505 L1031 578 L1038 626 L1042 675 L1049 730" stroke="#000" stroke-width="36" fill="none" opacity="0.3" filter="url(#b12)"/>
<path d="M870 60 L905 150 L935 215 L960 268 L990 341 L1018 428 L1038 505 L1050 578 L1056 626 L1060 675 L1066 730" stroke="#000" stroke-width="34" fill="none" opacity="0.4" filter="url(#b12)"/>
<path d="M60 712 L430 732 L560 735" stroke="#000" stroke-width="36" fill="none" opacity="0.3" filter="url(#b6)"/>
</g></g></g>
<g clip-path="url(#cnD)"><g filter="url(#nD)"><g>
<rect x="60" y="60" width="1020" height="700" fill="rgb(168,168,168)"/>
<g filter="url(#b60)">
<ellipse cx="730" cy="570" rx="380" ry="320" fill="#fff" opacity="0.22"/>
<rect x="40" y="585" width="900" height="220" fill="#fff" opacity="0.16"/>
</g>
<ellipse cx="270" cy="440" rx="200" ry="105" fill="#000" opacity="0.13" filter="url(#b25)"/>
<ellipse cx="905" cy="230" rx="105" ry="190" fill="#000" opacity="0.2" filter="url(#b25)"/>
<path d="M70 535 L200 558 L340 602" stroke="#fff" stroke-width="36" fill="none" opacity="0.2" filter="url(#b12)"/>
<path d="M628 774.9 L627.8 771.9 L627.6 768 L627.3 763.4 L627 758.4 L626.6 752.9 L626.3 747.2 L625.9 741.5 L625.6 735.8 L625.3 730.4 L625 725.4 L624.7 720.6 L624.5 715.7 L624.2 710.9 L623.9 706.2 L623.7 701.6 L623.5 697 L623.2 692.6 L623 688.1 L622.8 683.8 L622.7 679.4 L622.5 674.7 L622.4 670 L622.3 665.4 L622.1 661 L622 656.8 L621.9 652.6 L621.9 648.6 L621.9 644.8 L621.9 641.1 L621.9 637.3 L622.1 633.1 L622.3 628.8 L622.4 624.6 L622.6 620.8 L622.8 617.1 L623 613.8 L623.2 610.8 L623.4 608.1 L623.7 605.9 L623.9 603.9 L624.2 601.7 L624.7 599.5 L625.1 597.4 L625.6 595.4 L626.2 593.4 L626.8 591.4 L627.4 589.4 L628.2 587.3 L629 585.2 L629.8 583.3 L630.4 581.8 L631.1 580.3 L632.1 578.4 L633.4 576.2 L634.9 573.7 L636.7 571.1 L638.7 568.2 L640.8 565.2 L643.1 562.1 L645.3 559 L647.1 556.5 L648.7 554.3 L650.2 552.1 L651.8 550.1 L653.3 548 L654.9 546 L656.6 543.9 L658.3 541.8 L660.1 539.6 L662 537.4 L663.8 535.3 L665.6 533.2 L667.3 531.2 L669.1 529.2 L670.8 527.2 L672.6 525.3 L674.3 523.4 L676.1 521.5 L677.9 519.6 L679.7 517.8 L681.6 515.9 L683.5 514.1 L685.4 512.2 L687.3 510.4 L689.2 508.5 L691.2 506.7 L693.1 505 L695.1 503.3 L697 501.6 L698.9 499.9 L700.9 498.3 L702.9 496.6 L705.1 494.9 L707.2 493.2 L709.4 491.5 L711.5 489.9 L713.6 488.4 L715.4 487.1 L717 485.9 L718 485.1 L718.4 484.8 L718.6 484.5 L718.9 484.3 L719.3 483.9 L719.9 483.6 L720.7 483.2 L721.7 482.7 L723.1 482.1 L725.1 481.3 L726.7 480.5 L681.3 369.5 L681.1 369.5 L680.9 369.5 L679.7 369.8 L677.8 370.5 L675.3 371.3 L672.4 372.3 L669.2 373.6 L665.6 375.2 L661.7 376.9 L658 378.9 L654.6 380.6 L651.5 382.3 L648.3 384.1 L645 385.9 L641.7 387.8 L638.4 389.8 L635 391.8 L631.7 393.9 L628.3 396 L625.1 398.1 L621.9 400.2 L618.7 402.3 L615.6 404.4 L612.5 406.6 L609.4 408.8 L606.3 411.1 L603.3 413.3 L600.3 415.6 L597.3 417.9 L594.3 420.2 L591.3 422.6 L588.4 425 L585.5 427.4 L582.6 429.8 L579.8 432.2 L577 434.7 L574.2 437.1 L571.4 439.6 L568.7 442.1 L566 444.6 L563.4 447 L560.8 449.5 L558.2 452 L555.5 454.6 L552.8 457.3 L550 460.1 L547.2 463 L544.4 466 L541.5 469.2 L538.7 472.2 L536.2 475 L533.6 477.8 L530.7 481 L527.5 484.5 L524.2 488.3 L520.7 492.5 L517.2 497 L513.5 501.9 L509.8 507.2 L506.2 512.7 L503.2 517.8 L500.3 522.6 L497.6 527.7 L495 532.8 L492.5 538 L490.1 543.4 L487.8 548.9 L485.7 554.5 L483.6 560.2 L481.7 566.1 L479.9 572.4 L478.2 578.8 L476.8 584.9 L475.5 590.9 L474.4 596.6 L473.4 602.2 L472.5 607.6 L471.6 612.7 L470.8 617.7 L470.1 622.7 L469.3 628.1 L468.6 633.7 L467.9 639.2 L467.3 644.6 L466.8 649.9 L466.3 655 L465.8 660.1 L465.4 665 L465 669.8 L464.5 674.6 L464.1 679.7 L463.7 684.9 L463.3 690 L462.9 695 L462.6 700 L462.3 705 L462 709.9 L461.6 714.8 L461.3 719.7 L461 724.6 L460.7 729.8 L460.3 735.5 L460 741.4 L459.6 747.3 L459.3 753.1 L459 758.7 L458.7 763.8 L458.4 768.3 L458.2 772.1 L458 775.1Z" fill="#fff" opacity="0.30" filter="url(#b40)"/>
<path d="M605 774.9 L604.9 771.9 L604.7 768 L604.4 763.5 L604.2 758.4 L603.9 752.9 L603.6 747.2 L603.3 741.5 L603.1 735.8 L602.8 730.4 L602.6 725.3 L602.4 720.4 L602.2 715.6 L602 710.8 L601.8 706 L601.6 701.4 L601.4 696.8 L601.2 692.2 L601.1 687.7 L601 683.2 L600.9 678.7 L600.8 674 L600.7 669.3 L600.6 664.7 L600.6 660.2 L600.5 655.8 L600.5 651.5 L600.5 647.3 L600.5 643.3 L600.6 639.3 L600.8 635.3 L601 630.9 L601.2 626.5 L601.5 622.3 L601.7 618.2 L602 614.3 L602.3 610.6 L602.7 607.2 L603 604 L603.4 601.2 L603.9 598.6 L604.4 595.9 L605.1 593.2 L605.7 590.6 L606.5 588 L607.2 585.6 L608.1 583.1 L609 580.6 L610 578.1 L611.1 575.6 L612.2 573.3 L613.2 571.2 L614.3 569.1 L615.7 566.8 L617.3 564.2 L619.1 561.5 L621.1 558.7 L623.2 555.7 L625.4 552.7 L627.8 549.6 L630 546.5 L631.9 543.9 L633.6 541.6 L635.4 539.3 L637.1 537.1 L638.8 534.9 L640.6 532.8 L642.4 530.6 L644.2 528.4 L646.1 526.2 L648.1 524 L650 521.7 L651.9 519.6 L653.8 517.5 L655.7 515.4 L657.6 513.4 L659.5 511.4 L661.4 509.4 L663.3 507.4 L665.2 505.5 L667.2 503.5 L669.2 501.6 L671.3 499.6 L673.3 497.7 L675.4 495.8 L677.5 493.9 L679.6 492 L681.7 490.2 L683.8 488.4 L685.9 486.6 L688 484.9 L690.1 483.2 L692.4 481.4 L694.7 479.6 L697 477.9 L699.4 476.1 L701.7 474.5 L703.8 472.9 L705.9 471.5 L707.7 470.2 L709.1 469.3 L709.9 468.7 L710.7 468.2 L711.5 467.7 L712.3 467.2 L713.2 466.8 L714.3 466.3 L715.4 465.8 L716.7 465.2 L718.5 464.5 L719.9 463.9 L688.1 386.1 L687.7 386.2 L687.2 386.4 L686 386.7 L684.2 387.3 L682 388.1 L679.5 389 L676.6 390.2 L673.5 391.5 L670.2 393 L666.9 394.7 L663.9 396.3 L661 397.9 L658 399.6 L654.9 401.4 L651.8 403.2 L648.6 405.1 L645.4 407.1 L642.2 409.1 L639.1 411.1 L636 413.1 L633 415.1 L630 417.2 L627 419.3 L624.1 421.4 L621.1 423.5 L618.2 425.6 L615.3 427.8 L612.4 430 L609.6 432.2 L606.8 434.5 L604 436.8 L601.2 439.1 L598.5 441.4 L595.7 443.7 L593 446 L590.4 448.4 L587.7 450.8 L585.1 453.2 L582.5 455.6 L579.9 458 L577.4 460.4 L574.9 462.8 L572.4 465.3 L569.9 467.8 L567.3 470.4 L564.7 473.1 L562.1 475.8 L559.4 478.7 L556.6 481.7 L554 484.7 L551.5 487.5 L548.9 490.3 L546.1 493.5 L543.2 496.9 L540 500.5 L536.8 504.4 L533.5 508.6 L530.2 513.1 L526.9 517.8 L523.8 522.7 L521 527.3 L518.5 531.8 L516 536.4 L513.7 541.1 L511.4 545.9 L509.2 550.8 L507.2 555.7 L505.3 560.8 L503.5 566 L501.7 571.4 L500.1 577.1 L498.6 582.9 L497.3 588.5 L496.2 594.1 L495.2 599.5 L494.3 604.8 L493.4 609.9 L492.7 615 L491.9 619.8 L491.2 624.7 L490.5 629.9 L489.9 635.2 L489.3 640.5 L488.8 645.7 L488.3 650.8 L487.9 655.9 L487.5 660.8 L487.1 665.7 L486.7 670.5 L486.3 675.3 L486 680.3 L485.6 685.3 L485.3 690.3 L485 695.3 L484.7 700.3 L484.4 705.2 L484.2 710.1 L483.9 714.9 L483.7 719.8 L483.4 724.7 L483.1 729.9 L482.8 735.6 L482.6 741.4 L482.3 747.3 L482 753.1 L481.8 758.6 L481.5 763.7 L481.3 768.3 L481.1 772.1 L481 775.1Z" fill="#fff" opacity="0.5" filter="url(#b25)"/>
<path d="M690 424 C740 422 780 428 801 433 C830 437 870 443 892 453 C915 465 930 482 937 497 C946 520 949 545 943 562 C938 577 928 588 924 605 C921 625 923 645 928 662" stroke="#fff" stroke-width="84" fill="none" opacity="0.45" filter="url(#b25)"/>
<path d="M480 760 C478 690 482 630 500 575 C515 535 540 500 570 470" stroke="#fff" stroke-width="70" fill="none" opacity="0.5" filter="url(#b12)"/>
<ellipse cx="697" cy="700" rx="120" ry="55" fill="#fff" opacity="0.3" filter="url(#b25)"/>
<ellipse cx="692" cy="380" rx="70" ry="54" fill="#fff" opacity="0.5" filter="url(#b12)"/>
<ellipse cx="685" cy="372" rx="18" ry="32" fill="#fff" opacity="0.5" filter="url(#b6)"/>
<ellipse cx="725" cy="468" rx="95" ry="34" fill="#fff" opacity="0.5" filter="url(#b12)"/>
<ellipse cx="655" cy="402" rx="75" ry="28" fill="#fff" opacity="0.4" filter="url(#b12)"/>
<ellipse cx="745" cy="400" rx="45" ry="20" fill="#fff" opacity="0.25" filter="url(#b12)"/>
<path d="M600 760 C598 700 600 650 612 600 C625 560 650 525 690 495" stroke="#fff" stroke-width="56" fill="none" opacity="0.4" filter="url(#b12)"/>
<ellipse cx="735" cy="600" rx="185" ry="125" fill="#fff" opacity="0.22" filter="url(#b25)"/>
<ellipse cx="838" cy="526" rx="72" ry="52" fill="rgb(148,148,148)" opacity="0.8" filter="url(#b25)"/>
<ellipse cx="705" cy="585" rx="70" ry="42" fill="rgb(173,173,173)" opacity="0.5" filter="url(#b25)"/>
<path d="M581 775 L580.9 772 L580.7 768.1 L580.5 763.5 L580.3 758.4 L580.1 753 L579.8 747.2 L579.6 741.4 L579.4 735.7 L579.1 730.3 L579 725.2 L578.8 720.3 L578.6 715.4 L578.4 710.6 L578.3 705.9 L578.1 701.1 L578 696.5 L577.8 691.8 L577.7 687.2 L577.6 682.6 L577.6 678 L577.5 673.3 L577.5 668.6 L577.4 663.9 L577.4 659.3 L577.4 654.8 L577.4 650.3 L577.5 645.9 L577.6 641.6 L577.7 637.4 L577.9 633.1 L578.2 628.6 L578.5 624.1 L578.8 619.7 L579.1 615.3 L579.4 611.1 L579.8 607.1 L580.3 603.2 L580.8 599.5 L581.4 596.1 L582 592.8 L582.8 589.5 L583.6 586.2 L584.5 583.1 L585.4 580 L586.5 577 L587.6 574 L588.8 571 L590.1 568 L591.4 565.1 L592.8 562.2 L594.2 559.5 L595.8 556.8 L597.5 553.9 L599.5 551 L601.5 548 L603.7 544.9 L606 541.8 L608.3 538.7 L610.6 535.6 L612.9 532.6 L614.9 529.9 L616.9 527.3 L618.8 524.9 L620.7 522.5 L622.5 520.2 L624.4 517.9 L626.4 515.7 L628.3 513.4 L630.3 511.1 L632.4 508.8 L634.4 506.5 L636.5 504.3 L638.5 502 L640.5 499.9 L642.6 497.7 L644.6 495.6 L646.7 493.5 L648.8 491.4 L650.9 489.3 L653 487.3 L655.2 485.2 L657.4 483.2 L659.6 481.1 L661.8 479.1 L664.1 477.1 L666.4 475.2 L668.6 473.2 L670.9 471.3 L673.2 469.4 L675.5 467.6 L677.8 465.8 L680.2 463.9 L682.7 462 L685.2 460.2 L687.8 458.4 L690.2 456.6 L692.6 455 L694.8 453.4 L696.9 452.1 L698.7 450.9 L700.1 450 L701.5 449.2 L702.8 448.5 L704.2 447.8 L705.5 447.2 L706.8 446.6 L708.1 446.1 L709.4 445.5 L710.8 445 L712 444.4 L696 405.6 L695.4 405.8 L694.6 406 L693.3 406.5 L691.7 407 L689.8 407.7 L687.6 408.5 L685.3 409.4 L682.7 410.5 L680 411.7 L677.3 413.1 L674.7 414.5 L672 416 L669.2 417.6 L666.3 419.3 L663.4 421 L660.4 422.8 L657.4 424.7 L654.4 426.6 L651.4 428.5 L648.5 430.4 L645.7 432.3 L642.9 434.2 L640.1 436.2 L637.3 438.2 L634.5 440.2 L631.8 442.3 L629.1 444.4 L626.3 446.5 L623.7 448.6 L621 450.7 L618.4 452.9 L615.7 455.1 L613.2 457.3 L610.6 459.5 L608.1 461.7 L605.5 464 L603 466.2 L600.5 468.5 L598.1 470.9 L595.6 473.2 L593.2 475.5 L590.8 477.9 L588.4 480.2 L586 482.6 L583.6 485.1 L581.1 487.6 L578.7 490.2 L576.2 492.9 L573.6 495.7 L571.1 498.6 L568.6 501.4 L566.1 504.3 L563.3 507.4 L560.5 510.6 L557.6 514.1 L554.7 517.7 L551.7 521.5 L548.8 525.4 L545.9 529.6 L543.2 533.8 L540.7 537.9 L538.5 541.9 L536.3 546 L534.2 550.2 L532.2 554.5 L530.3 558.8 L528.5 563.3 L526.7 567.8 L525.1 572.4 L523.6 577.2 L522.2 582.3 L520.9 587.4 L519.7 592.5 L518.7 597.6 L517.8 602.6 L516.9 607.6 L516.1 612.5 L515.4 617.4 L514.7 622.1 L514.1 626.9 L513.4 631.9 L512.8 636.9 L512.3 641.9 L511.8 646.9 L511.4 651.9 L511 656.8 L510.6 661.6 L510.3 666.4 L510 671.2 L509.6 676 L509.3 680.9 L509 685.8 L508.7 690.7 L508.4 695.6 L508.2 700.5 L507.9 705.3 L507.7 710.2 L507.5 715.1 L507.3 719.9 L507 724.8 L506.8 730 L506.6 735.6 L506.3 741.4 L506.1 747.3 L505.9 753 L505.6 758.6 L505.4 763.7 L505.3 768.2 L505.1 772.1 L505 775Z" fill="#fff" opacity="0.45" filter="url(#b12)"/>
<path d="M576 775 L575.9 772 L575.7 768.1 L575.5 763.5 L575.3 758.4 L575.1 753 L574.8 747.2 L574.6 741.4 L574.4 735.7 L574.1 730.3 L574 725.2 L573.8 720.3 L573.6 715.4 L573.4 710.6 L573.3 705.8 L573.1 701.1 L573 696.4 L572.8 691.7 L572.7 687.1 L572.6 682.5 L572.6 677.9 L572.5 673.1 L572.5 668.4 L572.5 663.7 L572.4 659.1 L572.4 654.6 L572.4 650.1 L572.5 645.6 L572.6 641.2 L572.7 636.9 L573 632.6 L573.2 628.1 L573.5 623.6 L573.8 619.1 L574.1 614.7 L574.5 610.5 L574.9 606.3 L575.4 602.3 L575.9 598.5 L576.5 594.9 L577.2 591.5 L578 588.1 L578.8 584.7 L579.8 581.4 L580.8 578.2 L581.9 575 L583 571.9 L584.3 568.8 L585.6 565.8 L587 562.7 L588.5 559.7 L590 556.9 L591.6 554 L593.5 551 L595.5 548 L597.6 544.9 L599.8 541.8 L602.1 538.7 L604.4 535.6 L606.8 532.5 L609 529.5 L611.1 526.7 L613 524.1 L615 521.6 L616.9 519.2 L618.8 516.9 L620.8 514.6 L622.7 512.3 L624.7 510 L626.7 507.6 L628.8 505.3 L630.9 503 L632.9 500.7 L635 498.5 L637 496.3 L639.1 494.1 L641.2 491.9 L643.3 489.8 L645.4 487.7 L647.5 485.6 L649.7 483.5 L651.9 481.4 L654.1 479.4 L656.4 477.3 L658.7 475.3 L661 473.2 L663.3 471.2 L665.6 469.3 L667.9 467.3 L670.2 465.4 L672.6 463.6 L674.9 461.7 L677.4 459.8 L679.9 457.9 L682.5 456 L685 454.2 L687.5 452.4 L689.9 450.7 L692.2 449.2 L694.4 447.7 L696.2 446.5 L697.8 445.6 L699.3 444.7 L700.8 443.9 L702.2 443.2 L703.6 442.6 L705 442 L706.3 441.4 L707.6 440.9 L709 440.3 L710.1 439.8 L697.9 410.2 L697.2 410.4 L696.3 410.7 L695.1 411.1 L693.5 411.7 L691.6 412.3 L689.6 413.1 L687.3 414 L684.9 415 L682.3 416.2 L679.8 417.5 L677.2 418.8 L674.6 420.3 L671.9 421.8 L669 423.5 L666.1 425.2 L663.1 427 L660.2 428.8 L657.2 430.7 L654.3 432.6 L651.4 434.4 L648.7 436.3 L645.9 438.2 L643.1 440.2 L640.4 442.1 L637.7 444.1 L634.9 446.2 L632.2 448.2 L629.6 450.3 L626.9 452.4 L624.3 454.5 L621.7 456.6 L619.1 458.8 L616.6 460.9 L614 463.1 L611.5 465.3 L609 467.5 L606.6 469.8 L604.1 472.1 L601.6 474.4 L599.2 476.7 L596.8 479 L594.4 481.3 L592.1 483.6 L589.7 486 L587.3 488.4 L584.9 490.9 L582.5 493.5 L580 496.2 L577.5 498.9 L575 501.7 L572.5 504.6 L569.9 507.5 L567.2 510.5 L564.4 513.7 L561.6 517.1 L558.7 520.7 L555.8 524.4 L552.9 528.2 L550.1 532.2 L547.5 536.3 L545.2 540.3 L542.9 544.2 L540.8 548.2 L538.7 552.2 L536.8 556.4 L534.9 560.6 L533.2 564.9 L531.5 569.3 L529.9 573.9 L528.4 578.5 L527 583.4 L525.8 588.4 L524.6 593.4 L523.6 598.3 L522.7 603.3 L521.9 608.2 L521.1 613.1 L520.4 617.9 L519.7 622.7 L519 627.4 L518.4 632.3 L517.8 637.3 L517.3 642.2 L516.8 647.2 L516.4 652.1 L516 656.9 L515.6 661.8 L515.3 666.6 L515 671.4 L514.6 676.1 L514.3 681 L514 685.9 L513.7 690.8 L513.4 695.7 L513.2 700.5 L512.9 705.4 L512.7 710.2 L512.5 715.1 L512.3 719.9 L512 724.8 L511.8 730 L511.6 735.6 L511.3 741.4 L511.1 747.3 L510.9 753 L510.6 758.6 L510.4 763.7 L510.3 768.2 L510.1 772.1 L510 775Z" fill="#fff" filter="url(#b6)"/>
<path d="M690 424 C740 422 780 428 801 433 C830 437 870 443 892 453 C915 465 930 482 937 497 C946 520 949 545 943 562 C938 577 928 588 924 605 C921 625 923 645 928 662" stroke="#fff" stroke-width="24" fill="none" opacity="0.92" filter="url(#b6)"/>
<path d="M846 438 C880 445 915 463 931 486 C947 515 951 545 944 562 C939 577 929 588 925 605" stroke="#fff" stroke-width="19" fill="none" filter="url(#b6)"/>
<path d="M938 560 C930 580 922 600 923 640" stroke="#fff" stroke-width="24" fill="none" opacity="0.9" filter="url(#b12)"/>
<circle cx="806" cy="432" r="9" fill="#fff" filter="url(#b6)"/>
<ellipse cx="693" cy="427" rx="20" ry="15" fill="#fff" filter="url(#b6)"/>
<ellipse cx="926" cy="598" rx="13" ry="40" fill="#fff" filter="url(#b6)"/>
<path d="M884 452 C905 470 922 495 928 520 C930 540 926 556 912 566" stroke="#fff" stroke-width="9" fill="none" opacity="0.8" filter="url(#b6)"/>
<path d="M849.5 99 L890.6 157 L919.7 220 L943.8 268 L972.9 341 L1001.9 428 L1021 505 L1031 578 L1038 626 L1042 675 L1049 730" stroke="#000" stroke-width="36" fill="none" opacity="0.3" filter="url(#b12)"/>
<path d="M870 60 L905 150 L935 215 L960 268 L990 341 L1018 428 L1038 505 L1050 578 L1056 626 L1060 675 L1066 730" stroke="#000" stroke-width="34" fill="none" opacity="0.4" filter="url(#b12)"/>
<path d="M60 712 L430 732 L560 735" stroke="#000" stroke-width="36" fill="none" opacity="0.3" filter="url(#b6)"/>
</g></g></g>
<g clip-path="url(#cnE)"><g filter="url(#nE)"><g>
<rect x="60" y="60" width="1020" height="700" fill="rgb(168,168,168)"/>
<g filter="url(#b60)">
<ellipse cx="730" cy="570" rx="380" ry="320" fill="#fff" opacity="0.22"/>
<rect x="40" y="585" width="900" height="220" fill="#fff" opacity="0.16"/>
</g>
<ellipse cx="270" cy="440" rx="200" ry="105" fill="#000" opacity="0.13" filter="url(#b25)"/>
<ellipse cx="905" cy="230" rx="105" ry="190" fill="#000" opacity="0.2" filter="url(#b25)"/>
<path d="M70 535 L200 558 L340 602" stroke="#fff" stroke-width="36" fill="none" opacity="0.2" filter="url(#b12)"/>
<path d="M628 774.9 L627.8 771.9 L627.6 768 L627.3 763.4 L627 758.4 L626.6 752.9 L626.3 747.2 L625.9 741.5 L625.6 735.8 L625.3 730.4 L625 725.4 L624.7 720.6 L624.5 715.7 L624.2 710.9 L623.9 706.2 L623.7 701.6 L623.5 697 L623.2 692.6 L623 688.1 L622.8 683.8 L622.7 679.4 L622.5 674.7 L622.4 670 L622.3 665.4 L622.1 661 L622 656.8 L621.9 652.6 L621.9 648.6 L621.9 644.8 L621.9 641.1 L621.9 637.3 L622.1 633.1 L622.3 628.8 L622.4 624.6 L622.6 620.8 L622.8 617.1 L623 613.8 L623.2 610.8 L623.4 608.1 L623.7 605.9 L623.9 603.9 L624.2 601.7 L624.7 599.5 L625.1 597.4 L625.6 595.4 L626.2 593.4 L626.8 591.4 L627.4 589.4 L628.2 587.3 L629 585.2 L629.8 583.3 L630.4 581.8 L631.1 580.3 L632.1 578.4 L633.4 576.2 L634.9 573.7 L636.7 571.1 L638.7 568.2 L640.8 565.2 L643.1 562.1 L645.3 559 L647.1 556.5 L648.7 554.3 L650.2 552.1 L651.8 550.1 L653.3 548 L654.9 546 L656.6 543.9 L658.3 541.8 L660.1 539.6 L662 537.4 L663.8 535.3 L665.6 533.2 L667.3 531.2 L669.1 529.2 L670.8 527.2 L672.6 525.3 L674.3 523.4 L676.1 521.5 L677.9 519.6 L679.7 517.8 L681.6 515.9 L683.5 514.1 L685.4 512.2 L687.3 510.4 L689.2 508.5 L691.2 506.7 L693.1 505 L695.1 503.3 L697 501.6 L698.9 499.9 L700.9 498.3 L702.9 496.6 L705.1 494.9 L707.2 493.2 L709.4 491.5 L711.5 489.9 L713.6 488.4 L715.4 487.1 L717 485.9 L718 485.1 L718.4 484.8 L718.6 484.5 L718.9 484.3 L719.3 483.9 L719.9 483.6 L720.7 483.2 L721.7 482.7 L723.1 482.1 L725.1 481.3 L726.7 480.5 L681.3 369.5 L681.1 369.5 L680.9 369.5 L679.7 369.8 L677.8 370.5 L675.3 371.3 L672.4 372.3 L669.2 373.6 L665.6 375.2 L661.7 376.9 L658 378.9 L654.6 380.6 L651.5 382.3 L648.3 384.1 L645 385.9 L641.7 387.8 L638.4 389.8 L635 391.8 L631.7 393.9 L628.3 396 L625.1 398.1 L621.9 400.2 L618.7 402.3 L615.6 404.4 L612.5 406.6 L609.4 408.8 L606.3 411.1 L603.3 413.3 L600.3 415.6 L597.3 417.9 L594.3 420.2 L591.3 422.6 L588.4 425 L585.5 427.4 L582.6 429.8 L579.8 432.2 L577 434.7 L574.2 437.1 L571.4 439.6 L568.7 442.1 L566 444.6 L563.4 447 L560.8 449.5 L558.2 452 L555.5 454.6 L552.8 457.3 L550 460.1 L547.2 463 L544.4 466 L541.5 469.2 L538.7 472.2 L536.2 475 L533.6 477.8 L530.7 481 L527.5 484.5 L524.2 488.3 L520.7 492.5 L517.2 497 L513.5 501.9 L509.8 507.2 L506.2 512.7 L503.2 517.8 L500.3 522.6 L497.6 527.7 L495 532.8 L492.5 538 L490.1 543.4 L487.8 548.9 L485.7 554.5 L483.6 560.2 L481.7 566.1 L479.9 572.4 L478.2 578.8 L476.8 584.9 L475.5 590.9 L474.4 596.6 L473.4 602.2 L472.5 607.6 L471.6 612.7 L470.8 617.7 L470.1 622.7 L469.3 628.1 L468.6 633.7 L467.9 639.2 L467.3 644.6 L466.8 649.9 L466.3 655 L465.8 660.1 L465.4 665 L465 669.8 L464.5 674.6 L464.1 679.7 L463.7 684.9 L463.3 690 L462.9 695 L462.6 700 L462.3 705 L462 709.9 L461.6 714.8 L461.3 719.7 L461 724.6 L460.7 729.8 L460.3 735.5 L460 741.4 L459.6 747.3 L459.3 753.1 L459 758.7 L458.7 763.8 L458.4 768.3 L458.2 772.1 L458 775.1Z" fill="#fff" opacity="0.30" filter="url(#b40)"/>
<path d="M605 774.9 L604.9 771.9 L604.7 768 L604.4 763.5 L604.2 758.4 L603.9 752.9 L603.6 747.2 L603.3 741.5 L603.1 735.8 L602.8 730.4 L602.6 725.3 L602.4 720.4 L602.2 715.6 L602 710.8 L601.8 706 L601.6 701.4 L601.4 696.8 L601.2 692.2 L601.1 687.7 L601 683.2 L600.9 678.7 L600.8 674 L600.7 669.3 L600.6 664.7 L600.6 660.2 L600.5 655.8 L600.5 651.5 L600.5 647.3 L600.5 643.3 L600.6 639.3 L600.8 635.3 L601 630.9 L601.2 626.5 L601.5 622.3 L601.7 618.2 L602 614.3 L602.3 610.6 L602.7 607.2 L603 604 L603.4 601.2 L603.9 598.6 L604.4 595.9 L605.1 593.2 L605.7 590.6 L606.5 588 L607.2 585.6 L608.1 583.1 L609 580.6 L610 578.1 L611.1 575.6 L612.2 573.3 L613.2 571.2 L614.3 569.1 L615.7 566.8 L617.3 564.2 L619.1 561.5 L621.1 558.7 L623.2 555.7 L625.4 552.7 L627.8 549.6 L630 546.5 L631.9 543.9 L633.6 541.6 L635.4 539.3 L637.1 537.1 L638.8 534.9 L640.6 532.8 L642.4 530.6 L644.2 528.4 L646.1 526.2 L648.1 524 L650 521.7 L651.9 519.6 L653.8 517.5 L655.7 515.4 L657.6 513.4 L659.5 511.4 L661.4 509.4 L663.3 507.4 L665.2 505.5 L667.2 503.5 L669.2 501.6 L671.3 499.6 L673.3 497.7 L675.4 495.8 L677.5 493.9 L679.6 492 L681.7 490.2 L683.8 488.4 L685.9 486.6 L688 484.9 L690.1 483.2 L692.4 481.4 L694.7 479.6 L697 477.9 L699.4 476.1 L701.7 474.5 L703.8 472.9 L705.9 471.5 L707.7 470.2 L709.1 469.3 L709.9 468.7 L710.7 468.2 L711.5 467.7 L712.3 467.2 L713.2 466.8 L714.3 466.3 L715.4 465.8 L716.7 465.2 L718.5 464.5 L719.9 463.9 L688.1 386.1 L687.7 386.2 L687.2 386.4 L686 386.7 L684.2 387.3 L682 388.1 L679.5 389 L676.6 390.2 L673.5 391.5 L670.2 393 L666.9 394.7 L663.9 396.3 L661 397.9 L658 399.6 L654.9 401.4 L651.8 403.2 L648.6 405.1 L645.4 407.1 L642.2 409.1 L639.1 411.1 L636 413.1 L633 415.1 L630 417.2 L627 419.3 L624.1 421.4 L621.1 423.5 L618.2 425.6 L615.3 427.8 L612.4 430 L609.6 432.2 L606.8 434.5 L604 436.8 L601.2 439.1 L598.5 441.4 L595.7 443.7 L593 446 L590.4 448.4 L587.7 450.8 L585.1 453.2 L582.5 455.6 L579.9 458 L577.4 460.4 L574.9 462.8 L572.4 465.3 L569.9 467.8 L567.3 470.4 L564.7 473.1 L562.1 475.8 L559.4 478.7 L556.6 481.7 L554 484.7 L551.5 487.5 L548.9 490.3 L546.1 493.5 L543.2 496.9 L540 500.5 L536.8 504.4 L533.5 508.6 L530.2 513.1 L526.9 517.8 L523.8 522.7 L521 527.3 L518.5 531.8 L516 536.4 L513.7 541.1 L511.4 545.9 L509.2 550.8 L507.2 555.7 L505.3 560.8 L503.5 566 L501.7 571.4 L500.1 577.1 L498.6 582.9 L497.3 588.5 L496.2 594.1 L495.2 599.5 L494.3 604.8 L493.4 609.9 L492.7 615 L491.9 619.8 L491.2 624.7 L490.5 629.9 L489.9 635.2 L489.3 640.5 L488.8 645.7 L488.3 650.8 L487.9 655.9 L487.5 660.8 L487.1 665.7 L486.7 670.5 L486.3 675.3 L486 680.3 L485.6 685.3 L485.3 690.3 L485 695.3 L484.7 700.3 L484.4 705.2 L484.2 710.1 L483.9 714.9 L483.7 719.8 L483.4 724.7 L483.1 729.9 L482.8 735.6 L482.6 741.4 L482.3 747.3 L482 753.1 L481.8 758.6 L481.5 763.7 L481.3 768.3 L481.1 772.1 L481 775.1Z" fill="#fff" opacity="0.5" filter="url(#b25)"/>
<path d="M690 424 C740 422 780 428 801 433 C830 437 870 443 892 453 C915 465 930 482 937 497 C946 520 949 545 943 562 C938 577 928 588 924 605 C921 625 923 645 928 662" stroke="#fff" stroke-width="84" fill="none" opacity="0.45" filter="url(#b25)"/>
<path d="M480 760 C478 690 482 630 500 575 C515 535 540 500 570 470" stroke="#fff" stroke-width="70" fill="none" opacity="0.5" filter="url(#b12)"/>
<ellipse cx="697" cy="700" rx="120" ry="55" fill="#fff" opacity="0.3" filter="url(#b25)"/>
<ellipse cx="692" cy="380" rx="70" ry="54" fill="#fff" opacity="0.5" filter="url(#b12)"/>
<ellipse cx="685" cy="372" rx="18" ry="32" fill="#fff" opacity="0.5" filter="url(#b6)"/>
<ellipse cx="725" cy="468" rx="95" ry="34" fill="#fff" opacity="0.5" filter="url(#b12)"/>
<ellipse cx="655" cy="402" rx="75" ry="28" fill="#fff" opacity="0.4" filter="url(#b12)"/>
<ellipse cx="745" cy="400" rx="45" ry="20" fill="#fff" opacity="0.25" filter="url(#b12)"/>
<path d="M600 760 C598 700 600 650 612 600 C625 560 650 525 690 495" stroke="#fff" stroke-width="56" fill="none" opacity="0.4" filter="url(#b12)"/>
<ellipse cx="735" cy="600" rx="185" ry="125" fill="#fff" opacity="0.22" filter="url(#b25)"/>
<ellipse cx="838" cy="526" rx="72" ry="52" fill="rgb(148,148,148)" opacity="0.8" filter="url(#b25)"/>
<ellipse cx="705" cy="585" rx="70" ry="42" fill="rgb(173,173,173)" opacity="0.5" filter="url(#b25)"/>
<path d="M581 775 L580.9 772 L580.7 768.1 L580.5 763.5 L580.3 758.4 L580.1 753 L579.8 747.2 L579.6 741.4 L579.4 735.7 L579.1 730.3 L579 725.2 L578.8 720.3 L578.6 715.4 L578.4 710.6 L578.3 705.9 L578.1 701.1 L578 696.5 L577.8 691.8 L577.7 687.2 L577.6 682.6 L577.6 678 L577.5 673.3 L577.5 668.6 L577.4 663.9 L577.4 659.3 L577.4 654.8 L577.4 650.3 L577.5 645.9 L577.6 641.6 L577.7 637.4 L577.9 633.1 L578.2 628.6 L578.5 624.1 L578.8 619.7 L579.1 615.3 L579.4 611.1 L579.8 607.1 L580.3 603.2 L580.8 599.5 L581.4 596.1 L582 592.8 L582.8 589.5 L583.6 586.2 L584.5 583.1 L585.4 580 L586.5 577 L587.6 574 L588.8 571 L590.1 568 L591.4 565.1 L592.8 562.2 L594.2 559.5 L595.8 556.8 L597.5 553.9 L599.5 551 L601.5 548 L603.7 544.9 L606 541.8 L608.3 538.7 L610.6 535.6 L612.9 532.6 L614.9 529.9 L616.9 527.3 L618.8 524.9 L620.7 522.5 L622.5 520.2 L624.4 517.9 L626.4 515.7 L628.3 513.4 L630.3 511.1 L632.4 508.8 L634.4 506.5 L636.5 504.3 L638.5 502 L640.5 499.9 L642.6 497.7 L644.6 495.6 L646.7 493.5 L648.8 491.4 L650.9 489.3 L653 487.3 L655.2 485.2 L657.4 483.2 L659.6 481.1 L661.8 479.1 L664.1 477.1 L666.4 475.2 L668.6 473.2 L670.9 471.3 L673.2 469.4 L675.5 467.6 L677.8 465.8 L680.2 463.9 L682.7 462 L685.2 460.2 L687.8 458.4 L690.2 456.6 L692.6 455 L694.8 453.4 L696.9 452.1 L698.7 450.9 L700.1 450 L701.5 449.2 L702.8 448.5 L704.2 447.8 L705.5 447.2 L706.8 446.6 L708.1 446.1 L709.4 445.5 L710.8 445 L712 444.4 L696 405.6 L695.4 405.8 L694.6 406 L693.3 406.5 L691.7 407 L689.8 407.7 L687.6 408.5 L685.3 409.4 L682.7 410.5 L680 411.7 L677.3 413.1 L674.7 414.5 L672 416 L669.2 417.6 L666.3 419.3 L663.4 421 L660.4 422.8 L657.4 424.7 L654.4 426.6 L651.4 428.5 L648.5 430.4 L645.7 432.3 L642.9 434.2 L640.1 436.2 L637.3 438.2 L634.5 440.2 L631.8 442.3 L629.1 444.4 L626.3 446.5 L623.7 448.6 L621 450.7 L618.4 452.9 L615.7 455.1 L613.2 457.3 L610.6 459.5 L608.1 461.7 L605.5 464 L603 466.2 L600.5 468.5 L598.1 470.9 L595.6 473.2 L593.2 475.5 L590.8 477.9 L588.4 480.2 L586 482.6 L583.6 485.1 L581.1 487.6 L578.7 490.2 L576.2 492.9 L573.6 495.7 L571.1 498.6 L568.6 501.4 L566.1 504.3 L563.3 507.4 L560.5 510.6 L557.6 514.1 L554.7 517.7 L551.7 521.5 L548.8 525.4 L545.9 529.6 L543.2 533.8 L540.7 537.9 L538.5 541.9 L536.3 546 L534.2 550.2 L532.2 554.5 L530.3 558.8 L528.5 563.3 L526.7 567.8 L525.1 572.4 L523.6 577.2 L522.2 582.3 L520.9 587.4 L519.7 592.5 L518.7 597.6 L517.8 602.6 L516.9 607.6 L516.1 612.5 L515.4 617.4 L514.7 622.1 L514.1 626.9 L513.4 631.9 L512.8 636.9 L512.3 641.9 L511.8 646.9 L511.4 651.9 L511 656.8 L510.6 661.6 L510.3 666.4 L510 671.2 L509.6 676 L509.3 680.9 L509 685.8 L508.7 690.7 L508.4 695.6 L508.2 700.5 L507.9 705.3 L507.7 710.2 L507.5 715.1 L507.3 719.9 L507 724.8 L506.8 730 L506.6 735.6 L506.3 741.4 L506.1 747.3 L505.9 753 L505.6 758.6 L505.4 763.7 L505.3 768.2 L505.1 772.1 L505 775Z" fill="#fff" opacity="0.45" filter="url(#b12)"/>
<path d="M576 775 L575.9 772 L575.7 768.1 L575.5 763.5 L575.3 758.4 L575.1 753 L574.8 747.2 L574.6 741.4 L574.4 735.7 L574.1 730.3 L574 725.2 L573.8 720.3 L573.6 715.4 L573.4 710.6 L573.3 705.8 L573.1 701.1 L573 696.4 L572.8 691.7 L572.7 687.1 L572.6 682.5 L572.6 677.9 L572.5 673.1 L572.5 668.4 L572.5 663.7 L572.4 659.1 L572.4 654.6 L572.4 650.1 L572.5 645.6 L572.6 641.2 L572.7 636.9 L573 632.6 L573.2 628.1 L573.5 623.6 L573.8 619.1 L574.1 614.7 L574.5 610.5 L574.9 606.3 L575.4 602.3 L575.9 598.5 L576.5 594.9 L577.2 591.5 L578 588.1 L578.8 584.7 L579.8 581.4 L580.8 578.2 L581.9 575 L583 571.9 L584.3 568.8 L585.6 565.8 L587 562.7 L588.5 559.7 L590 556.9 L591.6 554 L593.5 551 L595.5 548 L597.6 544.9 L599.8 541.8 L602.1 538.7 L604.4 535.6 L606.8 532.5 L609 529.5 L611.1 526.7 L613 524.1 L615 521.6 L616.9 519.2 L618.8 516.9 L620.8 514.6 L622.7 512.3 L624.7 510 L626.7 507.6 L628.8 505.3 L630.9 503 L632.9 500.7 L635 498.5 L637 496.3 L639.1 494.1 L641.2 491.9 L643.3 489.8 L645.4 487.7 L647.5 485.6 L649.7 483.5 L651.9 481.4 L654.1 479.4 L656.4 477.3 L658.7 475.3 L661 473.2 L663.3 471.2 L665.6 469.3 L667.9 467.3 L670.2 465.4 L672.6 463.6 L674.9 461.7 L677.4 459.8 L679.9 457.9 L682.5 456 L685 454.2 L687.5 452.4 L689.9 450.7 L692.2 449.2 L694.4 447.7 L696.2 446.5 L697.8 445.6 L699.3 444.7 L700.8 443.9 L702.2 443.2 L703.6 442.6 L705 442 L706.3 441.4 L707.6 440.9 L709 440.3 L710.1 439.8 L697.9 410.2 L697.2 410.4 L696.3 410.7 L695.1 411.1 L693.5 411.7 L691.6 412.3 L689.6 413.1 L687.3 414 L684.9 415 L682.3 416.2 L679.8 417.5 L677.2 418.8 L674.6 420.3 L671.9 421.8 L669 423.5 L666.1 425.2 L663.1 427 L660.2 428.8 L657.2 430.7 L654.3 432.6 L651.4 434.4 L648.7 436.3 L645.9 438.2 L643.1 440.2 L640.4 442.1 L637.7 444.1 L634.9 446.2 L632.2 448.2 L629.6 450.3 L626.9 452.4 L624.3 454.5 L621.7 456.6 L619.1 458.8 L616.6 460.9 L614 463.1 L611.5 465.3 L609 467.5 L606.6 469.8 L604.1 472.1 L601.6 474.4 L599.2 476.7 L596.8 479 L594.4 481.3 L592.1 483.6 L589.7 486 L587.3 488.4 L584.9 490.9 L582.5 493.5 L580 496.2 L577.5 498.9 L575 501.7 L572.5 504.6 L569.9 507.5 L567.2 510.5 L564.4 513.7 L561.6 517.1 L558.7 520.7 L555.8 524.4 L552.9 528.2 L550.1 532.2 L547.5 536.3 L545.2 540.3 L542.9 544.2 L540.8 548.2 L538.7 552.2 L536.8 556.4 L534.9 560.6 L533.2 564.9 L531.5 569.3 L529.9 573.9 L528.4 578.5 L527 583.4 L525.8 588.4 L524.6 593.4 L523.6 598.3 L522.7 603.3 L521.9 608.2 L521.1 613.1 L520.4 617.9 L519.7 622.7 L519 627.4 L518.4 632.3 L517.8 637.3 L517.3 642.2 L516.8 647.2 L516.4 652.1 L516 656.9 L515.6 661.8 L515.3 666.6 L515 671.4 L514.6 676.1 L514.3 681 L514 685.9 L513.7 690.8 L513.4 695.7 L513.2 700.5 L512.9 705.4 L512.7 710.2 L512.5 715.1 L512.3 719.9 L512 724.8 L511.8 730 L511.6 735.6 L511.3 741.4 L511.1 747.3 L510.9 753 L510.6 758.6 L510.4 763.7 L510.3 768.2 L510.1 772.1 L510 775Z" fill="#fff" filter="url(#b6)"/>
<path d="M690 424 C740 422 780 428 801 433 C830 437 870 443 892 453 C915 465 930 482 937 497 C946 520 949 545 943 562 C938 577 928 588 924 605 C921 625 923 645 928 662" stroke="#fff" stroke-width="24" fill="none" opacity="0.92" filter="url(#b6)"/>
<path d="M846 438 C880 445 915 463 931 486 C947 515 951 545 944 562 C939 577 929 588 925 605" stroke="#fff" stroke-width="19" fill="none" filter="url(#b6)"/>
<path d="M938 560 C930 580 922 600 923 640" stroke="#fff" stroke-width="24" fill="none" opacity="0.9" filter="url(#b12)"/>
<circle cx="806" cy="432" r="9" fill="#fff" filter="url(#b6)"/>
<ellipse cx="693" cy="427" rx="20" ry="15" fill="#fff" filter="url(#b6)"/>
<ellipse cx="926" cy="598" rx="13" ry="40" fill="#fff" filter="url(#b6)"/>
<path d="M884 452 C905 470 922 495 928 520 C930 540 926 556 912 566" stroke="#fff" stroke-width="9" fill="none" opacity="0.8" filter="url(#b6)"/>
<path d="M849.5 99 L890.6 157 L919.7 220 L943.8 268 L972.9 341 L1001.9 428 L1021 505 L1031 578 L1038 626 L1042 675 L1049 730" stroke="#000" stroke-width="36" fill="none" opacity="0.3" filter="url(#b12)"/>
<path d="M870 60 L905 150 L935 215 L960 268 L990 341 L1018 428 L1038 505 L1050 578 L1056 626 L1060 675 L1066 730" stroke="#000" stroke-width="34" fill="none" opacity="0.4" filter="url(#b12)"/>
<path d="M60 712 L430 732 L560 735" stroke="#000" stroke-width="36" fill="none" opacity="0.3" filter="url(#b6)"/>
</g></g></g>
</g>
<g clip-path="url(#cpBox)">
<g fill="none" stroke="#fff" stroke-width="3.4" stroke-dasharray="3.4 7.7">
<circle cx="696.8" cy="692.2" r="135"/>
<circle cx="696.8" cy="692.2" r="266.9"/>
<circle cx="696.8" cy="692.2" r="393.5"/>
<circle cx="696.8" cy="692.2" r="511.4"/>
<circle cx="696.8" cy="692.2" r="615.7"/>
<path d="M696.8 670.4L696.8 76.5"/>
<path d="M702.4 671.1L856.2 97.5"/>
<path d="M707.7 673.3L1004.6 159"/>
<path d="M712.2 676.8L1132.2 256.8"/>
<path d="M715.7 681.3L1230 384.3"/>
<path d="M717.9 686.6L1291.5 532.8"/>
<path d="M718.6 692.2L1313.8 692.2"/>
<path d="M717.9 697.8L1291.5 851.6"/>
<path d="M715.7 703.1L1230 1000"/>
<path d="M712.2 707.6L1132.2 1127.6"/>
<path d="M707.7 711.1L1004.6 1225.4"/>
<path d="M702.4 713.3L856.2 1286.9"/>
<path d="M691.2 713.3L537.4 1286.9"/>
<path d="M685.9 711.1L388.9 1225.4"/>
<path d="M681.4 707.6L261.4 1127.6"/>
<path d="M677.9 703.1L163.6 1000.1"/>
<path d="M675.7 697.8L102.1 851.6"/>
<path d="M675 692.2L80 692.2"/>
<path d="M675.7 686.6L102.1 532.8"/>
<path d="M677.9 681.3L163.6 384.3"/>
<path d="M681.4 676.8L261.4 256.8"/>
<path d="M685.9 673.3L388.9 159"/>
<path d="M691.2 671.1L537.4 97.5"/>
</g>
<circle cx="696.8" cy="692.2" r="12.7" fill="none" stroke="#fff" stroke-width="3.3"/>
<circle cx="696.8" cy="692.2" r="3.4" fill="#fff"/>
<path d="M696.6 692V1308.6" stroke="#e13d0c" stroke-width="4.5" fill="none"/>
<polygon points="853.6,362.3 878.5,375.6 854.7,391.2" fill="#ababab"/>
<path d="M878.2 347.1L867 367.7" stroke="#ababab" stroke-width="2.2" fill="none"/>
<polygon points="997,636.6 1019,618.2 1024.8,646.7" fill="#a2a2a2"/>
<path d="M1021.9 632.6L1034.2 630" stroke="#a2a2a2" stroke-width="2.2" fill="none"/>
<polygon points="892.8,825.8 922.1,827.1 905.4,852.1" fill="#d6d6d6"/>
<path d="M914.5 840L946.4 861.7" stroke="#d6d6d6" stroke-width="3.4" fill="none"/>
<polygon points="926.1,880.1 955.5,884.5 936.3,907.7" fill="#ffffff"/>
<path d="M945.9 896.6L984.8 928" stroke="#ffffff" stroke-width="4.6" fill="none"/>
</g>
<rect x="1339.6" y="1000.4" width="47.2" height="307.1" fill="url(#cbg)" stroke="#000" stroke-width="2.2"/>
<path d="M1339.6 1307.2h5.5 M1386.8 1307.2h-5.5 M1339.6 1278.1h2.6 M1386.8 1278.1h-2.6 M1339.6 1261.1h2.6 M1386.8 1261.1h-2.6 M1339.6 1249h2.6 M1386.8 1249h-2.6 M1339.6 1239.6h2.6 M1386.8 1239.6h-2.6 M1339.6 1232h2.6 M1386.8 1232h-2.6 M1339.6 1225.5h2.6 M1386.8 1225.5h-2.6 M1339.6 1219.9h2.6 M1386.8 1219.9h-2.6 M1339.6 1214.9h2.6 M1386.8 1214.9h-2.6 M1339.6 1210.5h5.5 M1386.8 1210.5h-5.5 M1339.6 1181.4h2.6 M1386.8 1181.4h-2.6 M1339.6 1164.4h2.6 M1386.8 1164.4h-2.6 M1339.6 1152.3h2.6 M1386.8 1152.3h-2.6 M1339.6 1142.9h2.6 M1386.8 1142.9h-2.6 M1339.6 1135.3h2.6 M1386.8 1135.3h-2.6 M1339.6 1128.8h2.6 M1386.8 1128.8h-2.6 M1339.6 1123.2h2.6 M1386.8 1123.2h-2.6 M1339.6 1118.2h2.6 M1386.8 1118.2h-2.6 M1339.6 1113.8h5.5 M1386.8 1113.8h-5.5 M1339.6 1084.7h2.6 M1386.8 1084.7h-2.6 M1339.6 1067.7h2.6 M1386.8 1067.7h-2.6 M1339.6 1055.6h2.6 M1386.8 1055.6h-2.6 M1339.6 1046.2h2.6 M1386.8 1046.2h-2.6 M1339.6 1038.6h2.6 M1386.8 1038.6h-2.6 M1339.6 1032.1h2.6 M1386.8 1032.1h-2.6 M1339.6 1026.5h2.6 M1386.8 1026.5h-2.6 M1339.6 1021.5h2.6 M1386.8 1021.5h-2.6 M1339.6 1017.1h5.5 M1386.8 1017.1h-5.5 M1343.5 1000.4v2.6 M1347.5 1000.4v2.6 M1351.4 1000.4v4.4 M1355.3 1000.4v2.6 M1359.3 1000.4v2.6 M1363.2 1000.4v4.4 M1367.1 1000.4v2.6 M1371.1 1000.4v2.6 M1375 1000.4v4.4 M1378.9 1000.4v2.6 M1382.9 1000.4v2.6" stroke="#000" stroke-width="1.3" fill="none"/>
<g font-family="'Liberation Sans', Arial, Helvetica, sans-serif" fill="#000">
<text x="675.5" y="56" font-size="50.5">0</text>
<text x="702.6" y="33.2" font-size="22.5">o</text>
<text transform="translate(649.2 1363.2) scale(0.925 1.03)" font-size="52">180</text>
<text x="730.4" y="1340" font-size="22.5">o</text>
<g transform="translate(57.2 737.6) rotate(-90)"><text x="0" y="0" font-size="51">270</text><text x="84" y="-22.6" font-size="22.5">o</text></g>
<g transform="translate(1331 654.6) rotate(90)"><text x="0" y="0" font-size="51">90</text><text x="56.4" y="-22.6" font-size="22.5">o</text></g>
<text x="1316.8" y="984.6" font-size="37">kR H</text>
<text x="1399.4" y="989.8" font-size="17">2</text>
<text transform="translate(1395.3 1027.4) scale(1 1.07)" font-size="29.4">1000</text>
<text transform="translate(1395.3 1124.2) scale(1 1.07)" font-size="29.4">100</text>
<text transform="translate(1395.3 1220.9) scale(1 1.07)" font-size="29.4">10</text>
<text transform="translate(1395.3 1307.6) scale(1 1.07)" font-size="29.4">1</text>
</g>
</svg></body></html>
